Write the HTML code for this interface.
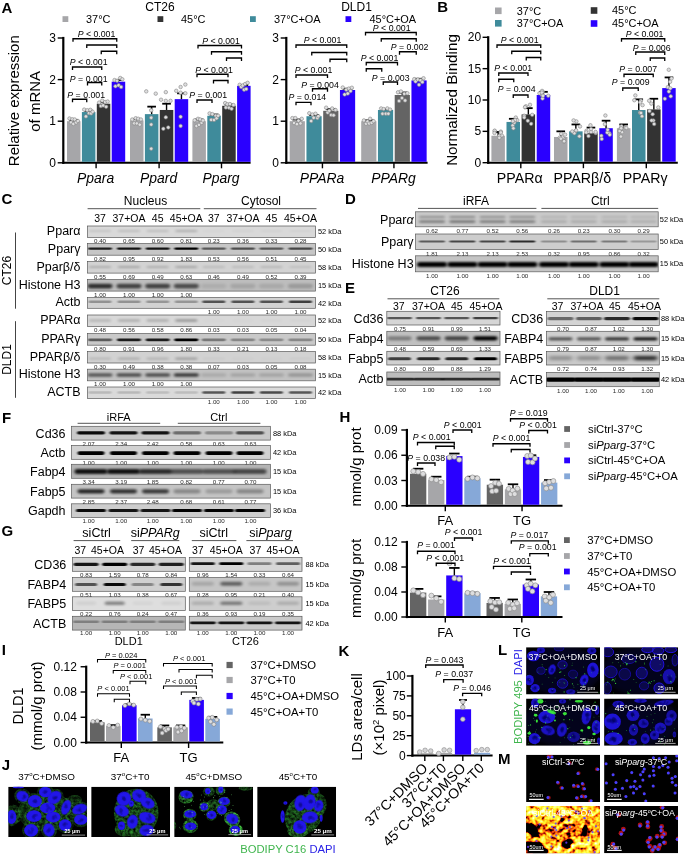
<!DOCTYPE html>
<html lang="en"><head><meta charset="utf-8"><title>Figure</title>
<style>
html,body{margin:0;padding:0;background:#fff}
body{width:685px;height:854px;overflow:hidden}
svg{display:block;font-family:"Liberation Sans",Arial,sans-serif;fill:#000}
</style></head><body>
<svg width="685" height="854" viewBox="0 0 685 854">
<defs>
<filter id="bl1" x="-20%" y="-100%" width="140%" height="300%"><feGaussianBlur stdDeviation="0.9 0.55"/></filter>
<filter id="bl2" x="-20%" y="-100%" width="140%" height="300%"><feGaussianBlur stdDeviation="1.6 1.0"/></filter>
<filter id="bl3" x="-20%" y="-100%" width="140%" height="300%"><feGaussianBlur stdDeviation="2.2 1.5"/></filter>
<filter id="g1" x="-30%" y="-30%" width="160%" height="160%"><feGaussianBlur stdDeviation="0.45"/></filter>
<filter id="g2" x="-30%" y="-30%" width="160%" height="160%"><feGaussianBlur stdDeviation="1.3"/></filter>
<filter id="g3" x="-40%" y="-40%" width="180%" height="180%"><feGaussianBlur stdDeviation="2.6"/></filter>
<filter id="gm" x="-30%" y="-30%" width="160%" height="160%"><feGaussianBlur stdDeviation="0.85"/></filter>
<filter id="gc" x="-50%" y="-50%" width="200%" height="200%"><feGaussianBlur stdDeviation="0.6"/></filter>
<filter id="gn" x="-10%" y="-10%" width="120%" height="120%"><feGaussianBlur stdDeviation="0.75" result="b"/><feTurbulence type="fractalNoise" baseFrequency="0.38" numOctaves="2" seed="3"/><feColorMatrix type="matrix" values="0 0 0 0 1  0 0 0 0 1  0 0 0 0 1  1.5 0 0 0 -0.2" result="n"/><feComposite in="b" in2="n" operator="in"/></filter>
<filter id="g0" x="-30%" y="-30%" width="160%" height="160%"><feGaussianBlur stdDeviation="0.25"/></filter>
<filter id="fire" x="0" y="0" width="100%" height="100%" color-interpolation-filters="sRGB"><feGaussianBlur in="SourceGraphic" stdDeviation="0.9" result="m"/><feTurbulence type="fractalNoise" baseFrequency="0.2 0.22" numOctaves="2" seed="11"/><feColorMatrix type="matrix" values="1 0 0 0 0  1 0 0 0 0  1 0 0 0 0  0 0 0 0 1" result="a"/><feTurbulence type="fractalNoise" baseFrequency="0.05 0.06" numOctaves="1" seed="5"/><feColorMatrix type="matrix" values="1 0 0 0 0  1 0 0 0 0  1 0 0 0 0  0 0 0 0 1" result="b"/><feComposite in="a" in2="b" operator="arithmetic" k1="0" k2="1" k3="0.4" k4="-0.13" result="c"/><feComposite in="c" in2="m" operator="arithmetic" k1="1" k2="0" k3="0" k4="0"/><feComponentTransfer><feFuncR type="table" tableValues="0 0 0 0 0.1 0.65 1 1 1 1 1 1 1 1"/><feFuncG type="table" tableValues="0 0 0 0 0 0.08 0.35 0.7 0.9 1 1 1 1 1"/><feFuncB type="table" tableValues="0 0 0 0 0 0.02 0.04 0.06 0.12 0.25 0.45 0.7 1 1"/><feFuncA type="linear" slope="0" intercept="1"/></feComponentTransfer></filter>
</defs>
<rect x="0" y="0" width="685" height="854" fill="#fff"/>
<text x="1.4" y="12.6" font-size="15" font-weight="bold">A</text>
<text x="160" y="10.5" font-size="12" text-anchor="middle">CT26</text>
<text x="356.5" y="10.5" font-size="12" text-anchor="middle">DLD1</text>
<rect x="62.5" y="16.2" width="5.8" height="5.8" fill="#a6a6a9"/>
<text x="86" y="23" font-size="10.95">37°C</text>
<rect x="157.5" y="16.2" width="5.8" height="5.8" fill="#333333"/>
<text x="181" y="23" font-size="10.95">45°C</text>
<rect x="250" y="16.2" width="5.8" height="5.8" fill="#3f8b9b"/>
<text x="274" y="23" font-size="10.95">37°C+OA</text>
<rect x="345.5" y="16.2" width="5.8" height="5.8" fill="#2a00ff"/>
<text x="369.5" y="23" font-size="10.95">45°C+OA</text>
<text x="19.1" y="100.7" font-size="15" text-anchor="middle" transform="rotate(-90 19.1 100.7)">Relative expression</text>
<text x="40.2" y="101.3" font-size="15" text-anchor="middle" transform="rotate(-90 40.2 101.3)">of mRNA</text>
<line x1="62.3" y1="162.8" x2="250.6" y2="162.8" stroke="#000" stroke-width="2"/>
<line x1="96.1" y1="162.8" x2="96.1" y2="168.3" stroke="#000" stroke-width="1.4"/>
<line x1="159.1" y1="162.8" x2="159.1" y2="168.3" stroke="#000" stroke-width="1.4"/>
<line x1="221.5" y1="162.8" x2="221.5" y2="168.3" stroke="#000" stroke-width="1.4"/>
<rect x="67" y="121.2" width="13.5" height="40.6" fill="#a6a6a9"/>
<line x1="73.75" y1="121.2" x2="73.75" y2="119.95" stroke="#000" stroke-width="1.4"/>
<line x1="69.43" y1="119.95" x2="78.07" y2="119.95" stroke="#000" stroke-width="1.8"/>
<circle cx="69.46" cy="118.47" r="1.75" fill="#dededf" stroke="#858585" stroke-width="0.6"/>
<circle cx="71.07" cy="122.39" r="1.75" fill="#dededf" stroke="#858585" stroke-width="0.6"/>
<circle cx="72.39" cy="119.25" r="1.75" fill="#dededf" stroke="#858585" stroke-width="0.6"/>
<circle cx="73.36" cy="123.96" r="1.75" fill="#dededf" stroke="#858585" stroke-width="0.6"/>
<circle cx="74.76" cy="119.49" r="1.75" fill="#dededf" stroke="#858585" stroke-width="0.6"/>
<circle cx="76.14" cy="122.46" r="1.75" fill="#dededf" stroke="#858585" stroke-width="0.6"/>
<circle cx="77.84" cy="120.91" r="1.75" fill="#dededf" stroke="#858585" stroke-width="0.6"/>
<rect x="81.9" y="112.05" width="13.5" height="49.75" fill="#3f8b9b"/>
<line x1="88.65" y1="112.05" x2="88.65" y2="110.8" stroke="#000" stroke-width="1.4"/>
<line x1="84.33" y1="110.8" x2="92.97" y2="110.8" stroke="#000" stroke-width="1.8"/>
<circle cx="84.2" cy="109.58" r="1.75" fill="#dededf" stroke="#858585" stroke-width="0.6"/>
<circle cx="85.95" cy="116.39" r="1.75" fill="#dededf" stroke="#858585" stroke-width="0.6"/>
<circle cx="87.33" cy="110.21" r="1.75" fill="#dededf" stroke="#858585" stroke-width="0.6"/>
<circle cx="89" cy="113.15" r="1.75" fill="#dededf" stroke="#858585" stroke-width="0.6"/>
<circle cx="90.32" cy="109.82" r="1.75" fill="#dededf" stroke="#858585" stroke-width="0.6"/>
<circle cx="91.1" cy="113.4" r="1.75" fill="#dededf" stroke="#858585" stroke-width="0.6"/>
<circle cx="92.65" cy="111.72" r="1.75" fill="#dededf" stroke="#858585" stroke-width="0.6"/>
<rect x="96.8" y="103.73" width="13.5" height="58.07" fill="#333333"/>
<line x1="103.55" y1="103.73" x2="103.55" y2="102.06" stroke="#000" stroke-width="1.4"/>
<line x1="99.23" y1="102.06" x2="107.87" y2="102.06" stroke="#000" stroke-width="1.8"/>
<circle cx="99.14" cy="102.55" r="1.75" fill="#dededf" stroke="#858585" stroke-width="0.6"/>
<circle cx="100.86" cy="106" r="1.75" fill="#dededf" stroke="#858585" stroke-width="0.6"/>
<circle cx="102.2" cy="100.68" r="1.75" fill="#dededf" stroke="#858585" stroke-width="0.6"/>
<circle cx="103.16" cy="105.4" r="1.75" fill="#dededf" stroke="#858585" stroke-width="0.6"/>
<circle cx="105.08" cy="102" r="1.75" fill="#dededf" stroke="#858585" stroke-width="0.6"/>
<circle cx="106.14" cy="106.77" r="1.75" fill="#dededf" stroke="#858585" stroke-width="0.6"/>
<circle cx="107.66" cy="101.54" r="1.75" fill="#dededf" stroke="#858585" stroke-width="0.6"/>
<rect x="111.7" y="81.68" width="13.5" height="80.12" fill="#2a00ff"/>
<line x1="118.45" y1="81.68" x2="118.45" y2="80.02" stroke="#000" stroke-width="1.4"/>
<line x1="114.13" y1="80.02" x2="122.77" y2="80.02" stroke="#000" stroke-width="1.8"/>
<circle cx="114.53" cy="80.07" r="1.75" fill="#dededf" stroke="#858585" stroke-width="0.6"/>
<circle cx="115.44" cy="86.27" r="1.75" fill="#dededf" stroke="#858585" stroke-width="0.6"/>
<circle cx="117.09" cy="80.7" r="1.75" fill="#dededf" stroke="#858585" stroke-width="0.6"/>
<circle cx="118.6" cy="85.24" r="1.75" fill="#dededf" stroke="#858585" stroke-width="0.6"/>
<circle cx="120.22" cy="77.98" r="1.75" fill="#dededf" stroke="#858585" stroke-width="0.6"/>
<circle cx="121.12" cy="86.93" r="1.75" fill="#dededf" stroke="#858585" stroke-width="0.6"/>
<circle cx="122.32" cy="79.31" r="1.75" fill="#dededf" stroke="#858585" stroke-width="0.6"/>
<text x="95.6" y="182.5" font-size="13.9" text-anchor="middle" font-style="italic">Ppara</text>
<rect x="130" y="120.37" width="13.5" height="41.43" fill="#a6a6a9"/>
<line x1="136.75" y1="120.37" x2="136.75" y2="119.12" stroke="#000" stroke-width="1.4"/>
<line x1="132.43" y1="119.12" x2="141.07" y2="119.12" stroke="#000" stroke-width="1.8"/>
<circle cx="132.23" cy="119.5" r="1.75" fill="#dededf" stroke="#858585" stroke-width="0.6"/>
<circle cx="134.16" cy="123.36" r="1.75" fill="#dededf" stroke="#858585" stroke-width="0.6"/>
<circle cx="135.67" cy="118.23" r="1.75" fill="#dededf" stroke="#858585" stroke-width="0.6"/>
<circle cx="136.87" cy="123.44" r="1.75" fill="#dededf" stroke="#858585" stroke-width="0.6"/>
<circle cx="138.2" cy="118.74" r="1.75" fill="#dededf" stroke="#858585" stroke-width="0.6"/>
<circle cx="139.76" cy="124.7" r="1.75" fill="#dededf" stroke="#858585" stroke-width="0.6"/>
<circle cx="140.88" cy="119.49" r="1.75" fill="#dededf" stroke="#858585" stroke-width="0.6"/>
<rect x="144.9" y="114.13" width="13.5" height="47.67" fill="#3f8b9b"/>
<line x1="151.65" y1="114.13" x2="151.65" y2="106.64" stroke="#000" stroke-width="1.4"/>
<line x1="147.33" y1="106.64" x2="155.97" y2="106.64" stroke="#000" stroke-width="1.8"/>
<circle cx="146.25" cy="91.37" r="1.75" fill="#dededf" stroke="#858585" stroke-width="0.6"/>
<circle cx="155.74" cy="93.64" r="1.75" fill="#dededf" stroke="#858585" stroke-width="0.6"/>
<circle cx="151.19" cy="110.34" r="1.75" fill="#dededf" stroke="#858585" stroke-width="0.6"/>
<circle cx="151.19" cy="117.74" r="1.75" fill="#dededf" stroke="#858585" stroke-width="0.6"/>
<circle cx="151.19" cy="124.57" r="1.75" fill="#dededf" stroke="#858585" stroke-width="0.6"/>
<circle cx="151.19" cy="148.67" r="1.75" fill="#dededf" stroke="#858585" stroke-width="0.6"/>
<rect x="159.8" y="109.97" width="13.5" height="51.83" fill="#333333"/>
<line x1="166.55" y1="109.97" x2="166.55" y2="103.73" stroke="#000" stroke-width="1.4"/>
<line x1="162.23" y1="103.73" x2="170.87" y2="103.73" stroke="#000" stroke-width="1.8"/>
<circle cx="165.8" cy="92.13" r="1.75" fill="#dededf" stroke="#858585" stroke-width="0.6"/>
<circle cx="161.05" cy="99.72" r="1.75" fill="#dededf" stroke="#858585" stroke-width="0.6"/>
<circle cx="165.8" cy="100.85" r="1.75" fill="#dededf" stroke="#858585" stroke-width="0.6"/>
<circle cx="170.54" cy="100.85" r="1.75" fill="#dededf" stroke="#858585" stroke-width="0.6"/>
<circle cx="165.8" cy="117.36" r="1.75" fill="#dededf" stroke="#858585" stroke-width="0.6"/>
<circle cx="163.33" cy="128.75" r="1.75" fill="#dededf" stroke="#858585" stroke-width="0.6"/>
<circle cx="168.26" cy="127.42" r="1.75" fill="#dededf" stroke="#858585" stroke-width="0.6"/>
<rect x="174.7" y="99.15" width="13.5" height="62.65" fill="#2a00ff"/>
<line x1="181.45" y1="99.15" x2="181.45" y2="93.33" stroke="#000" stroke-width="1.4"/>
<line x1="177.13" y1="93.33" x2="185.77" y2="93.33" stroke="#000" stroke-width="1.8"/>
<circle cx="176.23" cy="90.8" r="1.75" fill="#dededf" stroke="#858585" stroke-width="0.6"/>
<circle cx="180.6" cy="87" r="1.75" fill="#dededf" stroke="#858585" stroke-width="0.6"/>
<circle cx="185.34" cy="84.54" r="1.75" fill="#dededf" stroke="#858585" stroke-width="0.6"/>
<circle cx="180.6" cy="92.69" r="1.75" fill="#dededf" stroke="#858585" stroke-width="0.6"/>
<circle cx="185.34" cy="93.26" r="1.75" fill="#dededf" stroke="#858585" stroke-width="0.6"/>
<circle cx="180.6" cy="116.79" r="1.75" fill="#dededf" stroke="#858585" stroke-width="0.6"/>
<circle cx="180.6" cy="125.9" r="1.75" fill="#dededf" stroke="#858585" stroke-width="0.6"/>
<text x="158.6" y="182.5" font-size="13.9" text-anchor="middle" font-style="italic">Ppard</text>
<rect x="192.4" y="121.2" width="13.5" height="40.6" fill="#a6a6a9"/>
<line x1="199.15" y1="121.2" x2="199.15" y2="119.54" stroke="#000" stroke-width="1.4"/>
<line x1="194.83" y1="119.54" x2="203.47" y2="119.54" stroke="#000" stroke-width="1.8"/>
<circle cx="194.65" cy="120.29" r="1.75" fill="#dededf" stroke="#858585" stroke-width="0.6"/>
<circle cx="196.47" cy="126" r="1.75" fill="#dededf" stroke="#858585" stroke-width="0.6"/>
<circle cx="198.02" cy="118.79" r="1.75" fill="#dededf" stroke="#858585" stroke-width="0.6"/>
<circle cx="199.02" cy="124.84" r="1.75" fill="#dededf" stroke="#858585" stroke-width="0.6"/>
<circle cx="200.15" cy="119.43" r="1.75" fill="#dededf" stroke="#858585" stroke-width="0.6"/>
<circle cx="201.62" cy="122.85" r="1.75" fill="#dededf" stroke="#858585" stroke-width="0.6"/>
<circle cx="202.95" cy="120.53" r="1.75" fill="#dededf" stroke="#858585" stroke-width="0.6"/>
<rect x="207.3" y="115.79" width="13.5" height="46.01" fill="#3f8b9b"/>
<line x1="214.05" y1="115.79" x2="214.05" y2="114.54" stroke="#000" stroke-width="1.4"/>
<line x1="209.73" y1="114.54" x2="218.37" y2="114.54" stroke="#000" stroke-width="1.8"/>
<circle cx="209.6" cy="113.41" r="1.75" fill="#dededf" stroke="#858585" stroke-width="0.6"/>
<circle cx="211.16" cy="119.86" r="1.75" fill="#dededf" stroke="#858585" stroke-width="0.6"/>
<circle cx="212.33" cy="114.14" r="1.75" fill="#dededf" stroke="#858585" stroke-width="0.6"/>
<circle cx="214.06" cy="119.9" r="1.75" fill="#dededf" stroke="#858585" stroke-width="0.6"/>
<circle cx="215.69" cy="115.63" r="1.75" fill="#dededf" stroke="#858585" stroke-width="0.6"/>
<circle cx="216.61" cy="118.22" r="1.75" fill="#dededf" stroke="#858585" stroke-width="0.6"/>
<circle cx="218.09" cy="115.71" r="1.75" fill="#dededf" stroke="#858585" stroke-width="0.6"/>
<rect x="222.2" y="105.81" width="13.5" height="55.99" fill="#333333"/>
<line x1="228.95" y1="105.81" x2="228.95" y2="104.56" stroke="#000" stroke-width="1.4"/>
<line x1="224.63" y1="104.56" x2="233.27" y2="104.56" stroke="#000" stroke-width="1.8"/>
<circle cx="225.16" cy="103.08" r="1.75" fill="#dededf" stroke="#858585" stroke-width="0.6"/>
<circle cx="225.89" cy="107.57" r="1.75" fill="#dededf" stroke="#858585" stroke-width="0.6"/>
<circle cx="227.35" cy="104.28" r="1.75" fill="#dededf" stroke="#858585" stroke-width="0.6"/>
<circle cx="228.99" cy="107.68" r="1.75" fill="#dededf" stroke="#858585" stroke-width="0.6"/>
<circle cx="229.94" cy="104.05" r="1.75" fill="#dededf" stroke="#858585" stroke-width="0.6"/>
<circle cx="231.58" cy="108.78" r="1.75" fill="#dededf" stroke="#858585" stroke-width="0.6"/>
<circle cx="233.46" cy="105.02" r="1.75" fill="#dededf" stroke="#858585" stroke-width="0.6"/>
<rect x="237.1" y="85.84" width="13.5" height="75.96" fill="#2a00ff"/>
<line x1="243.85" y1="85.84" x2="243.85" y2="85.01" stroke="#000" stroke-width="1.4"/>
<line x1="239.53" y1="85.01" x2="248.17" y2="85.01" stroke="#000" stroke-width="1.8"/>
<circle cx="239.71" cy="84.79" r="1.75" fill="#dededf" stroke="#858585" stroke-width="0.6"/>
<circle cx="241.19" cy="86.96" r="1.75" fill="#dededf" stroke="#858585" stroke-width="0.6"/>
<circle cx="242.79" cy="85.38" r="1.75" fill="#dededf" stroke="#858585" stroke-width="0.6"/>
<circle cx="244.12" cy="89.64" r="1.75" fill="#dededf" stroke="#858585" stroke-width="0.6"/>
<circle cx="245.15" cy="84.01" r="1.75" fill="#dededf" stroke="#858585" stroke-width="0.6"/>
<circle cx="246.27" cy="89.05" r="1.75" fill="#dededf" stroke="#858585" stroke-width="0.6"/>
<circle cx="247.65" cy="82.81" r="1.75" fill="#dededf" stroke="#858585" stroke-width="0.6"/>
<text x="221" y="182.5" font-size="13.9" text-anchor="middle" font-style="italic">Pparg</text>
<line x1="63.3" y1="36.9" x2="63.3" y2="163.9" stroke="#000" stroke-width="2.2"/>
<line x1="57.7" y1="38" x2="63.3" y2="38" stroke="#000" stroke-width="1.4"/>
<text x="56" y="42.02" font-size="12" text-anchor="end">3</text>
<line x1="57.7" y1="79.6" x2="63.3" y2="79.6" stroke="#000" stroke-width="1.4"/>
<text x="56" y="83.62" font-size="12" text-anchor="end">2</text>
<line x1="57.7" y1="121.2" x2="63.3" y2="121.2" stroke="#000" stroke-width="1.4"/>
<text x="56" y="125.22" font-size="12" text-anchor="end">1</text>
<line x1="57.7" y1="162.8" x2="63.3" y2="162.8" stroke="#000" stroke-width="1.4"/>
<text x="56" y="166.82" font-size="12" text-anchor="end">0</text>
<line x1="285.3" y1="162.8" x2="427.6" y2="162.8" stroke="#000" stroke-width="2"/>
<line x1="322.43" y1="162.8" x2="322.43" y2="168.3" stroke="#000" stroke-width="1.4"/>
<line x1="393.93" y1="162.8" x2="393.93" y2="168.3" stroke="#000" stroke-width="1.4"/>
<rect x="289.7" y="121.2" width="15.2" height="40.6" fill="#a6a6a9"/>
<line x1="297.3" y1="121.2" x2="297.3" y2="119.54" stroke="#000" stroke-width="1.4"/>
<line x1="292.44" y1="119.54" x2="302.16" y2="119.54" stroke="#000" stroke-width="1.8"/>
<circle cx="292.39" cy="118.12" r="1.75" fill="#dededf" stroke="#858585" stroke-width="0.6"/>
<circle cx="294.02" cy="123.05" r="1.75" fill="#dededf" stroke="#858585" stroke-width="0.6"/>
<circle cx="295.34" cy="118.08" r="1.75" fill="#dededf" stroke="#858585" stroke-width="0.6"/>
<circle cx="296.94" cy="124.17" r="1.75" fill="#dededf" stroke="#858585" stroke-width="0.6"/>
<circle cx="298.48" cy="120.68" r="1.75" fill="#dededf" stroke="#858585" stroke-width="0.6"/>
<circle cx="300.47" cy="123.4" r="1.75" fill="#dededf" stroke="#858585" stroke-width="0.6"/>
<circle cx="301.78" cy="118.79" r="1.75" fill="#dededf" stroke="#858585" stroke-width="0.6"/>
<rect x="306.45" y="116.21" width="15.2" height="45.59" fill="#3f8b9b"/>
<line x1="314.05" y1="116.21" x2="314.05" y2="114.96" stroke="#000" stroke-width="1.4"/>
<line x1="309.19" y1="114.96" x2="318.91" y2="114.96" stroke="#000" stroke-width="1.8"/>
<circle cx="309.27" cy="113.22" r="1.75" fill="#dededf" stroke="#858585" stroke-width="0.6"/>
<circle cx="311.18" cy="121.01" r="1.75" fill="#dededf" stroke="#858585" stroke-width="0.6"/>
<circle cx="312.46" cy="114.52" r="1.75" fill="#dededf" stroke="#858585" stroke-width="0.6"/>
<circle cx="313.68" cy="117.8" r="1.75" fill="#dededf" stroke="#858585" stroke-width="0.6"/>
<circle cx="315.48" cy="113.73" r="1.75" fill="#dededf" stroke="#858585" stroke-width="0.6"/>
<circle cx="317.39" cy="118.02" r="1.75" fill="#dededf" stroke="#858585" stroke-width="0.6"/>
<circle cx="318.34" cy="116.2" r="1.75" fill="#dededf" stroke="#858585" stroke-width="0.6"/>
<rect x="323.2" y="110.8" width="15.2" height="51" fill="#646464"/>
<line x1="330.8" y1="110.8" x2="330.8" y2="109.14" stroke="#000" stroke-width="1.4"/>
<line x1="325.94" y1="109.14" x2="335.66" y2="109.14" stroke="#000" stroke-width="1.8"/>
<circle cx="326.15" cy="107.66" r="1.75" fill="#dededf" stroke="#858585" stroke-width="0.6"/>
<circle cx="327.68" cy="112.56" r="1.75" fill="#dededf" stroke="#858585" stroke-width="0.6"/>
<circle cx="329.26" cy="110.66" r="1.75" fill="#dededf" stroke="#858585" stroke-width="0.6"/>
<circle cx="331.05" cy="114.97" r="1.75" fill="#dededf" stroke="#858585" stroke-width="0.6"/>
<circle cx="332.17" cy="108.46" r="1.75" fill="#dededf" stroke="#858585" stroke-width="0.6"/>
<circle cx="333.61" cy="115.24" r="1.75" fill="#dededf" stroke="#858585" stroke-width="0.6"/>
<circle cx="335.5" cy="109.94" r="1.75" fill="#dededf" stroke="#858585" stroke-width="0.6"/>
<rect x="339.95" y="90" width="15.2" height="71.8" fill="#2a00ff"/>
<line x1="347.55" y1="90" x2="347.55" y2="88.75" stroke="#000" stroke-width="1.4"/>
<line x1="342.69" y1="88.75" x2="352.41" y2="88.75" stroke="#000" stroke-width="1.8"/>
<circle cx="342.74" cy="87.53" r="1.75" fill="#dededf" stroke="#858585" stroke-width="0.6"/>
<circle cx="344.65" cy="94.48" r="1.75" fill="#dededf" stroke="#858585" stroke-width="0.6"/>
<circle cx="346.27" cy="89.63" r="1.75" fill="#dededf" stroke="#858585" stroke-width="0.6"/>
<circle cx="347.77" cy="93.59" r="1.75" fill="#dededf" stroke="#858585" stroke-width="0.6"/>
<circle cx="348.89" cy="88.59" r="1.75" fill="#dededf" stroke="#858585" stroke-width="0.6"/>
<circle cx="350.51" cy="91.03" r="1.75" fill="#dededf" stroke="#858585" stroke-width="0.6"/>
<circle cx="351.85" cy="87.74" r="1.75" fill="#dededf" stroke="#858585" stroke-width="0.6"/>
<text x="321.93" y="182.5" font-size="13.9" text-anchor="middle" font-style="italic">PPARa</text>
<rect x="361.2" y="121.2" width="15.2" height="40.6" fill="#a6a6a9"/>
<line x1="368.8" y1="121.2" x2="368.8" y2="120.37" stroke="#000" stroke-width="1.4"/>
<line x1="363.94" y1="120.37" x2="373.66" y2="120.37" stroke="#000" stroke-width="1.8"/>
<circle cx="363.93" cy="120.42" r="1.75" fill="#dededf" stroke="#858585" stroke-width="0.6"/>
<circle cx="366.01" cy="123.74" r="1.75" fill="#dededf" stroke="#858585" stroke-width="0.6"/>
<circle cx="367.59" cy="121.49" r="1.75" fill="#dededf" stroke="#858585" stroke-width="0.6"/>
<circle cx="369.13" cy="123.44" r="1.75" fill="#dededf" stroke="#858585" stroke-width="0.6"/>
<circle cx="370.13" cy="118.75" r="1.75" fill="#dededf" stroke="#858585" stroke-width="0.6"/>
<circle cx="371.64" cy="122.87" r="1.75" fill="#dededf" stroke="#858585" stroke-width="0.6"/>
<circle cx="373.57" cy="121.17" r="1.75" fill="#dededf" stroke="#858585" stroke-width="0.6"/>
<rect x="377.95" y="109.97" width="15.2" height="51.83" fill="#3f8b9b"/>
<line x1="385.55" y1="109.97" x2="385.55" y2="109.14" stroke="#000" stroke-width="1.4"/>
<line x1="380.69" y1="109.14" x2="390.41" y2="109.14" stroke="#000" stroke-width="1.8"/>
<circle cx="381.15" cy="108.42" r="1.75" fill="#dededf" stroke="#858585" stroke-width="0.6"/>
<circle cx="382.52" cy="113.78" r="1.75" fill="#dededf" stroke="#858585" stroke-width="0.6"/>
<circle cx="383.66" cy="109.08" r="1.75" fill="#dededf" stroke="#858585" stroke-width="0.6"/>
<circle cx="385.84" cy="113.71" r="1.75" fill="#dededf" stroke="#858585" stroke-width="0.6"/>
<circle cx="387.31" cy="108.42" r="1.75" fill="#dededf" stroke="#858585" stroke-width="0.6"/>
<circle cx="388.37" cy="113.74" r="1.75" fill="#dededf" stroke="#858585" stroke-width="0.6"/>
<circle cx="390.09" cy="109.58" r="1.75" fill="#dededf" stroke="#858585" stroke-width="0.6"/>
<rect x="394.7" y="94.99" width="15.2" height="66.81" fill="#646464"/>
<line x1="402.3" y1="94.99" x2="402.3" y2="92.5" stroke="#000" stroke-width="1.4"/>
<line x1="397.44" y1="92.5" x2="407.16" y2="92.5" stroke="#000" stroke-width="1.8"/>
<circle cx="398" cy="92.29" r="1.75" fill="#dededf" stroke="#858585" stroke-width="0.6"/>
<circle cx="399.07" cy="100.93" r="1.75" fill="#dededf" stroke="#858585" stroke-width="0.6"/>
<circle cx="400.92" cy="91.47" r="1.75" fill="#dededf" stroke="#858585" stroke-width="0.6"/>
<circle cx="401.96" cy="98.06" r="1.75" fill="#dededf" stroke="#858585" stroke-width="0.6"/>
<circle cx="404.18" cy="93.77" r="1.75" fill="#dededf" stroke="#858585" stroke-width="0.6"/>
<circle cx="405.09" cy="100.49" r="1.75" fill="#dededf" stroke="#858585" stroke-width="0.6"/>
<circle cx="407.36" cy="93.23" r="1.75" fill="#dededf" stroke="#858585" stroke-width="0.6"/>
<rect x="411.45" y="80.43" width="15.2" height="81.37" fill="#2a00ff"/>
<line x1="419.05" y1="80.43" x2="419.05" y2="78.77" stroke="#000" stroke-width="1.4"/>
<line x1="414.19" y1="78.77" x2="423.91" y2="78.77" stroke="#000" stroke-width="1.8"/>
<circle cx="414.26" cy="79.14" r="1.75" fill="#dededf" stroke="#858585" stroke-width="0.6"/>
<circle cx="415.6" cy="81.41" r="1.75" fill="#dededf" stroke="#858585" stroke-width="0.6"/>
<circle cx="417.87" cy="79.5" r="1.75" fill="#dededf" stroke="#858585" stroke-width="0.6"/>
<circle cx="419.03" cy="84.72" r="1.75" fill="#dededf" stroke="#858585" stroke-width="0.6"/>
<circle cx="420.56" cy="80.3" r="1.75" fill="#dededf" stroke="#858585" stroke-width="0.6"/>
<circle cx="422.39" cy="82.12" r="1.75" fill="#dededf" stroke="#858585" stroke-width="0.6"/>
<circle cx="423.53" cy="78.22" r="1.75" fill="#dededf" stroke="#858585" stroke-width="0.6"/>
<text x="393.43" y="182.5" font-size="13.9" text-anchor="middle" font-style="italic">PPARg</text>
<line x1="286.3" y1="36.9" x2="286.3" y2="163.9" stroke="#000" stroke-width="2.2"/>
<line x1="280.7" y1="38" x2="286.3" y2="38" stroke="#000" stroke-width="1.4"/>
<text x="279" y="42.02" font-size="12" text-anchor="end">3</text>
<line x1="280.7" y1="79.6" x2="286.3" y2="79.6" stroke="#000" stroke-width="1.4"/>
<text x="279" y="83.62" font-size="12" text-anchor="end">2</text>
<line x1="280.7" y1="121.2" x2="286.3" y2="121.2" stroke="#000" stroke-width="1.4"/>
<text x="279" y="125.22" font-size="12" text-anchor="end">1</text>
<line x1="280.7" y1="162.8" x2="286.3" y2="162.8" stroke="#000" stroke-width="1.4"/>
<text x="279" y="166.82" font-size="12" text-anchor="end">0</text>
<path d="M73 41.75V38.75H116.75V41.75" stroke="#000" stroke-width="1.3" fill="none"/>
<text x="96.5" y="37.15" font-size="8.75" text-anchor="middle"><tspan font-style="italic">P</tspan> &lt; 0.001</text>
<path d="M86.75 48V45H116.75V48" stroke="#000" stroke-width="1.3" fill="none"/>
<path d="M101.25 54.25V51.25H116.75V54.25" stroke="#000" stroke-width="1.3" fill="none"/>
<path d="M72.5 70V67H101.75V70" stroke="#000" stroke-width="1.3" fill="none"/>
<text x="88.7" y="65.4" font-size="8.75" text-anchor="middle"><tspan font-style="italic">P</tspan> &lt; 0.001</text>
<path d="M87.5 85.5V82.5H101.75V85.5" stroke="#000" stroke-width="1.3" fill="none"/>
<text x="88.7" y="81.5" font-size="8.75" text-anchor="middle"><tspan font-style="italic">P</tspan> = 0.001</text>
<path d="M72.5 102.25V99.25H86.75V102.25" stroke="#000" stroke-width="1.3" fill="none"/>
<text x="86.2" y="97.8" font-size="8.75" text-anchor="middle"><tspan font-style="italic">P</tspan> = 0.001</text>
<path d="M198 48.5V45.5H241.5V48.5" stroke="#000" stroke-width="1.3" fill="none"/>
<text x="221" y="43.9" font-size="8.75" text-anchor="middle"><tspan font-style="italic">P</tspan> &lt; 0.001</text>
<path d="M211.5 54.75V51.75H241.5V54.75" stroke="#000" stroke-width="1.3" fill="none"/>
<path d="M226.5 61V58H241.5V61" stroke="#000" stroke-width="1.3" fill="none"/>
<path d="M197 77.25V74.25H228V77.25" stroke="#000" stroke-width="1.3" fill="none"/>
<text x="214" y="72.65" font-size="8.75" text-anchor="middle"><tspan font-style="italic">P</tspan> &lt; 0.001</text>
<path d="M213.5 83.5V80.5H228V83.5" stroke="#000" stroke-width="1.3" fill="none"/>
<path d="M197 103V100H212V103" stroke="#000" stroke-width="1.3" fill="none"/>
<text x="208.2" y="98.4" font-size="8.75" text-anchor="middle"><tspan font-style="italic">P</tspan> = 0.001</text>
<path d="M296 48V45H346.75V48" stroke="#000" stroke-width="1.3" fill="none"/>
<text x="322.5" y="43.4" font-size="8.75" text-anchor="middle"><tspan font-style="italic">P</tspan> &lt; 0.001</text>
<path d="M311.75 55.5V52.5H346.75V55.5" stroke="#000" stroke-width="1.3" fill="none"/>
<path d="M330 62.25V59.25H346.75V62.25" stroke="#000" stroke-width="1.3" fill="none"/>
<path d="M296 78V75H327.5V78" stroke="#000" stroke-width="1.3" fill="none"/>
<text x="313.5" y="73.4" font-size="8.75" text-anchor="middle"><tspan font-style="italic">P</tspan> &lt; 0.001</text>
<path d="M312.5 91.75V88.75H327.5V91.75" stroke="#000" stroke-width="1.3" fill="none"/>
<text x="320" y="87.5" font-size="8.75" text-anchor="middle"><tspan font-style="italic">P</tspan> = 0.004</text>
<path d="M296 105.3V102.3H311V105.3" stroke="#000" stroke-width="1.3" fill="none"/>
<text x="307.3" y="100.3" font-size="8.75" text-anchor="middle"><tspan font-style="italic">P</tspan> = 0.014</text>
<path d="M365.5 35.5V32.5H416.25V35.5" stroke="#000" stroke-width="1.3" fill="none"/>
<text x="391.7" y="30.9" font-size="8.75" text-anchor="middle"><tspan font-style="italic">P</tspan> &lt; 0.001</text>
<path d="M381.25 41.75V38.75H416.25V41.75" stroke="#000" stroke-width="1.3" fill="none"/>
<path d="M399.5 54.75V51.75H416.25V54.75" stroke="#000" stroke-width="1.3" fill="none"/>
<text x="409.6" y="50.2" font-size="8.75" text-anchor="middle"><tspan font-style="italic">P</tspan> = 0.002</text>
<path d="M366.25 65.5V62.5H397.5V65.5" stroke="#000" stroke-width="1.3" fill="none"/>
<text x="379.5" y="60.9" font-size="8.75" text-anchor="middle"><tspan font-style="italic">P</tspan> &lt; 0.001</text>
<path d="M366.25 71.75V68.75H381.75V71.75" stroke="#000" stroke-width="1.3" fill="none"/>
<path d="M383.25 85V82H397.5V85" stroke="#000" stroke-width="1.3" fill="none"/>
<text x="390.7" y="81" font-size="8.75" text-anchor="middle"><tspan font-style="italic">P</tspan> = 0.003</text>
<text x="437.3" y="12.4" font-size="15" font-weight="bold">B</text>
<rect x="495" y="7.5" width="6.6" height="6.6" fill="#a6a6a9"/>
<text x="516.75" y="14.7" font-size="10.95">37°C</text>
<rect x="495" y="20" width="6.6" height="6.6" fill="#3f8b9b"/>
<text x="516.75" y="27.2" font-size="10.95">37°C+OA</text>
<rect x="590.75" y="7.2" width="6.6" height="6.6" fill="#333333"/>
<text x="612" y="14.4" font-size="10.95">45°C</text>
<rect x="590.75" y="20.2" width="6.6" height="6.6" fill="#2a00ff"/>
<text x="612" y="27.4" font-size="10.95">45°C+OA</text>
<text x="457" y="100" font-size="15.2" text-anchor="middle" transform="rotate(-90 457 100)">Normalized Binding</text>
<line x1="487.2" y1="162.7" x2="677.8" y2="162.7" stroke="#000" stroke-width="2"/>
<line x1="520.8" y1="162.7" x2="520.8" y2="168.2" stroke="#000" stroke-width="1.4"/>
<line x1="583.4" y1="162.7" x2="583.4" y2="168.2" stroke="#000" stroke-width="1.4"/>
<line x1="646.3" y1="162.7" x2="646.3" y2="168.2" stroke="#000" stroke-width="1.4"/>
<rect x="491.4" y="135.74" width="13.5" height="25.96" fill="#a6a6a9"/>
<line x1="498.15" y1="135.74" x2="498.15" y2="131.98" stroke="#000" stroke-width="1.4"/>
<line x1="493.83" y1="131.98" x2="502.47" y2="131.98" stroke="#000" stroke-width="1.8"/>
<circle cx="501.77" cy="135.49" r="1.75" fill="#dededf" stroke="#858585" stroke-width="0.6"/>
<circle cx="500.84" cy="131.58" r="1.75" fill="#dededf" stroke="#858585" stroke-width="0.6"/>
<circle cx="499.21" cy="135.93" r="1.75" fill="#dededf" stroke="#858585" stroke-width="0.6"/>
<circle cx="500.83" cy="132.48" r="1.75" fill="#dededf" stroke="#858585" stroke-width="0.6"/>
<circle cx="494.75" cy="131.06" r="1.75" fill="#dededf" stroke="#858585" stroke-width="0.6"/>
<circle cx="494.67" cy="130.69" r="1.75" fill="#dededf" stroke="#858585" stroke-width="0.6"/>
<circle cx="499.31" cy="137.85" r="1.75" fill="#dededf" stroke="#858585" stroke-width="0.6"/>
<circle cx="494.46" cy="132.98" r="1.75" fill="#dededf" stroke="#858585" stroke-width="0.6"/>
<rect x="506.5" y="121.94" width="13.5" height="39.75" fill="#3f8b9b"/>
<line x1="513.25" y1="121.94" x2="513.25" y2="118.81" stroke="#000" stroke-width="1.4"/>
<line x1="508.93" y1="118.81" x2="517.57" y2="118.81" stroke="#000" stroke-width="1.8"/>
<circle cx="515.78" cy="117.55" r="1.75" fill="#dededf" stroke="#858585" stroke-width="0.6"/>
<circle cx="517.26" cy="120.15" r="1.75" fill="#dededf" stroke="#858585" stroke-width="0.6"/>
<circle cx="512.7" cy="125.48" r="1.75" fill="#dededf" stroke="#858585" stroke-width="0.6"/>
<circle cx="514.34" cy="122.64" r="1.75" fill="#dededf" stroke="#858585" stroke-width="0.6"/>
<circle cx="513.3" cy="120.87" r="1.75" fill="#dededf" stroke="#858585" stroke-width="0.6"/>
<circle cx="513.37" cy="128.35" r="1.75" fill="#dededf" stroke="#858585" stroke-width="0.6"/>
<circle cx="515.12" cy="120.03" r="1.75" fill="#dededf" stroke="#858585" stroke-width="0.6"/>
<circle cx="512.79" cy="121.23" r="1.75" fill="#dededf" stroke="#858585" stroke-width="0.6"/>
<rect x="521.6" y="114.42" width="13.5" height="47.28" fill="#333333"/>
<line x1="528.35" y1="114.42" x2="528.35" y2="108.15" stroke="#000" stroke-width="1.4"/>
<line x1="524.03" y1="108.15" x2="532.67" y2="108.15" stroke="#000" stroke-width="1.8"/>
<circle cx="527.79" cy="120.72" r="1.75" fill="#dededf" stroke="#858585" stroke-width="0.6"/>
<circle cx="524.2" cy="115.76" r="1.75" fill="#dededf" stroke="#858585" stroke-width="0.6"/>
<circle cx="525.83" cy="106.26" r="1.75" fill="#dededf" stroke="#858585" stroke-width="0.6"/>
<circle cx="524.2" cy="117.56" r="1.75" fill="#dededf" stroke="#858585" stroke-width="0.6"/>
<circle cx="530" cy="104.8" r="1.75" fill="#dededf" stroke="#858585" stroke-width="0.6"/>
<circle cx="531.11" cy="123.86" r="1.75" fill="#dededf" stroke="#858585" stroke-width="0.6"/>
<circle cx="532.21" cy="114.86" r="1.75" fill="#dededf" stroke="#858585" stroke-width="0.6"/>
<circle cx="524.99" cy="107.21" r="1.75" fill="#dededf" stroke="#858585" stroke-width="0.6"/>
<rect x="536.7" y="94.98" width="13.5" height="66.72" fill="#2a00ff"/>
<line x1="543.45" y1="94.98" x2="543.45" y2="91.85" stroke="#000" stroke-width="1.4"/>
<line x1="539.13" y1="91.85" x2="547.77" y2="91.85" stroke="#000" stroke-width="1.8"/>
<circle cx="548.25" cy="95.76" r="1.75" fill="#dededf" stroke="#858585" stroke-width="0.6"/>
<circle cx="542.52" cy="98.59" r="1.75" fill="#dededf" stroke="#858585" stroke-width="0.6"/>
<circle cx="542.68" cy="91.75" r="1.75" fill="#dededf" stroke="#858585" stroke-width="0.6"/>
<circle cx="542.06" cy="90.92" r="1.75" fill="#dededf" stroke="#858585" stroke-width="0.6"/>
<circle cx="539.49" cy="93.25" r="1.75" fill="#dededf" stroke="#858585" stroke-width="0.6"/>
<circle cx="542.15" cy="95.34" r="1.75" fill="#dededf" stroke="#858585" stroke-width="0.6"/>
<circle cx="541.88" cy="92.57" r="1.75" fill="#dededf" stroke="#858585" stroke-width="0.6"/>
<circle cx="543.05" cy="95.73" r="1.75" fill="#dededf" stroke="#858585" stroke-width="0.6"/>
<text x="519.7" y="182.6" font-size="14.2" text-anchor="middle">PPARα</text>
<rect x="554" y="136.99" width="13.5" height="24.71" fill="#a6a6a9"/>
<line x1="560.75" y1="136.99" x2="560.75" y2="131.35" stroke="#000" stroke-width="1.4"/>
<line x1="556.43" y1="131.35" x2="565.07" y2="131.35" stroke="#000" stroke-width="1.8"/>
<circle cx="563.24" cy="138.43" r="1.75" fill="#dededf" stroke="#858585" stroke-width="0.6"/>
<circle cx="563.86" cy="141.72" r="1.75" fill="#dededf" stroke="#858585" stroke-width="0.6"/>
<circle cx="564.15" cy="141.17" r="1.75" fill="#dededf" stroke="#858585" stroke-width="0.6"/>
<circle cx="562.46" cy="137.45" r="1.75" fill="#dededf" stroke="#858585" stroke-width="0.6"/>
<circle cx="565.09" cy="134.61" r="1.75" fill="#dededf" stroke="#858585" stroke-width="0.6"/>
<circle cx="559.84" cy="137.59" r="1.75" fill="#dededf" stroke="#858585" stroke-width="0.6"/>
<circle cx="561.11" cy="133.84" r="1.75" fill="#dededf" stroke="#858585" stroke-width="0.6"/>
<circle cx="560.89" cy="138.76" r="1.75" fill="#dededf" stroke="#858585" stroke-width="0.6"/>
<rect x="569.1" y="131.35" width="13.5" height="30.35" fill="#3f8b9b"/>
<line x1="575.85" y1="131.35" x2="575.85" y2="124.45" stroke="#000" stroke-width="1.4"/>
<line x1="571.53" y1="124.45" x2="580.17" y2="124.45" stroke="#000" stroke-width="1.8"/>
<circle cx="579.38" cy="136.37" r="1.75" fill="#dededf" stroke="#858585" stroke-width="0.6"/>
<circle cx="575.4" cy="131.18" r="1.75" fill="#dededf" stroke="#858585" stroke-width="0.6"/>
<circle cx="574.29" cy="133.19" r="1.75" fill="#dededf" stroke="#858585" stroke-width="0.6"/>
<circle cx="576.37" cy="121.4" r="1.75" fill="#dededf" stroke="#858585" stroke-width="0.6"/>
<circle cx="580" cy="126.47" r="1.75" fill="#dededf" stroke="#858585" stroke-width="0.6"/>
<circle cx="573.59" cy="120.4" r="1.75" fill="#dededf" stroke="#858585" stroke-width="0.6"/>
<circle cx="572.25" cy="131.47" r="1.75" fill="#dededf" stroke="#858585" stroke-width="0.6"/>
<circle cx="576.11" cy="130.32" r="1.75" fill="#dededf" stroke="#858585" stroke-width="0.6"/>
<rect x="584.2" y="133.23" width="13.5" height="28.47" fill="#333333"/>
<line x1="590.95" y1="133.23" x2="590.95" y2="127.59" stroke="#000" stroke-width="1.4"/>
<line x1="586.63" y1="127.59" x2="595.27" y2="127.59" stroke="#000" stroke-width="1.8"/>
<circle cx="595.76" cy="133.06" r="1.75" fill="#dededf" stroke="#858585" stroke-width="0.6"/>
<circle cx="586.45" cy="130.82" r="1.75" fill="#dededf" stroke="#858585" stroke-width="0.6"/>
<circle cx="586.27" cy="132.38" r="1.75" fill="#dededf" stroke="#858585" stroke-width="0.6"/>
<circle cx="591" cy="131.86" r="1.75" fill="#dededf" stroke="#858585" stroke-width="0.6"/>
<circle cx="595.6" cy="131.94" r="1.75" fill="#dededf" stroke="#858585" stroke-width="0.6"/>
<circle cx="591.09" cy="129.09" r="1.75" fill="#dededf" stroke="#858585" stroke-width="0.6"/>
<circle cx="588.48" cy="136.1" r="1.75" fill="#dededf" stroke="#858585" stroke-width="0.6"/>
<circle cx="590.44" cy="125.26" r="1.75" fill="#dededf" stroke="#858585" stroke-width="0.6"/>
<rect x="599.3" y="128.21" width="13.5" height="33.49" fill="#2a00ff"/>
<line x1="606.05" y1="128.21" x2="606.05" y2="120.69" stroke="#000" stroke-width="1.4"/>
<line x1="601.73" y1="120.69" x2="610.37" y2="120.69" stroke="#000" stroke-width="1.8"/>
<circle cx="609.33" cy="133.16" r="1.75" fill="#dededf" stroke="#858585" stroke-width="0.6"/>
<circle cx="601.33" cy="135.84" r="1.75" fill="#dededf" stroke="#858585" stroke-width="0.6"/>
<circle cx="607.27" cy="132.58" r="1.75" fill="#dededf" stroke="#858585" stroke-width="0.6"/>
<circle cx="609.74" cy="134.77" r="1.75" fill="#dededf" stroke="#858585" stroke-width="0.6"/>
<circle cx="605.38" cy="115.49" r="1.75" fill="#dededf" stroke="#858585" stroke-width="0.6"/>
<circle cx="601.73" cy="138.92" r="1.75" fill="#dededf" stroke="#858585" stroke-width="0.6"/>
<circle cx="607.66" cy="129.77" r="1.75" fill="#dededf" stroke="#858585" stroke-width="0.6"/>
<circle cx="604.89" cy="124.13" r="1.75" fill="#dededf" stroke="#858585" stroke-width="0.6"/>
<text x="582.3" y="182.6" font-size="14.2" text-anchor="middle">PPARβ/δ</text>
<rect x="616.9" y="128.21" width="13.5" height="33.49" fill="#a6a6a9"/>
<line x1="623.65" y1="128.21" x2="623.65" y2="124.45" stroke="#000" stroke-width="1.4"/>
<line x1="619.33" y1="124.45" x2="627.97" y2="124.45" stroke="#000" stroke-width="1.8"/>
<circle cx="620.91" cy="136.55" r="1.75" fill="#dededf" stroke="#858585" stroke-width="0.6"/>
<circle cx="620.57" cy="128.53" r="1.75" fill="#dededf" stroke="#858585" stroke-width="0.6"/>
<circle cx="622.05" cy="132.13" r="1.75" fill="#dededf" stroke="#858585" stroke-width="0.6"/>
<circle cx="619.61" cy="131.02" r="1.75" fill="#dededf" stroke="#858585" stroke-width="0.6"/>
<circle cx="621.5" cy="126.29" r="1.75" fill="#dededf" stroke="#858585" stroke-width="0.6"/>
<circle cx="625.17" cy="127.65" r="1.75" fill="#dededf" stroke="#858585" stroke-width="0.6"/>
<circle cx="621.2" cy="128.25" r="1.75" fill="#dededf" stroke="#858585" stroke-width="0.6"/>
<circle cx="626.34" cy="127.95" r="1.75" fill="#dededf" stroke="#858585" stroke-width="0.6"/>
<rect x="632" y="110.03" width="13.5" height="51.67" fill="#3f8b9b"/>
<line x1="638.75" y1="110.03" x2="638.75" y2="99.37" stroke="#000" stroke-width="1.4"/>
<line x1="634.43" y1="99.37" x2="643.07" y2="99.37" stroke="#000" stroke-width="1.8"/>
<circle cx="635.34" cy="95.45" r="1.75" fill="#dededf" stroke="#858585" stroke-width="0.6"/>
<circle cx="640.93" cy="100.67" r="1.75" fill="#dededf" stroke="#858585" stroke-width="0.6"/>
<circle cx="640.14" cy="102.3" r="1.75" fill="#dededf" stroke="#858585" stroke-width="0.6"/>
<circle cx="634.32" cy="100.21" r="1.75" fill="#dededf" stroke="#858585" stroke-width="0.6"/>
<circle cx="642.01" cy="116.27" r="1.75" fill="#dededf" stroke="#858585" stroke-width="0.6"/>
<circle cx="642.56" cy="105.13" r="1.75" fill="#dededf" stroke="#858585" stroke-width="0.6"/>
<circle cx="639.99" cy="112.74" r="1.75" fill="#dededf" stroke="#858585" stroke-width="0.6"/>
<circle cx="641.02" cy="112.91" r="1.75" fill="#dededf" stroke="#858585" stroke-width="0.6"/>
<rect x="647.1" y="109.41" width="13.5" height="52.29" fill="#333333"/>
<line x1="653.85" y1="109.41" x2="653.85" y2="98.75" stroke="#000" stroke-width="1.4"/>
<line x1="649.53" y1="98.75" x2="658.17" y2="98.75" stroke="#000" stroke-width="1.8"/>
<circle cx="658.32" cy="107.44" r="1.75" fill="#dededf" stroke="#858585" stroke-width="0.6"/>
<circle cx="652.65" cy="114.17" r="1.75" fill="#dededf" stroke="#858585" stroke-width="0.6"/>
<circle cx="653.38" cy="120.42" r="1.75" fill="#dededf" stroke="#858585" stroke-width="0.6"/>
<circle cx="649.48" cy="111.06" r="1.75" fill="#dededf" stroke="#858585" stroke-width="0.6"/>
<circle cx="649.17" cy="100.76" r="1.75" fill="#dededf" stroke="#858585" stroke-width="0.6"/>
<circle cx="654.16" cy="124.04" r="1.75" fill="#dededf" stroke="#858585" stroke-width="0.6"/>
<circle cx="651.37" cy="103.65" r="1.75" fill="#dededf" stroke="#858585" stroke-width="0.6"/>
<circle cx="651.55" cy="120.45" r="1.75" fill="#dededf" stroke="#858585" stroke-width="0.6"/>
<rect x="662.2" y="88.09" width="13.5" height="73.61" fill="#2a00ff"/>
<line x1="668.95" y1="88.09" x2="668.95" y2="77.43" stroke="#000" stroke-width="1.4"/>
<line x1="664.63" y1="77.43" x2="673.27" y2="77.43" stroke="#000" stroke-width="1.8"/>
<circle cx="668.89" cy="91.54" r="1.75" fill="#dededf" stroke="#858585" stroke-width="0.6"/>
<circle cx="667.81" cy="87.13" r="1.75" fill="#dededf" stroke="#858585" stroke-width="0.6"/>
<circle cx="668.75" cy="69.78" r="1.75" fill="#dededf" stroke="#858585" stroke-width="0.6"/>
<circle cx="670.74" cy="96.35" r="1.75" fill="#dededf" stroke="#858585" stroke-width="0.6"/>
<circle cx="671.54" cy="78.46" r="1.75" fill="#dededf" stroke="#858585" stroke-width="0.6"/>
<circle cx="670.09" cy="81.81" r="1.75" fill="#dededf" stroke="#858585" stroke-width="0.6"/>
<circle cx="670.34" cy="88.37" r="1.75" fill="#dededf" stroke="#858585" stroke-width="0.6"/>
<circle cx="664.84" cy="98.74" r="1.75" fill="#dededf" stroke="#858585" stroke-width="0.6"/>
<text x="645.2" y="182.6" font-size="14.2" text-anchor="middle">PPARγ</text>
<line x1="488.2" y1="36.2" x2="488.2" y2="163.8" stroke="#000" stroke-width="2.2"/>
<line x1="482.6" y1="37.3" x2="488.2" y2="37.3" stroke="#000" stroke-width="1.4"/>
<text x="481.1" y="41.32" font-size="12" text-anchor="end">20</text>
<line x1="482.6" y1="68.65" x2="488.2" y2="68.65" stroke="#000" stroke-width="1.4"/>
<text x="481.1" y="72.67" font-size="12" text-anchor="end">15</text>
<line x1="482.6" y1="100" x2="488.2" y2="100" stroke="#000" stroke-width="1.4"/>
<text x="481.1" y="104.02" font-size="12" text-anchor="end">10</text>
<line x1="482.6" y1="131.35" x2="488.2" y2="131.35" stroke="#000" stroke-width="1.4"/>
<text x="481.1" y="135.37" font-size="12" text-anchor="end">5</text>
<line x1="482.6" y1="162.7" x2="488.2" y2="162.7" stroke="#000" stroke-width="1.4"/>
<text x="481.1" y="166.72" font-size="12" text-anchor="end">0</text>
<path d="M497 48V45H540.75V48" stroke="#000" stroke-width="1.3" fill="none"/>
<text x="519.7" y="43.4" font-size="8.75" text-anchor="middle"><tspan font-style="italic">P</tspan> &lt; 0.001</text>
<path d="M511.75 54.25V51.25H540.75V54.25" stroke="#000" stroke-width="1.3" fill="none"/>
<path d="M526.25 60.5V57.5H540.75V60.5" stroke="#000" stroke-width="1.3" fill="none"/>
<path d="M498.75 76V73H528V76" stroke="#000" stroke-width="1.3" fill="none"/>
<text x="513.2" y="70.6" font-size="8.75" text-anchor="middle"><tspan font-style="italic">P</tspan> &lt; 0.001</text>
<path d="M498.75 82.25V79.25H513.75V82.25" stroke="#000" stroke-width="1.3" fill="none"/>
<path d="M513.25 98V95H528V98" stroke="#000" stroke-width="1.3" fill="none"/>
<text x="516.7" y="92.3" font-size="8.75" text-anchor="middle"><tspan font-style="italic">P</tspan> = 0.004</text>
<path d="M621.5 41.75V38.75H664.75V41.75" stroke="#000" stroke-width="1.3" fill="none"/>
<text x="644.6" y="37.15" font-size="8.75" text-anchor="middle"><tspan font-style="italic">P</tspan> &lt; 0.001</text>
<path d="M635.75 55V52H664.75V55" stroke="#000" stroke-width="1.3" fill="none"/>
<text x="651.7" y="50.8" font-size="8.75" text-anchor="middle"><tspan font-style="italic">P</tspan> = 0.006</text>
<path d="M650.25 61V58H664.75V61" stroke="#000" stroke-width="1.3" fill="none"/>
<path d="M624 77.25V74.25H653.25V77.25" stroke="#000" stroke-width="1.3" fill="none"/>
<text x="638.2" y="71.6" font-size="8.75" text-anchor="middle"><tspan font-style="italic">P</tspan> = 0.007</text>
<path d="M622.75 91V88H638.25V91" stroke="#000" stroke-width="1.3" fill="none"/>
<text x="630.7" y="85.3" font-size="8.75" text-anchor="middle"><tspan font-style="italic">P</tspan> = 0.009</text>
<text x="1.6" y="204.2" font-size="15" font-weight="bold">C</text>
<text x="145.5" y="204.6" font-size="12" text-anchor="middle">Nucleus</text>
<text x="261" y="204.6" font-size="12" text-anchor="middle">Cytosol</text>
<line x1="87.6" y1="208.7" x2="200.3" y2="208.7" stroke="#555" stroke-width="1"/>
<line x1="203.8" y1="208.7" x2="316.5" y2="208.7" stroke="#555" stroke-width="1"/>
<text x="100" y="221.8" font-size="10.5" text-anchor="middle">37</text>
<text x="129" y="221.8" font-size="10.5" text-anchor="middle">37+OA</text>
<text x="157.7" y="221.8" font-size="10.5" text-anchor="middle">45</text>
<text x="186.3" y="221.8" font-size="10.5" text-anchor="middle">45+OA</text>
<text x="213.8" y="221.8" font-size="10.5" text-anchor="middle">37</text>
<text x="242.9" y="221.8" font-size="10.5" text-anchor="middle">37+OA</text>
<text x="271.4" y="221.8" font-size="10.5" text-anchor="middle">45</text>
<text x="300.5" y="221.8" font-size="10.5" text-anchor="middle">45+OA</text>
<svg x="87.6" y="226" width="228" height="11.6">
<rect x="0" y="0" width="228" height="11.6" fill="#d9d9d9"/>
<rect x="1.4" y="3.9" width="22" height="2.2" fill="#000" rx="1.1" opacity="0.1" filter="url(#bl2)"/>
<rect x="30.4" y="3.9" width="22" height="2.2" fill="#000" rx="1.1" opacity="0.13" filter="url(#bl2)"/>
<rect x="59.1" y="3.9" width="22" height="2.2" fill="#000" rx="1.1" opacity="0.13" filter="url(#bl2)"/>
<rect x="87.7" y="3.9" width="22" height="2.2" fill="#000" rx="1.1" opacity="0.2" filter="url(#bl2)"/>
<rect x="115.2" y="3.9" width="22" height="2.2" fill="#000" rx="1.1" opacity="0.02" filter="url(#bl2)"/>
<rect x="144.3" y="3.9" width="22" height="2.2" fill="#000" rx="1.1" opacity="0.03" filter="url(#bl2)"/>
<rect x="172.8" y="3.9" width="22" height="2.2" fill="#000" rx="1.1" opacity="0.03" filter="url(#bl2)"/>
<rect x="201.9" y="3.9" width="22" height="2.2" fill="#000" rx="1.1" opacity="0.03" filter="url(#bl2)"/>
</svg>
<rect x="87.6" y="226" width="228" height="11.6" fill="none" stroke="#555" stroke-width="0.7"/>
<text x="80.5" y="235.2" font-size="12.5" text-anchor="end">Pparα</text>
<text x="318" y="234.4" font-size="7.4">52 kDa</text>
<text x="100" y="243.2" font-size="6.2" text-anchor="middle" fill="#2a2a2a">0.40</text>
<text x="129" y="243.2" font-size="6.2" text-anchor="middle" fill="#2a2a2a">0.65</text>
<text x="157.7" y="243.2" font-size="6.2" text-anchor="middle" fill="#2a2a2a">0.60</text>
<text x="186.3" y="243.2" font-size="6.2" text-anchor="middle" fill="#2a2a2a">0.81</text>
<text x="213.8" y="243.2" font-size="6.2" text-anchor="middle" fill="#2a2a2a">0.23</text>
<text x="242.9" y="243.2" font-size="6.2" text-anchor="middle" fill="#2a2a2a">0.36</text>
<text x="271.4" y="243.2" font-size="6.2" text-anchor="middle" fill="#2a2a2a">0.33</text>
<text x="300.5" y="243.2" font-size="6.2" text-anchor="middle" fill="#2a2a2a">0.28</text>
<svg x="87.6" y="243.6" width="228" height="11.6">
<rect x="0" y="0" width="228" height="11.6" fill="#c6c6c6"/>
<rect x="0.4" y="3.95" width="24" height="2.1" fill="#000" rx="1.05" opacity="0.85" filter="url(#bl1)"/>
<rect x="29.4" y="3.95" width="24" height="2.1" fill="#000" rx="1.05" opacity="0.9" filter="url(#bl1)"/>
<rect x="58.1" y="3.95" width="24" height="2.1" fill="#000" rx="1.05" opacity="0.9" filter="url(#bl1)"/>
<rect x="86.7" y="3.95" width="24" height="2.1" fill="#000" rx="1.05" opacity="1" filter="url(#bl1)"/>
<rect x="114.2" y="3.95" width="24" height="2.1" fill="#000" rx="1.05" opacity="0.55" filter="url(#bl1)"/>
<rect x="143.3" y="3.95" width="24" height="2.1" fill="#000" rx="1.05" opacity="0.6" filter="url(#bl1)"/>
<rect x="171.8" y="3.95" width="24" height="2.1" fill="#000" rx="1.05" opacity="0.55" filter="url(#bl1)"/>
<rect x="200.9" y="3.95" width="24" height="2.1" fill="#000" rx="1.05" opacity="0.65" filter="url(#bl1)"/>
</svg>
<rect x="87.6" y="243.6" width="228" height="11.6" fill="none" stroke="#555" stroke-width="0.7"/>
<text x="80.5" y="252.8" font-size="12.5" text-anchor="end">Pparγ</text>
<text x="318" y="252" font-size="7.4">50 kDa</text>
<text x="100" y="260.8" font-size="6.2" text-anchor="middle" fill="#2a2a2a">0.82</text>
<text x="129" y="260.8" font-size="6.2" text-anchor="middle" fill="#2a2a2a">0.95</text>
<text x="157.7" y="260.8" font-size="6.2" text-anchor="middle" fill="#2a2a2a">0.92</text>
<text x="186.3" y="260.8" font-size="6.2" text-anchor="middle" fill="#2a2a2a">1.83</text>
<text x="213.8" y="260.8" font-size="6.2" text-anchor="middle" fill="#2a2a2a">0.53</text>
<text x="242.9" y="260.8" font-size="6.2" text-anchor="middle" fill="#2a2a2a">0.56</text>
<text x="271.4" y="260.8" font-size="6.2" text-anchor="middle" fill="#2a2a2a">0.51</text>
<text x="300.5" y="260.8" font-size="6.2" text-anchor="middle" fill="#2a2a2a">0.45</text>
<svg x="87.6" y="261.5" width="228" height="11.6">
<rect x="0" y="0" width="228" height="11.6" fill="#d3d3d3"/>
<rect x="1.4" y="4.4" width="22" height="2.2" fill="#000" rx="1.1" opacity="0.18" filter="url(#bl2)"/>
<rect x="30.4" y="4.4" width="22" height="2.2" fill="#000" rx="1.1" opacity="0.22" filter="url(#bl2)"/>
<rect x="59.1" y="4.4" width="22" height="2.2" fill="#000" rx="1.1" opacity="0.18" filter="url(#bl2)"/>
<rect x="87.7" y="4.4" width="22" height="2.2" fill="#000" rx="1.1" opacity="0.22" filter="url(#bl2)"/>
<rect x="115.2" y="4.4" width="22" height="2.2" fill="#000" rx="1.1" opacity="0.12" filter="url(#bl2)"/>
<rect x="144.3" y="4.4" width="22" height="2.2" fill="#000" rx="1.1" opacity="0.12" filter="url(#bl2)"/>
<rect x="172.8" y="4.4" width="22" height="2.2" fill="#000" rx="1.1" opacity="0.14" filter="url(#bl2)"/>
<rect x="201.9" y="4.4" width="22" height="2.2" fill="#000" rx="1.1" opacity="0.1" filter="url(#bl2)"/>
</svg>
<rect x="87.6" y="261.5" width="228" height="11.6" fill="none" stroke="#555" stroke-width="0.7"/>
<text x="80.5" y="270.7" font-size="12.5" text-anchor="end">Pparβ/δ</text>
<text x="318" y="269.9" font-size="7.4">58 kDa</text>
<text x="100" y="278.7" font-size="6.2" text-anchor="middle" fill="#2a2a2a">0.55</text>
<text x="129" y="278.7" font-size="6.2" text-anchor="middle" fill="#2a2a2a">0.69</text>
<text x="157.7" y="278.7" font-size="6.2" text-anchor="middle" fill="#2a2a2a">0.49</text>
<text x="186.3" y="278.7" font-size="6.2" text-anchor="middle" fill="#2a2a2a">0.63</text>
<text x="213.8" y="278.7" font-size="6.2" text-anchor="middle" fill="#2a2a2a">0.46</text>
<text x="242.9" y="278.7" font-size="6.2" text-anchor="middle" fill="#2a2a2a">0.49</text>
<text x="271.4" y="278.7" font-size="6.2" text-anchor="middle" fill="#2a2a2a">0.52</text>
<text x="300.5" y="278.7" font-size="6.2" text-anchor="middle" fill="#2a2a2a">0.39</text>
<svg x="87.6" y="279.5" width="228" height="11.6">
<rect x="0" y="0" width="228" height="11.6" fill="#bdbdbd"/>
<rect x="-0.1" y="4.3" width="25" height="4.6" fill="#000" rx="2.3" opacity="0.75" filter="url(#bl2)"/>
<rect x="28.9" y="4.3" width="25" height="4.6" fill="#000" rx="2.3" opacity="0.65" filter="url(#bl2)"/>
<rect x="57.6" y="4.3" width="25" height="4.6" fill="#000" rx="2.3" opacity="0.65" filter="url(#bl2)"/>
<rect x="86.2" y="4.3" width="25" height="4.6" fill="#000" rx="2.3" opacity="0.6" filter="url(#bl2)"/>
<rect x="113.7" y="4.3" width="25" height="4.6" fill="#000" rx="2.3" opacity="0.08" filter="url(#bl2)"/>
<rect x="142.8" y="4.3" width="25" height="4.6" fill="#000" rx="2.3" opacity="0.12" filter="url(#bl2)"/>
<rect x="171.3" y="4.3" width="25" height="4.6" fill="#000" rx="2.3" opacity="0.1" filter="url(#bl2)"/>
<rect x="200.4" y="4.3" width="25" height="4.6" fill="#000" rx="2.3" opacity="0.18" filter="url(#bl2)"/>
</svg>
<rect x="87.6" y="279.5" width="228" height="11.6" fill="none" stroke="#555" stroke-width="0.7"/>
<text x="80.5" y="288.7" font-size="12.5" text-anchor="end">Histone H3</text>
<text x="318" y="287.9" font-size="7.4">15 kDa</text>
<text x="100" y="296.7" font-size="6.2" text-anchor="middle" fill="#2a2a2a">1.00</text>
<text x="129" y="296.7" font-size="6.2" text-anchor="middle" fill="#2a2a2a">1.00</text>
<text x="157.7" y="296.7" font-size="6.2" text-anchor="middle" fill="#2a2a2a">1.00</text>
<text x="186.3" y="296.7" font-size="6.2" text-anchor="middle" fill="#2a2a2a">1.00</text>
<svg x="87.6" y="297.5" width="228" height="10.8">
<rect x="0" y="0" width="228" height="10.8" fill="#d2d2d2"/>
<rect x="0.9" y="3" width="23" height="2.4" fill="#000" rx="1.2" opacity="0.3" filter="url(#bl1)"/>
<rect x="29.9" y="3" width="23" height="2.4" fill="#000" rx="1.2" opacity="0.3" filter="url(#bl1)"/>
<rect x="58.6" y="3" width="23" height="2.4" fill="#000" rx="1.2" opacity="0.28" filter="url(#bl1)"/>
<rect x="87.2" y="3" width="23" height="2.4" fill="#000" rx="1.2" opacity="0.28" filter="url(#bl1)"/>
<rect x="114.7" y="3" width="23" height="2.4" fill="#000" rx="1.2" opacity="0.6" filter="url(#bl1)"/>
<rect x="143.8" y="3" width="23" height="2.4" fill="#000" rx="1.2" opacity="0.6" filter="url(#bl1)"/>
<rect x="172.3" y="3" width="23" height="2.4" fill="#000" rx="1.2" opacity="0.6" filter="url(#bl1)"/>
<rect x="201.4" y="3" width="23" height="2.4" fill="#000" rx="1.2" opacity="0.7" filter="url(#bl1)"/>
</svg>
<rect x="87.6" y="297.5" width="228" height="10.8" fill="none" stroke="#555" stroke-width="0.7"/>
<text x="80.5" y="306.3" font-size="12.5" text-anchor="end">Actb</text>
<text x="318" y="305.5" font-size="7.4">42 kDa</text>
<text x="213.8" y="313.9" font-size="6.2" text-anchor="middle" fill="#2a2a2a">1.00</text>
<text x="242.9" y="313.9" font-size="6.2" text-anchor="middle" fill="#2a2a2a">1.00</text>
<text x="271.4" y="313.9" font-size="6.2" text-anchor="middle" fill="#2a2a2a">1.00</text>
<text x="300.5" y="313.9" font-size="6.2" text-anchor="middle" fill="#2a2a2a">1.00</text>
<svg x="87.6" y="315" width="228" height="11.6">
<rect x="0" y="0" width="228" height="11.6" fill="#d8d8d8"/>
<rect x="1.4" y="4.3" width="22" height="2.4" fill="#000" rx="1.2" opacity="0.16" filter="url(#bl2)"/>
<rect x="30.4" y="4.3" width="22" height="2.4" fill="#000" rx="1.2" opacity="0.2" filter="url(#bl2)"/>
<rect x="59.1" y="4.3" width="22" height="2.4" fill="#000" rx="1.2" opacity="0.2" filter="url(#bl2)"/>
<rect x="87.7" y="4.3" width="22" height="2.4" fill="#000" rx="1.2" opacity="0.3" filter="url(#bl2)"/>
<rect x="115.2" y="4.3" width="22" height="2.4" fill="#000" rx="1.2" opacity="0.01" filter="url(#bl2)"/>
<rect x="144.3" y="4.3" width="22" height="2.4" fill="#000" rx="1.2" opacity="0.01" filter="url(#bl2)"/>
<rect x="172.8" y="4.3" width="22" height="2.4" fill="#000" rx="1.2" opacity="0.02" filter="url(#bl2)"/>
<rect x="201.9" y="4.3" width="22" height="2.4" fill="#000" rx="1.2" opacity="0.02" filter="url(#bl2)"/>
</svg>
<rect x="87.6" y="315" width="228" height="11.6" fill="none" stroke="#555" stroke-width="0.7"/>
<text x="80.5" y="324.2" font-size="12.5" text-anchor="end">PPARα</text>
<text x="318" y="323.4" font-size="7.4">52 kDa</text>
<text x="100" y="332.2" font-size="6.2" text-anchor="middle" fill="#2a2a2a">0.48</text>
<text x="129" y="332.2" font-size="6.2" text-anchor="middle" fill="#2a2a2a">0.56</text>
<text x="157.7" y="332.2" font-size="6.2" text-anchor="middle" fill="#2a2a2a">0.58</text>
<text x="186.3" y="332.2" font-size="6.2" text-anchor="middle" fill="#2a2a2a">0.86</text>
<text x="213.8" y="332.2" font-size="6.2" text-anchor="middle" fill="#2a2a2a">0.03</text>
<text x="242.9" y="332.2" font-size="6.2" text-anchor="middle" fill="#2a2a2a">0.03</text>
<text x="271.4" y="332.2" font-size="6.2" text-anchor="middle" fill="#2a2a2a">0.05</text>
<text x="300.5" y="332.2" font-size="6.2" text-anchor="middle" fill="#2a2a2a">0.04</text>
<svg x="87.6" y="333.6" width="228" height="11.6">
<rect x="0" y="0" width="228" height="11.6" fill="#c9c9c9"/>
<rect x="0.4" y="4.85" width="24" height="2.7" fill="#000" rx="1.35" opacity="0.55" filter="url(#bl1)"/>
<rect x="29.4" y="4.85" width="24" height="2.7" fill="#000" rx="1.35" opacity="0.85" filter="url(#bl1)"/>
<rect x="58.1" y="4.85" width="24" height="2.7" fill="#000" rx="1.35" opacity="0.85" filter="url(#bl1)"/>
<rect x="86.7" y="4.85" width="24" height="2.7" fill="#000" rx="1.35" opacity="1" filter="url(#bl1)"/>
<rect x="114.2" y="4.85" width="24" height="2.7" fill="#000" rx="1.35" opacity="0.4" filter="url(#bl1)"/>
<rect x="143.3" y="4.85" width="24" height="2.7" fill="#000" rx="1.35" opacity="0.32" filter="url(#bl1)"/>
<rect x="171.8" y="4.85" width="24" height="2.7" fill="#000" rx="1.35" opacity="0.3" filter="url(#bl1)"/>
<rect x="200.9" y="4.85" width="24" height="2.7" fill="#000" rx="1.35" opacity="0.32" filter="url(#bl1)"/>
</svg>
<rect x="87.6" y="333.6" width="228" height="11.6" fill="none" stroke="#555" stroke-width="0.7"/>
<text x="80.5" y="342.8" font-size="12.5" text-anchor="end">PPARγ</text>
<text x="318" y="342" font-size="7.4">50 kDa</text>
<text x="100" y="350.8" font-size="6.2" text-anchor="middle" fill="#2a2a2a">0.80</text>
<text x="129" y="350.8" font-size="6.2" text-anchor="middle" fill="#2a2a2a">0.91</text>
<text x="157.7" y="350.8" font-size="6.2" text-anchor="middle" fill="#2a2a2a">0.96</text>
<text x="186.3" y="350.8" font-size="6.2" text-anchor="middle" fill="#2a2a2a">1.80</text>
<text x="213.8" y="350.8" font-size="6.2" text-anchor="middle" fill="#2a2a2a">0.33</text>
<text x="242.9" y="350.8" font-size="6.2" text-anchor="middle" fill="#2a2a2a">0.21</text>
<text x="271.4" y="350.8" font-size="6.2" text-anchor="middle" fill="#2a2a2a">0.13</text>
<text x="300.5" y="350.8" font-size="6.2" text-anchor="middle" fill="#2a2a2a">0.18</text>
<svg x="87.6" y="351.6" width="228" height="11.4">
<rect x="0" y="0" width="228" height="11.4" fill="#d2d2d2"/>
<rect x="1.4" y="5.8" width="22" height="2.4" fill="#000" rx="1.2" opacity="0.12" filter="url(#bl2)"/>
<rect x="30.4" y="5.8" width="22" height="2.4" fill="#000" rx="1.2" opacity="0.18" filter="url(#bl2)"/>
<rect x="59.1" y="5.8" width="22" height="2.4" fill="#000" rx="1.2" opacity="0.15" filter="url(#bl2)"/>
<rect x="87.7" y="5.8" width="22" height="2.4" fill="#000" rx="1.2" opacity="0.25" filter="url(#bl2)"/>
<rect x="115.2" y="5.8" width="22" height="2.4" fill="#000" rx="1.2" opacity="0.03" filter="url(#bl2)"/>
<rect x="144.3" y="5.8" width="22" height="2.4" fill="#000" rx="1.2" opacity="0.02" filter="url(#bl2)"/>
<rect x="172.8" y="5.8" width="22" height="2.4" fill="#000" rx="1.2" opacity="0.02" filter="url(#bl2)"/>
<rect x="201.9" y="5.8" width="22" height="2.4" fill="#000" rx="1.2" opacity="0.03" filter="url(#bl2)"/>
</svg>
<rect x="87.6" y="351.6" width="228" height="11.4" fill="none" stroke="#555" stroke-width="0.7"/>
<text x="80.5" y="360.7" font-size="12.5" text-anchor="end">PPARβ/δ</text>
<text x="318" y="359.9" font-size="7.4">58 kDa</text>
<text x="100" y="368.6" font-size="6.2" text-anchor="middle" fill="#2a2a2a">0.30</text>
<text x="129" y="368.6" font-size="6.2" text-anchor="middle" fill="#2a2a2a">0.49</text>
<text x="157.7" y="368.6" font-size="6.2" text-anchor="middle" fill="#2a2a2a">0.38</text>
<text x="186.3" y="368.6" font-size="6.2" text-anchor="middle" fill="#2a2a2a">0.38</text>
<text x="213.8" y="368.6" font-size="6.2" text-anchor="middle" fill="#2a2a2a">0.07</text>
<text x="242.9" y="368.6" font-size="6.2" text-anchor="middle" fill="#2a2a2a">0.03</text>
<text x="271.4" y="368.6" font-size="6.2" text-anchor="middle" fill="#2a2a2a">0.05</text>
<text x="300.5" y="368.6" font-size="6.2" text-anchor="middle" fill="#2a2a2a">0.08</text>
<svg x="87.6" y="369.2" width="228" height="11.6">
<rect x="0" y="0" width="228" height="11.6" fill="#c2c2c2"/>
<rect x="-0.1" y="4" width="25" height="3.6" fill="#000" rx="1.8" opacity="0.55" filter="url(#bl2)"/>
<rect x="28.9" y="4" width="25" height="3.6" fill="#000" rx="1.8" opacity="0.6" filter="url(#bl2)"/>
<rect x="57.6" y="4" width="25" height="3.6" fill="#000" rx="1.8" opacity="0.6" filter="url(#bl2)"/>
<rect x="86.2" y="4" width="25" height="3.6" fill="#000" rx="1.8" opacity="0.7" filter="url(#bl2)"/>
<rect x="113.7" y="4" width="25" height="3.6" fill="#000" rx="1.8" opacity="0.12" filter="url(#bl2)"/>
<rect x="142.8" y="4" width="25" height="3.6" fill="#000" rx="1.8" opacity="0.15" filter="url(#bl2)"/>
<rect x="171.3" y="4" width="25" height="3.6" fill="#000" rx="1.8" opacity="0.15" filter="url(#bl2)"/>
<rect x="200.4" y="4" width="25" height="3.6" fill="#000" rx="1.8" opacity="0.22" filter="url(#bl2)"/>
</svg>
<rect x="87.6" y="369.2" width="228" height="11.6" fill="none" stroke="#555" stroke-width="0.7"/>
<text x="80.5" y="378.4" font-size="12.5" text-anchor="end">Histone H3</text>
<text x="318" y="377.6" font-size="7.4">15 kDa</text>
<text x="100" y="386.4" font-size="6.2" text-anchor="middle" fill="#2a2a2a">1.00</text>
<text x="129" y="386.4" font-size="6.2" text-anchor="middle" fill="#2a2a2a">1.00</text>
<text x="157.7" y="386.4" font-size="6.2" text-anchor="middle" fill="#2a2a2a">1.00</text>
<text x="186.3" y="386.4" font-size="6.2" text-anchor="middle" fill="#2a2a2a">1.00</text>
<svg x="87.6" y="387" width="228" height="11.6">
<rect x="0" y="0" width="228" height="11.6" fill="#dadada"/>
<rect x="0.9" y="4.3" width="23" height="2.4" fill="#000" rx="1.2" opacity="0.15" filter="url(#bl1)"/>
<rect x="29.9" y="4.3" width="23" height="2.4" fill="#000" rx="1.2" opacity="0.15" filter="url(#bl1)"/>
<rect x="58.6" y="4.3" width="23" height="2.4" fill="#000" rx="1.2" opacity="0.13" filter="url(#bl1)"/>
<rect x="87.2" y="4.3" width="23" height="2.4" fill="#000" rx="1.2" opacity="0.13" filter="url(#bl1)"/>
<rect x="114.7" y="4.3" width="23" height="2.4" fill="#000" rx="1.2" opacity="0.6" filter="url(#bl1)"/>
<rect x="143.8" y="4.3" width="23" height="2.4" fill="#000" rx="1.2" opacity="0.7" filter="url(#bl1)"/>
<rect x="172.3" y="4.3" width="23" height="2.4" fill="#000" rx="1.2" opacity="0.65" filter="url(#bl1)"/>
<rect x="201.4" y="4.3" width="23" height="2.4" fill="#000" rx="1.2" opacity="0.6" filter="url(#bl1)"/>
</svg>
<rect x="87.6" y="387" width="228" height="11.6" fill="none" stroke="#555" stroke-width="0.7"/>
<text x="80.5" y="396.2" font-size="12.5" text-anchor="end">ACTB</text>
<text x="318" y="395.4" font-size="7.4">42 kDa</text>
<text x="213.8" y="404.2" font-size="6.2" text-anchor="middle" fill="#2a2a2a">1.00</text>
<text x="242.9" y="404.2" font-size="6.2" text-anchor="middle" fill="#2a2a2a">1.00</text>
<text x="271.4" y="404.2" font-size="6.2" text-anchor="middle" fill="#2a2a2a">1.00</text>
<text x="300.5" y="404.2" font-size="6.2" text-anchor="middle" fill="#2a2a2a">1.00</text>
<line x1="15.5" y1="232.5" x2="15.5" y2="308.7" stroke="#444" stroke-width="1"/>
<line x1="15.5" y1="321.2" x2="15.5" y2="397.8" stroke="#444" stroke-width="1"/>
<text x="10.6" y="270.5" font-size="12" text-anchor="middle" transform="rotate(-90 10.6 270.5)">CT26</text>
<text x="10.6" y="359.5" font-size="12" text-anchor="middle" transform="rotate(-90 10.6 359.5)">DLD1</text>
<text x="345" y="204.2" font-size="15" font-weight="bold">D</text>
<text x="476" y="205.2" font-size="12" text-anchor="middle">iRFA</text>
<text x="600.3" y="205.2" font-size="12" text-anchor="middle">Ctrl</text>
<line x1="418" y1="208.4" x2="536.4" y2="208.4" stroke="#555" stroke-width="1"/>
<line x1="541.4" y1="208.4" x2="658.2" y2="208.4" stroke="#555" stroke-width="1"/>
<svg x="415.6" y="211.8" width="242.6" height="15">
<rect x="0" y="0" width="242.6" height="15" fill="#c9c9c9"/>
<rect x="3.4" y="8.5" width="26" height="2.6" fill="#000" rx="1.3" opacity="0.36" filter="url(#bl2)"/>
<rect x="33.8" y="8.5" width="26" height="2.6" fill="#000" rx="1.3" opacity="0.4" filter="url(#bl2)"/>
<rect x="64" y="8.5" width="26" height="2.6" fill="#000" rx="1.3" opacity="0.36" filter="url(#bl2)"/>
<rect x="93.7" y="8.5" width="26" height="2.6" fill="#000" rx="1.3" opacity="0.36" filter="url(#bl2)"/>
<rect x="125.4" y="8.5" width="26" height="2.6" fill="#000" rx="1.3" opacity="0.14" filter="url(#bl2)"/>
<rect x="155.1" y="8.5" width="26" height="2.6" fill="#000" rx="1.3" opacity="0.14" filter="url(#bl2)"/>
<rect x="185.8" y="8.5" width="26" height="2.6" fill="#000" rx="1.3" opacity="0.14" filter="url(#bl2)"/>
<rect x="215" y="8.5" width="26" height="2.6" fill="#000" rx="1.3" opacity="0.12" filter="url(#bl2)"/>
<rect x="3.4" y="4.1" width="26" height="2.2" fill="#000" rx="1.1" opacity="0.29" filter="url(#bl2)"/>
<rect x="33.8" y="4.1" width="26" height="2.2" fill="#000" rx="1.1" opacity="0.32" filter="url(#bl2)"/>
<rect x="64" y="4.1" width="26" height="2.2" fill="#000" rx="1.1" opacity="0.29" filter="url(#bl2)"/>
<rect x="93.7" y="4.1" width="26" height="2.2" fill="#000" rx="1.1" opacity="0.29" filter="url(#bl2)"/>
<rect x="125.4" y="4.1" width="26" height="2.2" fill="#000" rx="1.1" opacity="0.11" filter="url(#bl2)"/>
<rect x="155.1" y="4.1" width="26" height="2.2" fill="#000" rx="1.1" opacity="0.11" filter="url(#bl2)"/>
<rect x="185.8" y="4.1" width="26" height="2.2" fill="#000" rx="1.1" opacity="0.11" filter="url(#bl2)"/>
<rect x="215" y="4.1" width="26" height="2.2" fill="#000" rx="1.1" opacity="0.1" filter="url(#bl2)"/>
</svg>
<rect x="415.6" y="211.8" width="242.6" height="15" fill="none" stroke="#555" stroke-width="0.7"/>
<text x="413.6" y="223.6" font-size="12.5" text-anchor="end">Ppar<tspan font-style="italic">α</tspan></text>
<text x="659.8" y="221.9" font-size="7.4">52 kDa</text>
<text x="432" y="233" font-size="6.2" text-anchor="middle" fill="#2a2a2a">0.62</text>
<text x="462.4" y="233" font-size="6.2" text-anchor="middle" fill="#2a2a2a">0.77</text>
<text x="492.6" y="233" font-size="6.2" text-anchor="middle" fill="#2a2a2a">0.52</text>
<text x="522.3" y="233" font-size="6.2" text-anchor="middle" fill="#2a2a2a">0.56</text>
<text x="554" y="233" font-size="6.2" text-anchor="middle" fill="#2a2a2a">0.26</text>
<text x="583.7" y="233" font-size="6.2" text-anchor="middle" fill="#2a2a2a">0.23</text>
<text x="614.4" y="233" font-size="6.2" text-anchor="middle" fill="#2a2a2a">0.30</text>
<text x="643.6" y="233" font-size="6.2" text-anchor="middle" fill="#2a2a2a">0.29</text>
<svg x="415.6" y="234" width="242.6" height="15.4">
<rect x="0" y="0" width="242.6" height="15.4" fill="#cdcdcd"/>
<rect x="3.4" y="6.4" width="26" height="2.2" fill="#000" rx="1.1" opacity="0.55" filter="url(#bl1)"/>
<rect x="33.8" y="6.4" width="26" height="2.2" fill="#000" rx="1.1" opacity="0.65" filter="url(#bl1)"/>
<rect x="64" y="6.4" width="26" height="2.2" fill="#000" rx="1.1" opacity="0.65" filter="url(#bl1)"/>
<rect x="93.7" y="6.4" width="26" height="2.2" fill="#000" rx="1.1" opacity="0.78" filter="url(#bl1)"/>
<rect x="125.4" y="6.4" width="26" height="2.2" fill="#000" rx="1.1" opacity="0.3" filter="url(#bl1)"/>
<rect x="155.1" y="6.4" width="26" height="2.2" fill="#000" rx="1.1" opacity="0.45" filter="url(#bl1)"/>
<rect x="185.8" y="6.4" width="26" height="2.2" fill="#000" rx="1.1" opacity="0.4" filter="url(#bl1)"/>
<rect x="215" y="6.4" width="26" height="2.2" fill="#000" rx="1.1" opacity="0.25" filter="url(#bl1)"/>
</svg>
<rect x="415.6" y="234" width="242.6" height="15.4" fill="none" stroke="#555" stroke-width="0.7"/>
<text x="413.6" y="246" font-size="12.5" text-anchor="end">Pparγ</text>
<text x="659.8" y="244.3" font-size="7.4">50 kDa</text>
<text x="432" y="255.6" font-size="6.2" text-anchor="middle" fill="#2a2a2a">1.81</text>
<text x="462.4" y="255.6" font-size="6.2" text-anchor="middle" fill="#2a2a2a">2.13</text>
<text x="492.6" y="255.6" font-size="6.2" text-anchor="middle" fill="#2a2a2a">2.13</text>
<text x="522.3" y="255.6" font-size="6.2" text-anchor="middle" fill="#2a2a2a">2.53</text>
<text x="554" y="255.6" font-size="6.2" text-anchor="middle" fill="#2a2a2a">0.32</text>
<text x="583.7" y="255.6" font-size="6.2" text-anchor="middle" fill="#2a2a2a">0.95</text>
<text x="614.4" y="255.6" font-size="6.2" text-anchor="middle" fill="#2a2a2a">0.86</text>
<text x="643.6" y="255.6" font-size="6.2" text-anchor="middle" fill="#2a2a2a">0.32</text>
<svg x="415.6" y="255.8" width="242.6" height="16">
<rect x="0" y="0" width="242.6" height="16" fill="#c4c4c4"/>
<rect x="1.4" y="6.2" width="30" height="5" fill="#000" rx="2.5" opacity="1" filter="url(#bl2)"/>
<rect x="31.8" y="6.2" width="30" height="5" fill="#000" rx="2.5" opacity="1" filter="url(#bl2)"/>
<rect x="62" y="6.2" width="30" height="5" fill="#000" rx="2.5" opacity="1" filter="url(#bl2)"/>
<rect x="91.7" y="6.2" width="30" height="5" fill="#000" rx="2.5" opacity="1" filter="url(#bl2)"/>
<rect x="123.4" y="6.2" width="30" height="5" fill="#000" rx="2.5" opacity="1" filter="url(#bl2)"/>
<rect x="153.1" y="6.2" width="30" height="5" fill="#000" rx="2.5" opacity="1" filter="url(#bl2)"/>
<rect x="183.8" y="6.2" width="30" height="5" fill="#000" rx="2.5" opacity="1" filter="url(#bl2)"/>
<rect x="213" y="6.2" width="30" height="5" fill="#000" rx="2.5" opacity="1" filter="url(#bl2)"/>
</svg>
<rect x="415.6" y="255.8" width="242.6" height="16" fill="none" stroke="#555" stroke-width="0.7"/>
<text x="413.6" y="268.1" font-size="12.5" text-anchor="end">Histone H3</text>
<text x="659.8" y="266.4" font-size="7.4">15 kDa</text>
<text x="432" y="278" font-size="6.2" text-anchor="middle" fill="#2a2a2a">1.00</text>
<text x="462.4" y="278" font-size="6.2" text-anchor="middle" fill="#2a2a2a">1.00</text>
<text x="492.6" y="278" font-size="6.2" text-anchor="middle" fill="#2a2a2a">1.00</text>
<text x="522.3" y="278" font-size="6.2" text-anchor="middle" fill="#2a2a2a">1.00</text>
<text x="554" y="278" font-size="6.2" text-anchor="middle" fill="#2a2a2a">1.00</text>
<text x="583.7" y="278" font-size="6.2" text-anchor="middle" fill="#2a2a2a">1.00</text>
<text x="614.4" y="278" font-size="6.2" text-anchor="middle" fill="#2a2a2a">1.00</text>
<text x="643.6" y="278" font-size="6.2" text-anchor="middle" fill="#2a2a2a">1.00</text>
<text x="345" y="293.4" font-size="15" font-weight="bold">E</text>
<text x="445" y="295" font-size="12" text-anchor="middle">CT26</text>
<text x="604.6" y="295" font-size="12" text-anchor="middle">DLD1</text>
<line x1="387.5" y1="298.8" x2="499.3" y2="298.8" stroke="#555" stroke-width="1"/>
<line x1="547.3" y1="298.8" x2="659.3" y2="298.8" stroke="#555" stroke-width="1"/>
<text x="398.75" y="310" font-size="10.5" text-anchor="middle">37</text>
<text x="428.5" y="310" font-size="10.5" text-anchor="middle">37+OA</text>
<text x="456.75" y="310" font-size="10.5" text-anchor="middle">45</text>
<text x="486" y="310" font-size="10.5" text-anchor="middle">45+OA</text>
<text x="557.5" y="310" font-size="10.5" text-anchor="middle">37</text>
<text x="587" y="310" font-size="10.5" text-anchor="middle">37+OA</text>
<text x="614.8" y="310" font-size="10.5" text-anchor="middle">45</text>
<text x="644.5" y="310" font-size="10.5" text-anchor="middle">45+OA</text>
<svg x="386.8" y="311.3" width="113.2" height="13.7">
<rect x="0" y="0" width="113.2" height="13.7" fill="#d6d6d6"/>
<rect x="0.2" y="5.7" width="25" height="2.2" fill="#000" rx="1.1" opacity="0.6" filter="url(#bl1)"/>
<rect x="29.2" y="5.7" width="25" height="2.2" fill="#000" rx="1.1" opacity="0.6" filter="url(#bl1)"/>
<rect x="57.45" y="5.7" width="25" height="2.2" fill="#000" rx="1.1" opacity="0.6" filter="url(#bl1)"/>
<rect x="86.2" y="5.7" width="25" height="2.2" fill="#000" rx="1.1" opacity="0.7" filter="url(#bl1)"/>
</svg>
<rect x="386.8" y="311.3" width="113.2" height="13.7" fill="none" stroke="#555" stroke-width="0.7"/>
<text x="383.5" y="322.55" font-size="12.5" text-anchor="end">Cd36</text>
<text x="400" y="330.8" font-size="6.2" text-anchor="middle" fill="#2a2a2a">0.75</text>
<text x="428.5" y="330.8" font-size="6.2" text-anchor="middle" fill="#2a2a2a">0.91</text>
<text x="456.75" y="330.8" font-size="6.2" text-anchor="middle" fill="#2a2a2a">0.99</text>
<text x="485" y="330.8" font-size="6.2" text-anchor="middle" fill="#2a2a2a">1.51</text>
<svg x="386.8" y="331.3" width="113.2" height="14.2">
<rect x="0" y="0" width="113.2" height="14.2" fill="#c0c0c0"/>
<rect x="0.7" y="4.9" width="24" height="4.2" fill="#000" rx="2.1" opacity="0.35" filter="url(#bl2)"/>
<rect x="29.7" y="4.9" width="24" height="4.2" fill="#000" rx="2.1" opacity="0.6" filter="url(#bl2)"/>
<rect x="57.95" y="4.9" width="24" height="4.2" fill="#000" rx="2.1" opacity="0.65" filter="url(#bl2)"/>
<rect x="86.7" y="4.9" width="24" height="4.2" fill="#000" rx="2.1" opacity="1" filter="url(#bl2)"/>
</svg>
<rect x="386.8" y="331.3" width="113.2" height="14.2" fill="none" stroke="#555" stroke-width="0.7"/>
<text x="383.5" y="342.8" font-size="12.5" text-anchor="end">Fabp4</text>
<text x="400" y="351.3" font-size="6.2" text-anchor="middle" fill="#2a2a2a">0.48</text>
<text x="428.5" y="351.3" font-size="6.2" text-anchor="middle" fill="#2a2a2a">0.59</text>
<text x="456.75" y="351.3" font-size="6.2" text-anchor="middle" fill="#2a2a2a">0.69</text>
<text x="485" y="351.3" font-size="6.2" text-anchor="middle" fill="#2a2a2a">1.33</text>
<svg x="386.8" y="351.3" width="113.2" height="13.7">
<rect x="0" y="0" width="113.2" height="13.7" fill="#d0d0d0"/>
<rect x="1.2" y="6" width="23" height="3" fill="#000" rx="1.5" opacity="0.7" filter="url(#bl1)"/>
<rect x="30.2" y="6" width="23" height="3" fill="#000" rx="1.5" opacity="0.8" filter="url(#bl1)"/>
<rect x="58.45" y="6" width="23" height="3" fill="#000" rx="1.5" opacity="0.8" filter="url(#bl1)"/>
<rect x="87.2" y="6" width="23" height="3" fill="#000" rx="1.5" opacity="1" filter="url(#bl1)"/>
</svg>
<rect x="386.8" y="351.3" width="113.2" height="13.7" fill="none" stroke="#555" stroke-width="0.7"/>
<text x="383.5" y="362.55" font-size="12.5" text-anchor="end">Fabp5</text>
<text x="400" y="370.8" font-size="6.2" text-anchor="middle" fill="#2a2a2a">0.80</text>
<text x="428.5" y="370.8" font-size="6.2" text-anchor="middle" fill="#2a2a2a">0.80</text>
<text x="456.75" y="370.8" font-size="6.2" text-anchor="middle" fill="#2a2a2a">0.88</text>
<text x="485" y="370.8" font-size="6.2" text-anchor="middle" fill="#2a2a2a">1.29</text>
<svg x="386.8" y="372" width="113.2" height="13.5">
<rect x="0" y="0" width="113.2" height="13.5" fill="#bcbcbc"/>
<rect x="-2.3" y="5.8" width="30" height="2.8" fill="#000" rx="1.4" opacity="0.75" filter="url(#bl1)"/>
<rect x="26.7" y="5.8" width="30" height="2.8" fill="#000" rx="1.4" opacity="0.75" filter="url(#bl1)"/>
<rect x="54.95" y="5.8" width="30" height="2.8" fill="#000" rx="1.4" opacity="0.75" filter="url(#bl1)"/>
<rect x="83.7" y="5.8" width="30" height="2.8" fill="#000" rx="1.4" opacity="0.75" filter="url(#bl1)"/>
</svg>
<rect x="386.8" y="372" width="113.2" height="13.5" fill="none" stroke="#555" stroke-width="0.7"/>
<text x="383.5" y="383.15" font-size="12.5" text-anchor="end">Actb</text>
<text x="400" y="392.3" font-size="6.2" text-anchor="middle" fill="#2a2a2a">1.00</text>
<text x="428.5" y="392.3" font-size="6.2" text-anchor="middle" fill="#2a2a2a">1.00</text>
<text x="456.75" y="392.3" font-size="6.2" text-anchor="middle" fill="#2a2a2a">1.00</text>
<text x="485" y="392.3" font-size="6.2" text-anchor="middle" fill="#2a2a2a">1.00</text>
<svg x="546.4" y="311.6" width="112.9" height="13.8">
<rect x="0" y="0" width="112.9" height="13.8" fill="#d4d4d4"/>
<rect x="1.1" y="5.4" width="26" height="3.2" fill="#000" rx="1.6" opacity="0.5" filter="url(#bl1)"/>
<rect x="29.6" y="5.4" width="26" height="3.2" fill="#000" rx="1.6" opacity="0.55" filter="url(#bl1)"/>
<rect x="57.6" y="5.4" width="26" height="3.2" fill="#000" rx="1.6" opacity="0.8" filter="url(#bl1)"/>
<rect x="86.1" y="5.4" width="26" height="3.2" fill="#000" rx="1.6" opacity="0.95" filter="url(#bl1)"/>
</svg>
<rect x="546.4" y="311.6" width="112.9" height="13.8" fill="none" stroke="#555" stroke-width="0.7"/>
<text x="543.2" y="322.9" font-size="12.5" text-anchor="end">CD36</text>
<text x="661" y="321.1" font-size="7.4">88 kDa</text>
<text x="563" y="331" font-size="6.2" text-anchor="middle" fill="#2a2a2a">0.70</text>
<text x="591" y="331" font-size="6.2" text-anchor="middle" fill="#2a2a2a">0.87</text>
<text x="618.8" y="331" font-size="6.2" text-anchor="middle" fill="#2a2a2a">1.02</text>
<text x="647.2" y="331" font-size="6.2" text-anchor="middle" fill="#2a2a2a">1.30</text>
<svg x="546.4" y="331.3" width="112.9" height="14.1">
<rect x="0" y="0" width="112.9" height="14.1" fill="#cfcfcf"/>
<rect x="2.1" y="5.9" width="24" height="3.2" fill="#000" rx="1.6" opacity="0.6" filter="url(#bl2)"/>
<rect x="30.6" y="5.9" width="24" height="3.2" fill="#000" rx="1.6" opacity="0.6" filter="url(#bl2)"/>
<rect x="58.6" y="5.9" width="24" height="3.2" fill="#000" rx="1.6" opacity="0.75" filter="url(#bl2)"/>
<rect x="87.1" y="5.9" width="24" height="3.2" fill="#000" rx="1.6" opacity="0.9" filter="url(#bl2)"/>
</svg>
<rect x="546.4" y="331.3" width="112.9" height="14.1" fill="none" stroke="#555" stroke-width="0.7"/>
<text x="543.2" y="342.75" font-size="12.5" text-anchor="end">FABP4</text>
<text x="661" y="340.95" font-size="7.4">15 kDa</text>
<text x="563" y="351" font-size="6.2" text-anchor="middle" fill="#2a2a2a">0.79</text>
<text x="591" y="351" font-size="6.2" text-anchor="middle" fill="#2a2a2a">0.87</text>
<text x="618.8" y="351" font-size="6.2" text-anchor="middle" fill="#2a2a2a">1.02</text>
<text x="647.2" y="351" font-size="6.2" text-anchor="middle" fill="#2a2a2a">1.30</text>
<svg x="546.4" y="351.6" width="112.9" height="13.4">
<rect x="0" y="0" width="112.9" height="13.4" fill="#c9c9c9"/>
<rect x="2.1" y="4.4" width="24" height="4.2" fill="#000" rx="2.1" opacity="0.28" filter="url(#bl3)"/>
<rect x="30.6" y="4.4" width="24" height="4.2" fill="#000" rx="2.1" opacity="0.3" filter="url(#bl3)"/>
<rect x="58.6" y="4.4" width="24" height="4.2" fill="#000" rx="2.1" opacity="0.45" filter="url(#bl3)"/>
<rect x="87.1" y="4.4" width="24" height="4.2" fill="#000" rx="2.1" opacity="0.8" filter="url(#bl3)"/>
</svg>
<rect x="546.4" y="351.6" width="112.9" height="13.4" fill="none" stroke="#555" stroke-width="0.7"/>
<text x="543.2" y="362.7" font-size="12.5" text-anchor="end">FABP5</text>
<text x="661" y="360.9" font-size="7.4">15 kDa</text>
<text x="563" y="370.6" font-size="6.2" text-anchor="middle" fill="#2a2a2a">0.72</text>
<text x="591" y="370.6" font-size="6.2" text-anchor="middle" fill="#2a2a2a">0.74</text>
<text x="618.8" y="370.6" font-size="6.2" text-anchor="middle" fill="#2a2a2a">0.93</text>
<text x="647.2" y="370.6" font-size="6.2" text-anchor="middle" fill="#2a2a2a">1.32</text>
<svg x="546.4" y="372.4" width="112.9" height="14.3">
<rect x="0" y="0" width="112.9" height="14.3" fill="#c6c6c6"/>
<rect x="-1.4" y="5.1" width="31" height="4.2" fill="#000" rx="2.1" opacity="1" filter="url(#bl1)"/>
<rect x="27.1" y="5.1" width="31" height="4.2" fill="#000" rx="2.1" opacity="1" filter="url(#bl1)"/>
<rect x="55.1" y="5.1" width="31" height="4.2" fill="#000" rx="2.1" opacity="1" filter="url(#bl1)"/>
<rect x="83.6" y="5.1" width="31" height="4.2" fill="#000" rx="2.1" opacity="1" filter="url(#bl1)"/>
</svg>
<rect x="546.4" y="372.4" width="112.9" height="14.3" fill="none" stroke="#555" stroke-width="0.7"/>
<text x="543.2" y="383.95" font-size="12.5" text-anchor="end">ACTB</text>
<text x="661" y="382.15" font-size="7.4">42 kDa</text>
<text x="563" y="393.3" font-size="6.2" text-anchor="middle" fill="#2a2a2a">1.00</text>
<text x="591" y="393.3" font-size="6.2" text-anchor="middle" fill="#2a2a2a">1.00</text>
<text x="618.8" y="393.3" font-size="6.2" text-anchor="middle" fill="#2a2a2a">1.00</text>
<text x="647.2" y="393.3" font-size="6.2" text-anchor="middle" fill="#2a2a2a">1.00</text>
<text x="2" y="423.4" font-size="15" font-weight="bold">F</text>
<text x="118.7" y="420.6" font-size="11" text-anchor="middle">iRFA</text>
<text x="218.8" y="420.6" font-size="11" text-anchor="middle">Ctrl</text>
<line x1="77.6" y1="423.3" x2="160.2" y2="423.3" stroke="#555" stroke-width="1"/>
<line x1="177.8" y1="423.3" x2="260.4" y2="423.3" stroke="#555" stroke-width="1"/>
<svg x="71.5" y="426.3" width="199" height="13.8">
<rect x="0" y="0" width="199" height="13.8" fill="#c9c9c9"/>
<rect x="5.5" y="4.9" width="28" height="3.2" fill="#000" rx="1.6" opacity="0.95" filter="url(#bl1)"/>
<rect x="38" y="4.9" width="28" height="3.2" fill="#000" rx="1.6" opacity="0.9" filter="url(#bl1)"/>
<rect x="70" y="4.9" width="28" height="3.2" fill="#000" rx="1.6" opacity="0.9" filter="url(#bl1)"/>
<rect x="101.5" y="4.9" width="28" height="3.2" fill="#000" rx="1.6" opacity="0.45" filter="url(#bl1)"/>
<rect x="133.5" y="4.9" width="28" height="3.2" fill="#000" rx="1.6" opacity="0.3" filter="url(#bl1)"/>
<rect x="164.5" y="4.9" width="28" height="3.2" fill="#000" rx="1.6" opacity="0.6" filter="url(#bl1)"/>
</svg>
<rect x="71.5" y="426.3" width="199" height="13.8" fill="none" stroke="#555" stroke-width="0.7"/>
<text x="65.5" y="437.6" font-size="12.5" text-anchor="end">Cd36</text>
<text x="273" y="435.8" font-size="7.4">88 kDa</text>
<text x="88.6" y="445.5" font-size="6.2" text-anchor="middle" fill="#2a2a2a">2.07</text>
<text x="121.2" y="445.5" font-size="6.2" text-anchor="middle" fill="#2a2a2a">2.34</text>
<text x="152.7" y="445.5" font-size="6.2" text-anchor="middle" fill="#2a2a2a">2.42</text>
<text x="186.3" y="445.5" font-size="6.2" text-anchor="middle" fill="#2a2a2a">0.58</text>
<text x="218.8" y="445.5" font-size="6.2" text-anchor="middle" fill="#2a2a2a">0.63</text>
<text x="250.4" y="445.5" font-size="6.2" text-anchor="middle" fill="#2a2a2a">0.63</text>
<svg x="71.5" y="445.6" width="199" height="13.7">
<rect x="0" y="0" width="199" height="13.7" fill="#d2d2d2"/>
<rect x="6" y="5.6" width="27" height="3.8" fill="#000" rx="1.9" opacity="1" filter="url(#bl1)"/>
<rect x="38.5" y="5.6" width="27" height="3.8" fill="#000" rx="1.9" opacity="1" filter="url(#bl1)"/>
<rect x="70.5" y="5.6" width="27" height="3.8" fill="#000" rx="1.9" opacity="1" filter="url(#bl1)"/>
<rect x="102" y="5.6" width="27" height="3.8" fill="#000" rx="1.9" opacity="1" filter="url(#bl1)"/>
<rect x="134" y="5.6" width="27" height="3.8" fill="#000" rx="1.9" opacity="1" filter="url(#bl1)"/>
<rect x="165" y="5.6" width="27" height="3.8" fill="#000" rx="1.9" opacity="1" filter="url(#bl1)"/>
</svg>
<rect x="71.5" y="445.6" width="199" height="13.7" fill="none" stroke="#555" stroke-width="0.7"/>
<text x="65.5" y="456.85" font-size="12.5" text-anchor="end">Actb</text>
<text x="273" y="455.05" font-size="7.4">42 kDa</text>
<text x="88.6" y="464.7" font-size="6.2" text-anchor="middle" fill="#2a2a2a">1.00</text>
<text x="121.2" y="464.7" font-size="6.2" text-anchor="middle" fill="#2a2a2a">1.00</text>
<text x="152.7" y="464.7" font-size="6.2" text-anchor="middle" fill="#2a2a2a">1.00</text>
<text x="186.3" y="464.7" font-size="6.2" text-anchor="middle" fill="#2a2a2a">1.00</text>
<text x="218.8" y="464.7" font-size="6.2" text-anchor="middle" fill="#2a2a2a">1.00</text>
<text x="250.4" y="464.7" font-size="6.2" text-anchor="middle" fill="#2a2a2a">1.00</text>
<svg x="71.5" y="464.3" width="199" height="14">
<rect x="0" y="0" width="199" height="14" fill="#b4b4b4"/>
<rect x="3" y="4.7" width="33" height="5" fill="#000" rx="2.5" opacity="0.9" filter="url(#bl2)"/>
<rect x="35.5" y="4.7" width="33" height="5" fill="#000" rx="2.5" opacity="0.9" filter="url(#bl2)"/>
<rect x="67.5" y="4.7" width="33" height="5" fill="#000" rx="2.5" opacity="0.75" filter="url(#bl2)"/>
<rect x="99" y="4.7" width="33" height="5" fill="#000" rx="2.5" opacity="0.55" filter="url(#bl2)"/>
<rect x="131" y="4.7" width="33" height="5" fill="#000" rx="2.5" opacity="0.55" filter="url(#bl2)"/>
<rect x="162" y="4.7" width="33" height="5" fill="#000" rx="2.5" opacity="0.6" filter="url(#bl2)"/>
</svg>
<rect x="71.5" y="464.3" width="199" height="14" fill="none" stroke="#555" stroke-width="0.7"/>
<text x="65.5" y="475.7" font-size="12.5" text-anchor="end">Fabp4</text>
<text x="273" y="473.9" font-size="7.4">15 kDa</text>
<text x="88.6" y="483.7" font-size="6.2" text-anchor="middle" fill="#2a2a2a">3.34</text>
<text x="121.2" y="483.7" font-size="6.2" text-anchor="middle" fill="#2a2a2a">3.19</text>
<text x="152.7" y="483.7" font-size="6.2" text-anchor="middle" fill="#2a2a2a">1.85</text>
<text x="186.3" y="483.7" font-size="6.2" text-anchor="middle" fill="#2a2a2a">0.82</text>
<text x="218.8" y="483.7" font-size="6.2" text-anchor="middle" fill="#2a2a2a">0.77</text>
<text x="250.4" y="483.7" font-size="6.2" text-anchor="middle" fill="#2a2a2a">0.70</text>
<svg x="71.5" y="484.3" width="199" height="13.8">
<rect x="0" y="0" width="199" height="13.8" fill="#c4c4c4"/>
<rect x="6" y="4.9" width="27" height="4.2" fill="#000" rx="2.1" opacity="0.8" filter="url(#bl2)"/>
<rect x="38.5" y="4.9" width="27" height="4.2" fill="#000" rx="2.1" opacity="0.75" filter="url(#bl2)"/>
<rect x="70.5" y="4.9" width="27" height="4.2" fill="#000" rx="2.1" opacity="0.7" filter="url(#bl2)"/>
<rect x="102" y="4.9" width="27" height="4.2" fill="#000" rx="2.1" opacity="0.3" filter="url(#bl2)"/>
<rect x="134" y="4.9" width="27" height="4.2" fill="#000" rx="2.1" opacity="0.2" filter="url(#bl2)"/>
<rect x="165" y="4.9" width="27" height="4.2" fill="#000" rx="2.1" opacity="0.3" filter="url(#bl2)"/>
</svg>
<rect x="71.5" y="484.3" width="199" height="13.8" fill="none" stroke="#555" stroke-width="0.7"/>
<text x="65.5" y="495.6" font-size="12.5" text-anchor="end">Fabp5</text>
<text x="273" y="493.8" font-size="7.4">15 kDa</text>
<text x="88.6" y="503.5" font-size="6.2" text-anchor="middle" fill="#2a2a2a">2.85</text>
<text x="121.2" y="503.5" font-size="6.2" text-anchor="middle" fill="#2a2a2a">2.37</text>
<text x="152.7" y="503.5" font-size="6.2" text-anchor="middle" fill="#2a2a2a">2.48</text>
<text x="186.3" y="503.5" font-size="6.2" text-anchor="middle" fill="#2a2a2a">0.68</text>
<text x="218.8" y="503.5" font-size="6.2" text-anchor="middle" fill="#2a2a2a">0.61</text>
<text x="250.4" y="503.5" font-size="6.2" text-anchor="middle" fill="#2a2a2a">0.77</text>
<svg x="71.5" y="503.8" width="199" height="13.8">
<rect x="0" y="0" width="199" height="13.8" fill="#cdcdcd"/>
<rect x="4.5" y="5.1" width="30" height="3" fill="#000" rx="1.5" opacity="0.95" filter="url(#bl1)"/>
<rect x="37" y="5.1" width="30" height="3" fill="#000" rx="1.5" opacity="0.9" filter="url(#bl1)"/>
<rect x="69" y="5.1" width="30" height="3" fill="#000" rx="1.5" opacity="0.9" filter="url(#bl1)"/>
<rect x="100.5" y="5.1" width="30" height="3" fill="#000" rx="1.5" opacity="1" filter="url(#bl1)"/>
<rect x="132.5" y="5.1" width="30" height="3" fill="#000" rx="1.5" opacity="1" filter="url(#bl1)"/>
<rect x="163.5" y="5.1" width="30" height="3" fill="#000" rx="1.5" opacity="1" filter="url(#bl1)"/>
</svg>
<rect x="71.5" y="503.8" width="199" height="13.8" fill="none" stroke="#555" stroke-width="0.7"/>
<text x="65.5" y="515.1" font-size="12.5" text-anchor="end">Gapdh</text>
<text x="273" y="513.3" font-size="7.4">36 kDa</text>
<text x="88.6" y="523" font-size="6.2" text-anchor="middle" fill="#2a2a2a">1.00</text>
<text x="121.2" y="523" font-size="6.2" text-anchor="middle" fill="#2a2a2a">1.00</text>
<text x="152.7" y="523" font-size="6.2" text-anchor="middle" fill="#2a2a2a">1.00</text>
<text x="186.3" y="523" font-size="6.2" text-anchor="middle" fill="#2a2a2a">1.00</text>
<text x="218.8" y="523" font-size="6.2" text-anchor="middle" fill="#2a2a2a">1.00</text>
<text x="250.4" y="523" font-size="6.2" text-anchor="middle" fill="#2a2a2a">1.00</text>
<text x="1.6" y="536" font-size="15" font-weight="bold">G</text>
<text x="96.6" y="537" font-size="12.5" text-anchor="middle">siCtrl</text>
<text x="213.8" y="537" font-size="12.5" text-anchor="middle">siCtrl</text>
<text x="155.2" y="537" font-size="12.5" text-anchor="middle">si<tspan font-style="italic">PPARg</tspan></text>
<text x="270.4" y="537" font-size="12.5" text-anchor="middle">si<tspan font-style="italic">Pparg</tspan></text>
<line x1="73.6" y1="540.6" x2="120.2" y2="540.6" stroke="#555" stroke-width="1"/>
<line x1="131.2" y1="540.6" x2="179.3" y2="540.6" stroke="#555" stroke-width="1"/>
<line x1="191.8" y1="540.6" x2="236.4" y2="540.6" stroke="#555" stroke-width="1"/>
<line x1="246.4" y1="540.6" x2="293" y2="540.6" stroke="#555" stroke-width="1"/>
<text x="80.3" y="554.3" font-size="10.5" text-anchor="middle">37</text>
<text x="107.5" y="554.3" font-size="10.5" text-anchor="middle">45+OA</text>
<text x="138.5" y="554.3" font-size="10.5" text-anchor="middle">37</text>
<text x="165.5" y="554.3" font-size="10.5" text-anchor="middle">45+OA</text>
<text x="197.8" y="554.3" font-size="10.5" text-anchor="middle">37</text>
<text x="226.3" y="554.3" font-size="10.5" text-anchor="middle">45+OA</text>
<text x="255.4" y="554.3" font-size="10.5" text-anchor="middle">37</text>
<text x="283" y="554.3" font-size="10.5" text-anchor="middle">45+OA</text>
<svg x="72.6" y="557.5" width="112.7" height="13.8">
<rect x="0" y="0" width="112.7" height="13.8" fill="#d2d2d2"/>
<rect x="1" y="5.2" width="25" height="3.2" fill="#000" rx="1.6" opacity="0.9" filter="url(#bl1)"/>
<rect x="29.6" y="5.2" width="25" height="3.2" fill="#000" rx="1.6" opacity="1" filter="url(#bl1)"/>
<rect x="57.6" y="5.2" width="25" height="3.2" fill="#000" rx="1.6" opacity="0.8" filter="url(#bl1)"/>
<rect x="86.2" y="5.2" width="25" height="3.2" fill="#000" rx="1.6" opacity="0.85" filter="url(#bl1)"/>
</svg>
<rect x="72.6" y="557.5" width="112.7" height="13.8" fill="none" stroke="#555" stroke-width="0.7"/>
<svg x="189.3" y="557.5" width="112.7" height="13.8">
<rect x="0" y="0" width="112.7" height="13.8" fill="#d6d6d6"/>
<rect x="1.5" y="4.8" width="24" height="2.8" fill="#000" rx="1.4" opacity="0.9" filter="url(#bl1)"/>
<rect x="30" y="4.8" width="24" height="2.8" fill="#000" rx="1.4" opacity="1" filter="url(#bl1)"/>
<rect x="58.1" y="4.8" width="24" height="2.8" fill="#000" rx="1.4" opacity="0.4" filter="url(#bl1)"/>
<rect x="86.7" y="4.8" width="24" height="2.8" fill="#000" rx="1.4" opacity="0.55" filter="url(#bl1)"/>
</svg>
<rect x="189.3" y="557.5" width="112.7" height="13.8" fill="none" stroke="#555" stroke-width="0.7"/>
<text x="66.3" y="568.8" font-size="12.5" text-anchor="end">CD36</text>
<text x="305.5" y="567" font-size="7.4">88 kDa</text>
<text x="86.1" y="576.6" font-size="6.2" text-anchor="middle" fill="#2a2a2a">0.83</text>
<text x="114.7" y="576.6" font-size="6.2" text-anchor="middle" fill="#2a2a2a">1.59</text>
<text x="142.7" y="576.6" font-size="6.2" text-anchor="middle" fill="#2a2a2a">0.78</text>
<text x="171.3" y="576.6" font-size="6.2" text-anchor="middle" fill="#2a2a2a">0.84</text>
<text x="202.8" y="576.6" font-size="6.2" text-anchor="middle" fill="#2a2a2a">0.96</text>
<text x="231.3" y="576.6" font-size="6.2" text-anchor="middle" fill="#2a2a2a">1.54</text>
<text x="259.4" y="576.6" font-size="6.2" text-anchor="middle" fill="#2a2a2a">0.33</text>
<text x="288" y="576.6" font-size="6.2" text-anchor="middle" fill="#2a2a2a">0.64</text>
<svg x="72.6" y="577.5" width="112.7" height="13.8">
<rect x="0" y="0" width="112.7" height="13.8" fill="#d0d0d0"/>
<rect x="2.5" y="5.4" width="22" height="3.2" fill="#000" rx="1.6" opacity="0.6" filter="url(#bl1)"/>
<rect x="31.1" y="5.4" width="22" height="3.2" fill="#000" rx="1.6" opacity="0.95" filter="url(#bl1)"/>
<rect x="59.1" y="5.4" width="22" height="3.2" fill="#000" rx="1.6" opacity="0.35" filter="url(#bl1)"/>
<rect x="87.7" y="5.4" width="22" height="3.2" fill="#000" rx="1.6" opacity="0.75" filter="url(#bl1)"/>
</svg>
<rect x="72.6" y="577.5" width="112.7" height="13.8" fill="none" stroke="#555" stroke-width="0.7"/>
<svg x="189.3" y="577.5" width="112.7" height="13.8">
<rect x="0" y="0" width="112.7" height="13.8" fill="#c6c6c6"/>
<rect x="2.5" y="4.2" width="22" height="4" fill="#000" rx="2" opacity="0.15" filter="url(#bl2)"/>
<rect x="31" y="4.2" width="22" height="4" fill="#000" rx="2" opacity="0.5" filter="url(#bl2)"/>
<rect x="59.1" y="4.2" width="22" height="4" fill="#000" rx="2" opacity="0.12" filter="url(#bl2)"/>
<rect x="87.7" y="4.2" width="22" height="4" fill="#000" rx="2" opacity="0.25" filter="url(#bl2)"/>
</svg>
<rect x="189.3" y="577.5" width="112.7" height="13.8" fill="none" stroke="#555" stroke-width="0.7"/>
<text x="66.3" y="588.8" font-size="12.5" text-anchor="end">FABP4</text>
<text x="305.5" y="587" font-size="7.4">15 kDa</text>
<text x="86.1" y="596.6" font-size="6.2" text-anchor="middle" fill="#2a2a2a">0.51</text>
<text x="114.7" y="596.6" font-size="6.2" text-anchor="middle" fill="#2a2a2a">1.03</text>
<text x="142.7" y="596.6" font-size="6.2" text-anchor="middle" fill="#2a2a2a">0.38</text>
<text x="171.3" y="596.6" font-size="6.2" text-anchor="middle" fill="#2a2a2a">0.67</text>
<text x="202.8" y="596.6" font-size="6.2" text-anchor="middle" fill="#2a2a2a">0.28</text>
<text x="231.3" y="596.6" font-size="6.2" text-anchor="middle" fill="#2a2a2a">0.95</text>
<text x="259.4" y="596.6" font-size="6.2" text-anchor="middle" fill="#2a2a2a">0.21</text>
<text x="288" y="596.6" font-size="6.2" text-anchor="middle" fill="#2a2a2a">0.40</text>
<svg x="72.6" y="596.8" width="112.7" height="13.7">
<rect x="0" y="0" width="112.7" height="13.7" fill="#dedede"/>
<rect x="3.5" y="4.7" width="20" height="3.6" fill="#000" rx="1.8" opacity="0.06" filter="url(#bl2)"/>
<rect x="32.1" y="4.7" width="20" height="3.6" fill="#000" rx="1.8" opacity="0.4" filter="url(#bl2)"/>
<rect x="60.1" y="4.7" width="20" height="3.6" fill="#000" rx="1.8" opacity="0.04" filter="url(#bl2)"/>
<rect x="88.7" y="4.7" width="20" height="3.6" fill="#000" rx="1.8" opacity="0.06" filter="url(#bl2)"/>
</svg>
<rect x="72.6" y="596.8" width="112.7" height="13.7" fill="none" stroke="#555" stroke-width="0.7"/>
<svg x="189.3" y="596.8" width="112.7" height="13.7">
<rect x="0" y="0" width="112.7" height="13.7" fill="#cecece"/>
<rect x="2.5" y="4.8" width="22" height="3.4" fill="#000" rx="1.7" opacity="0.15" filter="url(#bl2)"/>
<rect x="31" y="4.8" width="22" height="3.4" fill="#000" rx="1.7" opacity="0.4" filter="url(#bl2)"/>
<rect x="59.1" y="4.8" width="22" height="3.4" fill="#000" rx="1.7" opacity="0.08" filter="url(#bl2)"/>
<rect x="87.7" y="4.8" width="22" height="3.4" fill="#000" rx="1.7" opacity="0.15" filter="url(#bl2)"/>
</svg>
<rect x="189.3" y="596.8" width="112.7" height="13.7" fill="none" stroke="#555" stroke-width="0.7"/>
<text x="66.3" y="608.05" font-size="12.5" text-anchor="end">FABP5</text>
<text x="305.5" y="606.25" font-size="7.4">15 kDa</text>
<text x="86.1" y="615.8" font-size="6.2" text-anchor="middle" fill="#2a2a2a">0.22</text>
<text x="114.7" y="615.8" font-size="6.2" text-anchor="middle" fill="#2a2a2a">0.76</text>
<text x="142.7" y="615.8" font-size="6.2" text-anchor="middle" fill="#2a2a2a">0.24</text>
<text x="171.3" y="615.8" font-size="6.2" text-anchor="middle" fill="#2a2a2a">0.47</text>
<text x="202.8" y="615.8" font-size="6.2" text-anchor="middle" fill="#2a2a2a">0.36</text>
<text x="231.3" y="615.8" font-size="6.2" text-anchor="middle" fill="#2a2a2a">0.93</text>
<text x="259.4" y="615.8" font-size="6.2" text-anchor="middle" fill="#2a2a2a">0.19</text>
<text x="288" y="615.8" font-size="6.2" text-anchor="middle" fill="#2a2a2a">0.35</text>
<svg x="72.6" y="616.3" width="112.7" height="13.8">
<rect x="0" y="0" width="112.7" height="13.8" fill="#b6b6b6"/>
<rect x="0.5" y="4.3" width="26" height="2.4" fill="#000" rx="1.2" opacity="0.3" filter="url(#bl1)"/>
<rect x="29.1" y="4.3" width="26" height="2.4" fill="#000" rx="1.2" opacity="0.3" filter="url(#bl1)"/>
<rect x="57.1" y="4.3" width="26" height="2.4" fill="#000" rx="1.2" opacity="0.3" filter="url(#bl1)"/>
<rect x="85.7" y="4.3" width="26" height="2.4" fill="#000" rx="1.2" opacity="0.3" filter="url(#bl1)"/>
</svg>
<rect x="72.6" y="616.3" width="112.7" height="13.8" fill="none" stroke="#555" stroke-width="0.7"/>
<svg x="189.3" y="616.3" width="112.7" height="13.8">
<rect x="0" y="0" width="112.7" height="13.8" fill="#cacaca"/>
<rect x="0.5" y="5.1" width="26" height="2.8" fill="#000" rx="1.4" opacity="0.9" filter="url(#bl1)"/>
<rect x="29" y="5.1" width="26" height="2.8" fill="#000" rx="1.4" opacity="0.9" filter="url(#bl1)"/>
<rect x="57.1" y="5.1" width="26" height="2.8" fill="#000" rx="1.4" opacity="0.9" filter="url(#bl1)"/>
<rect x="85.7" y="5.1" width="26" height="2.8" fill="#000" rx="1.4" opacity="0.9" filter="url(#bl1)"/>
</svg>
<rect x="189.3" y="616.3" width="112.7" height="13.8" fill="none" stroke="#555" stroke-width="0.7"/>
<text x="66.3" y="627.6" font-size="12.5" text-anchor="end">ACTB</text>
<text x="305.5" y="625.8" font-size="7.4">42 kDa</text>
<text x="86.1" y="635.4" font-size="6.2" text-anchor="middle" fill="#2a2a2a">1.00</text>
<text x="114.7" y="635.4" font-size="6.2" text-anchor="middle" fill="#2a2a2a">1.00</text>
<text x="142.7" y="635.4" font-size="6.2" text-anchor="middle" fill="#2a2a2a">1.00</text>
<text x="171.3" y="635.4" font-size="6.2" text-anchor="middle" fill="#2a2a2a">1.00</text>
<text x="202.8" y="635.4" font-size="6.2" text-anchor="middle" fill="#2a2a2a">1.00</text>
<text x="231.3" y="635.4" font-size="6.2" text-anchor="middle" fill="#2a2a2a">1.00</text>
<text x="259.4" y="635.4" font-size="6.2" text-anchor="middle" fill="#2a2a2a">1.00</text>
<text x="288" y="635.4" font-size="6.2" text-anchor="middle" fill="#2a2a2a">1.00</text>
<text x="128.7" y="645.4" font-size="11" text-anchor="middle">DLD1</text>
<text x="245.4" y="645.4" font-size="11" text-anchor="middle">CT26</text>
<text x="339.6" y="421.6" font-size="15" font-weight="bold">H</text>
<text x="361.3" y="467" font-size="15" text-anchor="middle" transform="rotate(-90 361.3 467)">mmol/g prot</text>
<line x1="405.9" y1="505.75" x2="562.5" y2="505.75" stroke="#000" stroke-width="2"/>
<line x1="445.3" y1="505.75" x2="445.3" y2="511.25" stroke="#000" stroke-width="1.4"/>
<line x1="522.05" y1="505.75" x2="522.05" y2="511.25" stroke="#000" stroke-width="1.4"/>
<rect x="410" y="473.77" width="16.3" height="30.98" fill="#646464"/>
<line x1="418.15" y1="473.77" x2="418.15" y2="468.72" stroke="#000" stroke-width="1.4"/>
<line x1="412.93" y1="468.72" x2="423.37" y2="468.72" stroke="#000" stroke-width="1.8"/>
<circle cx="418.15" cy="471.83" r="2.5" fill="#dededf" stroke="#858585" stroke-width="0.6"/>
<circle cx="413.26" cy="471.19" r="2.5" fill="#dededf" stroke="#858585" stroke-width="0.6"/>
<circle cx="423.04" cy="473.92" r="2.5" fill="#dededf" stroke="#858585" stroke-width="0.6"/>
<rect x="428.1" y="480.08" width="16.3" height="24.67" fill="#a6a6a9"/>
<line x1="436.25" y1="480.08" x2="436.25" y2="476.71" stroke="#000" stroke-width="1.4"/>
<line x1="431.03" y1="476.71" x2="441.47" y2="476.71" stroke="#000" stroke-width="1.8"/>
<circle cx="441.14" cy="482.23" r="2.5" fill="#dededf" stroke="#858585" stroke-width="0.6"/>
<circle cx="431.36" cy="479.19" r="2.5" fill="#dededf" stroke="#858585" stroke-width="0.6"/>
<circle cx="436.25" cy="480.01" r="2.5" fill="#dededf" stroke="#858585" stroke-width="0.6"/>
<rect x="446.2" y="456.09" width="16.3" height="48.66" fill="#2a00ff"/>
<line x1="454.35" y1="456.09" x2="454.35" y2="453.57" stroke="#000" stroke-width="1.4"/>
<line x1="449.13" y1="453.57" x2="459.57" y2="453.57" stroke="#000" stroke-width="1.8"/>
<circle cx="449.46" cy="457.44" r="2.5" fill="#dededf" stroke="#858585" stroke-width="0.6"/>
<circle cx="459.24" cy="459.63" r="2.5" fill="#dededf" stroke="#858585" stroke-width="0.6"/>
<circle cx="454.35" cy="456.86" r="2.5" fill="#dededf" stroke="#858585" stroke-width="0.6"/>
<rect x="464.3" y="478.4" width="16.3" height="26.35" fill="#86a8d8"/>
<line x1="472.45" y1="478.4" x2="472.45" y2="476.71" stroke="#000" stroke-width="1.4"/>
<line x1="467.23" y1="476.71" x2="477.67" y2="476.71" stroke="#000" stroke-width="1.8"/>
<circle cx="472.45" cy="477.41" r="2.5" fill="#dededf" stroke="#858585" stroke-width="0.6"/>
<circle cx="467.56" cy="478.81" r="2.5" fill="#dededf" stroke="#858585" stroke-width="0.6"/>
<circle cx="477.34" cy="478.31" r="2.5" fill="#dededf" stroke="#858585" stroke-width="0.6"/>
<text x="445.3" y="525.4" font-size="13" text-anchor="middle">FA</text>
<rect x="486.75" y="484.71" width="16.3" height="20.04" fill="#646464"/>
<line x1="494.9" y1="484.71" x2="494.9" y2="479.66" stroke="#000" stroke-width="1.4"/>
<line x1="489.68" y1="479.66" x2="500.12" y2="479.66" stroke="#000" stroke-width="1.8"/>
<circle cx="491.06" cy="486.07" r="2.5" fill="#dededf" stroke="#858585" stroke-width="0.6"/>
<circle cx="492.13" cy="491.26" r="2.5" fill="#dededf" stroke="#858585" stroke-width="0.6"/>
<circle cx="495.24" cy="482.76" r="2.5" fill="#dededf" stroke="#858585" stroke-width="0.6"/>
<circle cx="496.12" cy="490.66" r="2.5" fill="#dededf" stroke="#858585" stroke-width="0.6"/>
<circle cx="498.94" cy="483.79" r="2.5" fill="#dededf" stroke="#858585" stroke-width="0.6"/>
<rect x="504.85" y="489.34" width="16.3" height="15.41" fill="#a6a6a9"/>
<line x1="513" y1="489.34" x2="513" y2="484.29" stroke="#000" stroke-width="1.4"/>
<line x1="507.78" y1="484.29" x2="518.22" y2="484.29" stroke="#000" stroke-width="1.8"/>
<circle cx="508.66" cy="488.92" r="2.5" fill="#dededf" stroke="#858585" stroke-width="0.6"/>
<circle cx="510.62" cy="494.01" r="2.5" fill="#dededf" stroke="#858585" stroke-width="0.6"/>
<circle cx="512.73" cy="490.54" r="2.5" fill="#dededf" stroke="#858585" stroke-width="0.6"/>
<circle cx="514.69" cy="494.05" r="2.5" fill="#dededf" stroke="#858585" stroke-width="0.6"/>
<circle cx="517.41" cy="488.62" r="2.5" fill="#dededf" stroke="#858585" stroke-width="0.6"/>
<rect x="522.95" y="456.93" width="16.3" height="47.82" fill="#2a00ff"/>
<line x1="531.1" y1="456.93" x2="531.1" y2="455.25" stroke="#000" stroke-width="1.4"/>
<line x1="525.88" y1="455.25" x2="536.32" y2="455.25" stroke="#000" stroke-width="1.8"/>
<circle cx="527.22" cy="455.94" r="2.5" fill="#dededf" stroke="#858585" stroke-width="0.6"/>
<circle cx="528.03" cy="461.9" r="2.5" fill="#dededf" stroke="#858585" stroke-width="0.6"/>
<circle cx="530.9" cy="455.47" r="2.5" fill="#dededf" stroke="#858585" stroke-width="0.6"/>
<circle cx="532.56" cy="462.37" r="2.5" fill="#dededf" stroke="#858585" stroke-width="0.6"/>
<circle cx="534.99" cy="458.56" r="2.5" fill="#dededf" stroke="#858585" stroke-width="0.6"/>
<rect x="541.05" y="482.6" width="16.3" height="22.15" fill="#86a8d8"/>
<line x1="549.2" y1="482.6" x2="549.2" y2="480.08" stroke="#000" stroke-width="1.4"/>
<line x1="543.98" y1="480.08" x2="554.42" y2="480.08" stroke="#000" stroke-width="1.8"/>
<circle cx="545.1" cy="483.19" r="2.5" fill="#dededf" stroke="#858585" stroke-width="0.6"/>
<circle cx="546.24" cy="488.4" r="2.5" fill="#dededf" stroke="#858585" stroke-width="0.6"/>
<circle cx="549.15" cy="482.04" r="2.5" fill="#dededf" stroke="#858585" stroke-width="0.6"/>
<circle cx="550.97" cy="487.73" r="2.5" fill="#dededf" stroke="#858585" stroke-width="0.6"/>
<circle cx="553.37" cy="481.01" r="2.5" fill="#dededf" stroke="#858585" stroke-width="0.6"/>
<text x="522.05" y="525.4" font-size="13" text-anchor="middle">TG</text>
<line x1="406.9" y1="428.9" x2="406.9" y2="506.85" stroke="#000" stroke-width="2.2"/>
<line x1="401.3" y1="430" x2="406.9" y2="430" stroke="#000" stroke-width="1.4"/>
<text x="397.6" y="434.02" font-size="12" text-anchor="end">0.09</text>
<line x1="401.3" y1="455.25" x2="406.9" y2="455.25" stroke="#000" stroke-width="1.4"/>
<text x="397.6" y="459.27" font-size="12" text-anchor="end">0.06</text>
<line x1="401.3" y1="480.5" x2="406.9" y2="480.5" stroke="#000" stroke-width="1.4"/>
<text x="397.6" y="484.52" font-size="12" text-anchor="end">0.03</text>
<line x1="401.3" y1="505.75" x2="406.9" y2="505.75" stroke="#000" stroke-width="1.4"/>
<text x="397.6" y="509.77" font-size="12" text-anchor="end">0.00</text>
<path d="M453 433V430H471.75V433" stroke="#000" stroke-width="1.3" fill="none"/>
<text x="462.7" y="427.7" font-size="8.75" text-anchor="middle"><tspan font-style="italic">P</tspan> &lt; 0.001</text>
<path d="M417.5 445.5V442.5H454.25V445.5" stroke="#000" stroke-width="1.3" fill="none"/>
<text x="431.7" y="440.2" font-size="8.75" text-anchor="middle"><tspan font-style="italic">P</tspan> &lt; 0.001</text>
<path d="M435.75 449.25V446.25H454.25V449.25" stroke="#000" stroke-width="1.3" fill="none"/>
<path d="M417.5 466V463H435V466" stroke="#000" stroke-width="1.3" fill="none"/>
<text x="426.2" y="460.7" font-size="8.75" text-anchor="middle"><tspan font-style="italic">P</tspan> = 0.038</text>
<path d="M510.5 421.75V418.75H547.5V421.75" stroke="#000" stroke-width="1.3" fill="none"/>
<text x="528.7" y="415.7" font-size="8.75" text-anchor="middle"><tspan font-style="italic">P</tspan> = 0.019</text>
<path d="M528.75 433.5V430.5H547.5V433.5" stroke="#000" stroke-width="1.3" fill="none"/>
<text x="538" y="428.2" font-size="8.75" text-anchor="middle"><tspan font-style="italic">P</tspan> &lt; 0.001</text>
<path d="M493 446.75V443.75H530V446.75" stroke="#000" stroke-width="1.3" fill="none"/>
<text x="511.5" y="441.4" font-size="8.75" text-anchor="middle"><tspan font-style="italic">P</tspan> &lt; 0.001</text>
<path d="M511.25 452.5V449.5H530V452.5" stroke="#000" stroke-width="1.3" fill="none"/>
<rect x="564.2" y="426.1" width="5.8" height="5.8" fill="#646464"/>
<text x="588" y="433" font-size="11.25">siCtrl-37°C</text>
<rect x="564.2" y="442.1" width="5.8" height="5.8" fill="#a6a6a9"/>
<text x="588" y="449" font-size="11.25">si<tspan font-style="italic">Pparg</tspan>-37°C</text>
<rect x="564.2" y="457.5" width="5.8" height="5.8" fill="#2a00ff"/>
<text x="588" y="464.4" font-size="11.25">siCtrl-45°C+OA</text>
<rect x="564.2" y="473.4" width="5.8" height="5.8" fill="#86a8d8"/>
<text x="588" y="480.3" font-size="11.25">si<tspan font-style="italic">Pparg</tspan>-45°C+OA</text>
<text x="361.3" y="578.5" font-size="15" text-anchor="middle" transform="rotate(-90 361.3 578.5)">mmol/g prot</text>
<line x1="405.9" y1="617" x2="562.5" y2="617" stroke="#000" stroke-width="2"/>
<line x1="445.3" y1="617" x2="445.3" y2="622.5" stroke="#000" stroke-width="1.4"/>
<line x1="521.8" y1="617" x2="521.8" y2="622.5" stroke="#000" stroke-width="1.4"/>
<rect x="410" y="592.62" width="16.3" height="23.38" fill="#646464"/>
<line x1="418.15" y1="592.62" x2="418.15" y2="588.88" stroke="#000" stroke-width="1.4"/>
<line x1="412.93" y1="588.88" x2="423.37" y2="588.88" stroke="#000" stroke-width="1.8"/>
<circle cx="418.15" cy="592.44" r="2.5" fill="#dededf" stroke="#858585" stroke-width="0.6"/>
<circle cx="423.04" cy="595.15" r="2.5" fill="#dededf" stroke="#858585" stroke-width="0.6"/>
<circle cx="413.26" cy="590.37" r="2.5" fill="#dededf" stroke="#858585" stroke-width="0.6"/>
<rect x="428.1" y="599.5" width="16.3" height="16.5" fill="#a6a6a9"/>
<line x1="436.25" y1="599.5" x2="436.25" y2="596.38" stroke="#000" stroke-width="1.4"/>
<line x1="431.03" y1="596.38" x2="441.47" y2="596.38" stroke="#000" stroke-width="1.8"/>
<circle cx="441.14" cy="601.74" r="2.5" fill="#dededf" stroke="#858585" stroke-width="0.6"/>
<circle cx="431.36" cy="595.64" r="2.5" fill="#dededf" stroke="#858585" stroke-width="0.6"/>
<circle cx="436.25" cy="598.26" r="2.5" fill="#dededf" stroke="#858585" stroke-width="0.6"/>
<rect x="446.2" y="575.44" width="16.3" height="40.56" fill="#2a00ff"/>
<line x1="454.35" y1="575.44" x2="454.35" y2="567.94" stroke="#000" stroke-width="1.4"/>
<line x1="449.13" y1="567.94" x2="459.57" y2="567.94" stroke="#000" stroke-width="1.8"/>
<circle cx="454.35" cy="578.28" r="2.5" fill="#dededf" stroke="#858585" stroke-width="0.6"/>
<circle cx="459.24" cy="579.08" r="2.5" fill="#dededf" stroke="#858585" stroke-width="0.6"/>
<circle cx="449.46" cy="563.18" r="2.5" fill="#dededf" stroke="#858585" stroke-width="0.6"/>
<rect x="464.3" y="593.25" width="16.3" height="22.75" fill="#86a8d8"/>
<line x1="472.45" y1="593.25" x2="472.45" y2="592.62" stroke="#000" stroke-width="1.4"/>
<line x1="467.23" y1="592.62" x2="477.67" y2="592.62" stroke="#000" stroke-width="1.8"/>
<circle cx="467.56" cy="592.82" r="2.5" fill="#dededf" stroke="#858585" stroke-width="0.6"/>
<circle cx="477.34" cy="593.81" r="2.5" fill="#dededf" stroke="#858585" stroke-width="0.6"/>
<circle cx="472.45" cy="593.15" r="2.5" fill="#dededf" stroke="#858585" stroke-width="0.6"/>
<text x="445.3" y="637" font-size="13" text-anchor="middle">FA</text>
<rect x="486.5" y="602.94" width="16.3" height="13.06" fill="#646464"/>
<line x1="494.65" y1="602.94" x2="494.65" y2="597.94" stroke="#000" stroke-width="1.4"/>
<line x1="489.43" y1="597.94" x2="499.87" y2="597.94" stroke="#000" stroke-width="1.8"/>
<circle cx="490.33" cy="601.25" r="2.5" fill="#dededf" stroke="#858585" stroke-width="0.6"/>
<circle cx="491.7" cy="607.08" r="2.5" fill="#dededf" stroke="#858585" stroke-width="0.6"/>
<circle cx="494.97" cy="602.44" r="2.5" fill="#dededf" stroke="#858585" stroke-width="0.6"/>
<circle cx="495.97" cy="609.6" r="2.5" fill="#dededf" stroke="#858585" stroke-width="0.6"/>
<circle cx="499.28" cy="602.27" r="2.5" fill="#dededf" stroke="#858585" stroke-width="0.6"/>
<rect x="504.6" y="603.88" width="16.3" height="12.12" fill="#a6a6a9"/>
<line x1="512.75" y1="603.88" x2="512.75" y2="599.5" stroke="#000" stroke-width="1.4"/>
<line x1="507.53" y1="599.5" x2="517.97" y2="599.5" stroke="#000" stroke-width="1.8"/>
<circle cx="508.19" cy="602.73" r="2.5" fill="#dededf" stroke="#858585" stroke-width="0.6"/>
<circle cx="509.87" cy="608.79" r="2.5" fill="#dededf" stroke="#858585" stroke-width="0.6"/>
<circle cx="513.06" cy="604.57" r="2.5" fill="#dededf" stroke="#858585" stroke-width="0.6"/>
<circle cx="514.23" cy="608.23" r="2.5" fill="#dededf" stroke="#858585" stroke-width="0.6"/>
<circle cx="517" cy="603.23" r="2.5" fill="#dededf" stroke="#858585" stroke-width="0.6"/>
<rect x="522.7" y="584.5" width="16.3" height="31.5" fill="#2a00ff"/>
<line x1="530.85" y1="584.5" x2="530.85" y2="579.5" stroke="#000" stroke-width="1.4"/>
<line x1="525.63" y1="579.5" x2="536.07" y2="579.5" stroke="#000" stroke-width="1.8"/>
<circle cx="526.72" cy="585.32" r="2.5" fill="#dededf" stroke="#858585" stroke-width="0.6"/>
<circle cx="527.94" cy="588.87" r="2.5" fill="#dededf" stroke="#858585" stroke-width="0.6"/>
<circle cx="530.65" cy="583.65" r="2.5" fill="#dededf" stroke="#858585" stroke-width="0.6"/>
<circle cx="532.36" cy="591.33" r="2.5" fill="#dededf" stroke="#858585" stroke-width="0.6"/>
<circle cx="535.36" cy="585.35" r="2.5" fill="#dededf" stroke="#858585" stroke-width="0.6"/>
<rect x="540.8" y="596.38" width="16.3" height="19.62" fill="#86a8d8"/>
<line x1="548.95" y1="596.38" x2="548.95" y2="592" stroke="#000" stroke-width="1.4"/>
<line x1="543.73" y1="592" x2="554.17" y2="592" stroke="#000" stroke-width="1.8"/>
<circle cx="544.7" cy="596.48" r="2.5" fill="#dededf" stroke="#858585" stroke-width="0.6"/>
<circle cx="545.87" cy="600.65" r="2.5" fill="#dededf" stroke="#858585" stroke-width="0.6"/>
<circle cx="549.29" cy="597.34" r="2.5" fill="#dededf" stroke="#858585" stroke-width="0.6"/>
<circle cx="550.78" cy="602.74" r="2.5" fill="#dededf" stroke="#858585" stroke-width="0.6"/>
<circle cx="552.98" cy="594.76" r="2.5" fill="#dededf" stroke="#858585" stroke-width="0.6"/>
<text x="521.8" y="637" font-size="13" text-anchor="middle">TG</text>
<line x1="406.9" y1="540.9" x2="406.9" y2="618.1" stroke="#000" stroke-width="2.2"/>
<line x1="401.3" y1="542" x2="406.9" y2="542" stroke="#000" stroke-width="1.4"/>
<text x="397.6" y="546.02" font-size="12" text-anchor="end">0.12</text>
<line x1="401.3" y1="567" x2="406.9" y2="567" stroke="#000" stroke-width="1.4"/>
<text x="397.6" y="571.02" font-size="12" text-anchor="end">0.08</text>
<line x1="401.3" y1="592" x2="406.9" y2="592" stroke="#000" stroke-width="1.4"/>
<text x="397.6" y="596.02" font-size="12" text-anchor="end">0.04</text>
<line x1="401.3" y1="617" x2="406.9" y2="617" stroke="#000" stroke-width="1.4"/>
<text x="397.6" y="621.02" font-size="12" text-anchor="end">0.00</text>
<path d="M454.5 541V538H472.5V541" stroke="#000" stroke-width="1.3" fill="none"/>
<text x="463.5" y="535.2" font-size="8.75" text-anchor="middle"><tspan font-style="italic">P</tspan> &lt; 0.001</text>
<path d="M417.5 554.25V551.25H455V554.25" stroke="#000" stroke-width="1.3" fill="none"/>
<text x="436" y="548.2" font-size="8.75" text-anchor="middle"><tspan font-style="italic">P</tspan> = 0.001</text>
<path d="M436.25 566.25V563.25H455V566.25" stroke="#000" stroke-width="1.3" fill="none"/>
<text x="445.2" y="560.9" font-size="8.75" text-anchor="middle"><tspan font-style="italic">P</tspan> &lt; 0.001</text>
<path d="M511.3 543.8V540.8H548.3V543.8" stroke="#000" stroke-width="1.3" fill="none"/>
<text x="529.3" y="537.7" font-size="8.75" text-anchor="middle"><tspan font-style="italic">P</tspan> = 0.017</text>
<path d="M529.8 556.6V553.6H548.3V556.6" stroke="#000" stroke-width="1.3" fill="none"/>
<text x="537.7" y="550.4" font-size="8.75" text-anchor="middle"><tspan font-style="italic">P</tspan> = 0.001</text>
<path d="M493.5 569.3V566.3H530.5V569.3" stroke="#000" stroke-width="1.3" fill="none"/>
<text x="512" y="563.9" font-size="8.75" text-anchor="middle"><tspan font-style="italic">P</tspan> &lt; 0.001</text>
<path d="M511.3 575V572H530.5V575" stroke="#000" stroke-width="1.3" fill="none"/>
<rect x="564" y="537.2" width="5.8" height="5.8" fill="#646464"/>
<text x="587.2" y="544.1" font-size="11.35">37°C+DMSO</text>
<rect x="564" y="553.1" width="5.8" height="5.8" fill="#a6a6a9"/>
<text x="587.2" y="560" font-size="11.35">37°C+T0</text>
<rect x="564" y="568.6" width="5.8" height="5.8" fill="#2a00ff"/>
<text x="587.2" y="575.5" font-size="11.35">45°C+OA+DMSO</text>
<rect x="564" y="584.4" width="5.8" height="5.8" fill="#86a8d8"/>
<text x="587.2" y="591.3" font-size="11.35">45°C+OA+T0</text>
<text x="1.8" y="654.8" font-size="15" font-weight="bold">I</text>
<text x="23" y="706" font-size="14.5" text-anchor="middle" transform="rotate(-90 23 706)">DLD1</text>
<text x="41.5" y="706" font-size="15" text-anchor="middle" transform="rotate(-90 41.5 706)">(mmol/g prot)</text>
<line x1="85.2" y1="742.5" x2="223.3" y2="742.5" stroke="#000" stroke-width="2"/>
<line x1="121.3" y1="742.5" x2="121.3" y2="748" stroke="#000" stroke-width="1.4"/>
<line x1="188.6" y1="742.5" x2="188.6" y2="748" stroke="#000" stroke-width="1.4"/>
<rect x="90" y="722.3" width="14.6" height="19.2" fill="#646464"/>
<line x1="97.3" y1="722.3" x2="97.3" y2="721.04" stroke="#000" stroke-width="1.4"/>
<line x1="92.63" y1="721.04" x2="101.97" y2="721.04" stroke="#000" stroke-width="1.8"/>
<circle cx="92.92" cy="721.43" r="2" fill="#dededf" stroke="#858585" stroke-width="0.6"/>
<circle cx="97.3" cy="721.03" r="2" fill="#dededf" stroke="#858585" stroke-width="0.6"/>
<circle cx="101.68" cy="723.55" r="2" fill="#dededf" stroke="#858585" stroke-width="0.6"/>
<rect x="106" y="726.09" width="14.6" height="15.41" fill="#a6a6a9"/>
<line x1="113.3" y1="726.09" x2="113.3" y2="725.14" stroke="#000" stroke-width="1.4"/>
<line x1="108.63" y1="725.14" x2="117.97" y2="725.14" stroke="#000" stroke-width="1.8"/>
<circle cx="113.3" cy="727.46" r="2" fill="#dededf" stroke="#858585" stroke-width="0.6"/>
<circle cx="117.68" cy="725.15" r="2" fill="#dededf" stroke="#858585" stroke-width="0.6"/>
<circle cx="108.92" cy="725.53" r="2" fill="#dededf" stroke="#858585" stroke-width="0.6"/>
<rect x="122" y="705.26" width="14.6" height="36.24" fill="#2a00ff"/>
<line x1="129.3" y1="705.26" x2="129.3" y2="704.31" stroke="#000" stroke-width="1.4"/>
<line x1="124.63" y1="704.31" x2="133.97" y2="704.31" stroke="#000" stroke-width="1.8"/>
<circle cx="133.68" cy="705.1" r="2" fill="#dededf" stroke="#858585" stroke-width="0.6"/>
<circle cx="129.3" cy="703.85" r="2" fill="#dededf" stroke="#858585" stroke-width="0.6"/>
<circle cx="124.92" cy="705.58" r="2" fill="#dededf" stroke="#858585" stroke-width="0.6"/>
<rect x="138" y="718.51" width="14.6" height="22.99" fill="#86a8d8"/>
<line x1="145.3" y1="718.51" x2="145.3" y2="714.73" stroke="#000" stroke-width="1.4"/>
<line x1="140.63" y1="714.73" x2="149.97" y2="714.73" stroke="#000" stroke-width="1.8"/>
<circle cx="145.3" cy="720.21" r="2" fill="#dededf" stroke="#858585" stroke-width="0.6"/>
<circle cx="149.68" cy="721.18" r="2" fill="#dededf" stroke="#858585" stroke-width="0.6"/>
<circle cx="140.92" cy="718.99" r="2" fill="#dededf" stroke="#858585" stroke-width="0.6"/>
<text x="121.3" y="762.4" font-size="13" text-anchor="middle">FA</text>
<rect x="157.3" y="727.35" width="14.6" height="14.15" fill="#646464"/>
<line x1="164.6" y1="727.35" x2="164.6" y2="725.46" stroke="#000" stroke-width="1.4"/>
<line x1="159.93" y1="725.46" x2="169.27" y2="725.46" stroke="#000" stroke-width="1.8"/>
<circle cx="160.42" cy="726.74" r="2" fill="#dededf" stroke="#858585" stroke-width="0.6"/>
<circle cx="162.16" cy="733.1" r="2" fill="#dededf" stroke="#858585" stroke-width="0.6"/>
<circle cx="164.72" cy="728.83" r="2" fill="#dededf" stroke="#858585" stroke-width="0.6"/>
<circle cx="165.97" cy="730.5" r="2" fill="#dededf" stroke="#858585" stroke-width="0.6"/>
<circle cx="168.19" cy="729.11" r="2" fill="#dededf" stroke="#858585" stroke-width="0.6"/>
<rect x="173.3" y="727.35" width="14.6" height="14.15" fill="#a6a6a9"/>
<line x1="180.6" y1="727.35" x2="180.6" y2="725.46" stroke="#000" stroke-width="1.4"/>
<line x1="175.93" y1="725.46" x2="185.27" y2="725.46" stroke="#000" stroke-width="1.8"/>
<circle cx="176.95" cy="727.16" r="2" fill="#dededf" stroke="#858585" stroke-width="0.6"/>
<circle cx="178" cy="732.05" r="2" fill="#dededf" stroke="#858585" stroke-width="0.6"/>
<circle cx="180.94" cy="726.47" r="2" fill="#dededf" stroke="#858585" stroke-width="0.6"/>
<circle cx="181.61" cy="730.87" r="2" fill="#dededf" stroke="#858585" stroke-width="0.6"/>
<circle cx="184.33" cy="728.11" r="2" fill="#dededf" stroke="#858585" stroke-width="0.6"/>
<rect x="189.3" y="699.89" width="14.6" height="41.61" fill="#2a00ff"/>
<line x1="196.6" y1="699.89" x2="196.6" y2="698" stroke="#000" stroke-width="1.4"/>
<line x1="191.93" y1="698" x2="201.27" y2="698" stroke="#000" stroke-width="1.8"/>
<circle cx="192.66" cy="701.14" r="2" fill="#dededf" stroke="#858585" stroke-width="0.6"/>
<circle cx="193.98" cy="702.99" r="2" fill="#dededf" stroke="#858585" stroke-width="0.6"/>
<circle cx="196.81" cy="699.25" r="2" fill="#dededf" stroke="#858585" stroke-width="0.6"/>
<circle cx="198.35" cy="703.98" r="2" fill="#dededf" stroke="#858585" stroke-width="0.6"/>
<circle cx="200.14" cy="698.99" r="2" fill="#dededf" stroke="#858585" stroke-width="0.6"/>
<rect x="205.3" y="718.83" width="14.6" height="22.67" fill="#86a8d8"/>
<line x1="212.6" y1="718.83" x2="212.6" y2="716.93" stroke="#000" stroke-width="1.4"/>
<line x1="207.93" y1="716.93" x2="217.27" y2="716.93" stroke="#000" stroke-width="1.8"/>
<circle cx="208.72" cy="717.89" r="2" fill="#dededf" stroke="#858585" stroke-width="0.6"/>
<circle cx="210.58" cy="721.64" r="2" fill="#dededf" stroke="#858585" stroke-width="0.6"/>
<circle cx="212.24" cy="717.34" r="2" fill="#dededf" stroke="#858585" stroke-width="0.6"/>
<circle cx="213.9" cy="724.36" r="2" fill="#dededf" stroke="#858585" stroke-width="0.6"/>
<circle cx="216.7" cy="719.77" r="2" fill="#dededf" stroke="#858585" stroke-width="0.6"/>
<text x="188.6" y="762.4" font-size="13" text-anchor="middle">TG</text>
<line x1="86.2" y1="665.65" x2="86.2" y2="743.6" stroke="#000" stroke-width="2.2"/>
<line x1="80.6" y1="666.75" x2="86.2" y2="666.75" stroke="#000" stroke-width="1.4"/>
<text x="76.9" y="670.77" font-size="12" text-anchor="end">0.12</text>
<line x1="80.6" y1="692" x2="86.2" y2="692" stroke="#000" stroke-width="1.4"/>
<text x="76.9" y="696.02" font-size="12" text-anchor="end">0.08</text>
<line x1="80.6" y1="717.25" x2="86.2" y2="717.25" stroke="#000" stroke-width="1.4"/>
<text x="76.9" y="721.27" font-size="12" text-anchor="end">0.04</text>
<line x1="80.6" y1="742.5" x2="86.2" y2="742.5" stroke="#000" stroke-width="1.4"/>
<text x="76.9" y="746.52" font-size="12" text-anchor="end">0.00</text>
<path d="M97.5 662.5V659.5H145.75V662.5" stroke="#000" stroke-width="1.05" fill="none"/>
<text x="121.2" y="657.6" font-size="7.5" text-anchor="middle"><tspan font-style="italic">P</tspan> = 0.024</text>
<path d="M113.25 673.5V670.5H145.75V673.5" stroke="#000" stroke-width="1.05" fill="none"/>
<text x="129.7" y="667.8" font-size="7.5" text-anchor="middle"><tspan font-style="italic">P</tspan> = 0.001</text>
<path d="M130 684.25V681.25H145.75V684.25" stroke="#000" stroke-width="1.05" fill="none"/>
<text x="136.2" y="679.3" font-size="7.5" text-anchor="middle"><tspan font-style="italic">P</tspan> &lt; 0.001</text>
<path d="M97.5 696.75V693.75H129.5V696.75" stroke="#000" stroke-width="1.05" fill="none"/>
<text x="113.5" y="691.3" font-size="7.5" text-anchor="middle"><tspan font-style="italic">P</tspan> &lt; 0.001</text>
<path d="M114.25 702.25V699.25H129.5V702.25" stroke="#000" stroke-width="1.05" fill="none"/>
<path d="M163.5 666.5V663.5H212.2V666.5" stroke="#000" stroke-width="1.05" fill="none"/>
<text x="189.2" y="661.3" font-size="7.5" text-anchor="middle"><tspan font-style="italic">P</tspan> &lt; 0.001</text>
<path d="M179 672.5V669.5H212.2V672.5" stroke="#000" stroke-width="1.05" fill="none"/>
<path d="M196.4 678.3V675.3H212.2V678.3" stroke="#000" stroke-width="1.05" fill="none"/>
<path d="M163.5 689V686H196.4V689" stroke="#000" stroke-width="1.05" fill="none"/>
<text x="181.2" y="683.8" font-size="7.5" text-anchor="middle"><tspan font-style="italic">P</tspan> &lt; 0.001</text>
<path d="M181.3 695V692H196.4V695" stroke="#000" stroke-width="1.05" fill="none"/>
<rect x="226.5" y="661.9" width="6.2" height="6.2" fill="#646464"/>
<text x="250.4" y="669" font-size="11.3">37°C+DMSO</text>
<rect x="226.5" y="676.9" width="6.2" height="6.2" fill="#a6a6a9"/>
<text x="250.4" y="684" font-size="11.3">37°C+T0</text>
<rect x="226.5" y="692.9" width="6.2" height="6.2" fill="#2a00ff"/>
<text x="250.4" y="700" font-size="11.3">45°C+OA+DMSO</text>
<rect x="226.5" y="708.5" width="6.2" height="6.2" fill="#86a8d8"/>
<text x="250.4" y="715.6" font-size="11.3">45°C+OA+T0</text>
<text x="338.4" y="655.6" font-size="15" font-weight="bold">K</text>
<text x="361.5" y="717" font-size="15" text-anchor="middle" transform="rotate(-90 361.5 717)">LDs area/cell</text>
<text x="383.5" y="717.5" font-size="15" text-anchor="middle" transform="rotate(-90 383.5 717.5)">(×10<tspan font-size="9.5" dy="-5">2</tspan><tspan dy="5"> pixel)</tspan></text>
<line x1="411.4" y1="755.6" x2="492.6" y2="755.6" stroke="#000" stroke-width="2"/>
<line x1="424.8" y1="755.6" x2="424.8" y2="761.1" stroke="#000" stroke-width="1.4"/>
<line x1="443.4" y1="755.6" x2="443.4" y2="761.1" stroke="#000" stroke-width="1.4"/>
<line x1="462.8" y1="755.6" x2="462.8" y2="761.1" stroke="#000" stroke-width="1.4"/>
<line x1="481.3" y1="755.6" x2="481.3" y2="761.1" stroke="#000" stroke-width="1.4"/>
<rect x="417.3" y="753.53" width="16.2" height="1.07" fill="#646464"/>
<circle cx="419.7" cy="752" r="2.3" fill="#d4d4d6" stroke="#8a8a8a" stroke-width="0.6"/>
<circle cx="425.1" cy="750.3" r="2.3" fill="#d4d4d6" stroke="#8a8a8a" stroke-width="0.6"/>
<circle cx="430.7" cy="751" r="2.3" fill="#d4d4d6" stroke="#8a8a8a" stroke-width="0.6"/>
<rect x="435.9" y="752.81" width="16.2" height="1.79" fill="#a6a6a9"/>
<circle cx="438.7" cy="753.5" r="2.3" fill="#d4d4d6" stroke="#8a8a8a" stroke-width="0.6"/>
<circle cx="444.1" cy="749.9" r="2.3" fill="#d4d4d6" stroke="#8a8a8a" stroke-width="0.6"/>
<circle cx="449.6" cy="750.3" r="2.3" fill="#d4d4d6" stroke="#8a8a8a" stroke-width="0.6"/>
<rect x="454.9" y="709.27" width="16.2" height="45.33" fill="#2a00ff"/>
<line x1="463" y1="709.27" x2="463" y2="699.97" stroke="#000" stroke-width="1.4"/>
<line x1="459" y1="699.97" x2="467" y2="699.97" stroke="#000" stroke-width="1.8"/>
<circle cx="462.8" cy="701.7" r="2.3" fill="#d4d4d6" stroke="#8a8a8a" stroke-width="0.6"/>
<circle cx="462.8" cy="707.2" r="2.3" fill="#d4d4d6" stroke="#8a8a8a" stroke-width="0.6"/>
<circle cx="462.8" cy="719.2" r="2.3" fill="#d4d4d6" stroke="#8a8a8a" stroke-width="0.6"/>
<rect x="474" y="752.81" width="16.2" height="1.79" fill="#86a8d8"/>
<circle cx="476.2" cy="750.6" r="2.3" fill="#d4d4d6" stroke="#8a8a8a" stroke-width="0.6"/>
<circle cx="481.8" cy="749.6" r="2.3" fill="#d4d4d6" stroke="#8a8a8a" stroke-width="0.6"/>
<circle cx="487.3" cy="749.6" r="2.3" fill="#d4d4d6" stroke="#8a8a8a" stroke-width="0.6"/>
<line x1="412.4" y1="674.9" x2="412.4" y2="756.7" stroke="#000" stroke-width="2.2"/>
<line x1="406.8" y1="676" x2="412.4" y2="676" stroke="#000" stroke-width="1.4"/>
<text x="405.8" y="680.02" font-size="12" text-anchor="end">100</text>
<line x1="406.8" y1="695.9" x2="412.4" y2="695.9" stroke="#000" stroke-width="1.4"/>
<text x="405.8" y="699.92" font-size="12" text-anchor="end">75</text>
<line x1="406.8" y1="715.8" x2="412.4" y2="715.8" stroke="#000" stroke-width="1.4"/>
<text x="405.8" y="719.82" font-size="12" text-anchor="end">50</text>
<line x1="406.8" y1="735.7" x2="412.4" y2="735.7" stroke="#000" stroke-width="1.4"/>
<text x="405.8" y="739.72" font-size="12" text-anchor="end">25</text>
<line x1="406.8" y1="755.6" x2="412.4" y2="755.6" stroke="#000" stroke-width="1.4"/>
<text x="405.8" y="759.62" font-size="12" text-anchor="end">0</text>
<path d="M425.7 668V665H463.1V668" stroke="#000" stroke-width="1.3" fill="none"/>
<text x="444.4" y="662.7" font-size="8.75" text-anchor="middle"><tspan font-style="italic">P</tspan> = 0.043</text>
<path d="M443.7 682.7V679.7H463.1V682.7" stroke="#000" stroke-width="1.3" fill="none"/>
<text x="454.2" y="676.9" font-size="8.75" text-anchor="middle"><tspan font-style="italic">P</tspan> = 0.037</text>
<path d="M462.6 696.3V693.3H481.7V696.3" stroke="#000" stroke-width="1.3" fill="none"/>
<text x="472.2" y="690.8" font-size="8.75" text-anchor="middle"><tspan font-style="italic">P</tspan> = 0.046</text>
<text x="428.6" y="769" font-size="14.1" text-anchor="end" transform="rotate(-45 428.6 769)">37°C+DMSO</text>
<text x="447.2" y="769" font-size="14.1" text-anchor="end" transform="rotate(-45 447.2 769)">37°C+T0</text>
<text x="466.6" y="769" font-size="14.1" text-anchor="end" transform="rotate(-45 466.6 769)">45°C+OA+DMSO</text>
<text x="485.1" y="769" font-size="14.1" text-anchor="end" transform="rotate(-45 485.1 769)">45°C+OA+T0</text>
<text x="1.8" y="770.2" font-size="15" font-weight="bold">J</text>
<text x="46.6" y="779.6" font-size="9.9" text-anchor="middle">37<tspan font-size="5.94" dy="-3.56">o</tspan><tspan dy="3.56">C+DMSO</tspan></text>
<text x="130.2" y="779.6" font-size="9.9" text-anchor="middle">37<tspan font-size="5.94" dy="-3.56">o</tspan><tspan dy="3.56">C+T0</tspan></text>
<text x="213.8" y="779.6" font-size="9.9" text-anchor="middle">45<tspan font-size="5.94" dy="-3.56">o</tspan><tspan dy="3.56">C+DMSO</tspan></text>
<text x="298" y="779.6" font-size="9.9" text-anchor="middle">45<tspan font-size="5.94" dy="-3.56">o</tspan><tspan dy="3.56">C+T0</tspan></text>
<svg x="8.2" y="786.7" width="78.9" height="50.3">
<rect x="0" y="0" width="78.9" height="50.3" fill="#000"/>
<g filter="url(#gn)">
<ellipse cx="38.27" cy="25.5" rx="28.82" ry="19.01" fill="#246e24" opacity="0.75"/>
<ellipse cx="14.35" cy="9.56" rx="8.46" ry="7.6" fill="#36a036" transform="rotate(20 14.35 9.56)" opacity="0.5"/>
<ellipse cx="26.62" cy="14.47" rx="9.07" ry="8.46" fill="#36a036" transform="rotate(0 26.62 14.47)" opacity="0.5"/>
<ellipse cx="37.04" cy="5.27" rx="8.46" ry="7.6" fill="#36a036" transform="rotate(0 37.04 5.27)" opacity="0.5"/>
<ellipse cx="46.24" cy="10.79" rx="9.69" ry="8.09" fill="#36a036" transform="rotate(-40 46.24 10.79)" opacity="0.5"/>
<ellipse cx="39.49" cy="21.21" rx="9.69" ry="7.6" fill="#36a036" transform="rotate(0 39.49 21.21)" opacity="0.5"/>
<ellipse cx="25.76" cy="29.43" rx="9.69" ry="8.09" fill="#36a036" transform="rotate(0 25.76 29.43)" opacity="0.5"/>
<ellipse cx="45.01" cy="30.41" rx="9.32" ry="7.6" fill="#36a036" transform="rotate(0 45.01 30.41)" opacity="0.5"/>
<ellipse cx="57.89" cy="20.6" rx="6.87" ry="9.69" fill="#36a036" transform="rotate(20 57.89 20.6)" opacity="0.5"/>
<ellipse cx="71.37" cy="22.44" rx="9.69" ry="7.23" fill="#36a036" transform="rotate(-20 71.37 22.44)" opacity="0.5"/>
<ellipse cx="72.6" cy="32.86" rx="8.83" ry="7.6" fill="#36a036" transform="rotate(0 72.6 32.86)" opacity="0.5"/>
<ellipse cx="56.9" cy="38.38" rx="8.46" ry="8.09" fill="#36a036" transform="rotate(0 56.9 38.38)" opacity="0.5"/>
<ellipse cx="40.72" cy="43.28" rx="7.85" ry="8.83" fill="#36a036" transform="rotate(-15 40.72 43.28)" opacity="0.5"/>
<ellipse cx="22.94" cy="43.65" rx="9.07" ry="8.46" fill="#36a036" transform="rotate(0 22.94 43.65)" opacity="0.5"/>
<ellipse cx="3.32" cy="30.41" rx="7.23" ry="9.07" fill="#36a036" transform="rotate(0 3.32 30.41)" opacity="0.5"/>
<ellipse cx="5.16" cy="27.96" rx="8.58" ry="9.81" fill="#36a036" opacity="0.5"/>
<ellipse cx="66.47" cy="13.24" rx="7.36" ry="4.9" fill="#36a036" opacity="0.5"/>
</g>
<ellipse cx="14.35" cy="9.56" rx="6.29" ry="5.31" fill="#2012e8" transform="rotate(20 14.35 9.56)" opacity="1" filter="url(#g1)"/>
<ellipse cx="16.7" cy="9.53" rx="1.89" ry="1.17" fill="#0a0878" transform="rotate(59.26 16.7 9.53)" opacity="0.42" filter="url(#g1)"/>
<ellipse cx="15.28" cy="11.39" rx="1.89" ry="1.17" fill="#0a0878" transform="rotate(134.34 15.28 11.39)" opacity="0.42" filter="url(#g1)"/>
<ellipse cx="15.99" cy="9.84" rx="1.89" ry="1.17" fill="#0a0878" transform="rotate(68.15 15.99 9.84)" opacity="0.42" filter="url(#g1)"/>
<ellipse cx="26.62" cy="14.47" rx="6.99" ry="6.29" fill="#2012e8" transform="rotate(0 26.62 14.47)" opacity="1" filter="url(#g1)"/>
<ellipse cx="25.97" cy="15.06" rx="2.1" ry="1.38" fill="#0a0878" transform="rotate(30.47 25.97 15.06)" opacity="0.42" filter="url(#g1)"/>
<ellipse cx="27.4" cy="14.48" rx="2.1" ry="1.38" fill="#0a0878" transform="rotate(63.26 27.4 14.48)" opacity="0.42" filter="url(#g1)"/>
<ellipse cx="26.95" cy="14.38" rx="2.1" ry="1.38" fill="#0a0878" transform="rotate(173.57 26.95 14.38)" opacity="0.42" filter="url(#g1)"/>
<ellipse cx="37.04" cy="5.27" rx="6.29" ry="5.31" fill="#2012e8" transform="rotate(0 37.04 5.27)" opacity="1" filter="url(#g1)"/>
<ellipse cx="37.28" cy="6" rx="1.89" ry="1.17" fill="#0a0878" transform="rotate(147.88 37.28 6)" opacity="0.42" filter="url(#g1)"/>
<ellipse cx="37.51" cy="4.44" rx="1.89" ry="1.17" fill="#0a0878" transform="rotate(8.87 37.51 4.44)" opacity="0.42" filter="url(#g1)"/>
<ellipse cx="36.12" cy="5.4" rx="1.89" ry="1.17" fill="#0a0878" transform="rotate(165.51 36.12 5.4)" opacity="0.42" filter="url(#g1)"/>
<ellipse cx="46.24" cy="10.79" rx="7.69" ry="5.87" fill="#2012e8" transform="rotate(-40 46.24 10.79)" opacity="1" filter="url(#g1)"/>
<ellipse cx="46.63" cy="11.59" rx="2.31" ry="1.29" fill="#0a0878" transform="rotate(161.46 46.63 11.59)" opacity="0.42" filter="url(#g1)"/>
<ellipse cx="47.48" cy="10.97" rx="2.31" ry="1.29" fill="#0a0878" transform="rotate(146.13 47.48 10.97)" opacity="0.42" filter="url(#g1)"/>
<ellipse cx="46.25" cy="10.69" rx="2.31" ry="1.29" fill="#0a0878" transform="rotate(6.27 46.25 10.69)" opacity="0.42" filter="url(#g1)"/>
<ellipse cx="39.49" cy="21.21" rx="7.69" ry="5.31" fill="#2012e8" transform="rotate(0 39.49 21.21)" opacity="1" filter="url(#g1)"/>
<ellipse cx="42.11" cy="21.96" rx="2.31" ry="1.17" fill="#0a0878" transform="rotate(46.26 42.11 21.96)" opacity="0.42" filter="url(#g1)"/>
<ellipse cx="39.44" cy="19.3" rx="2.31" ry="1.17" fill="#0a0878" transform="rotate(61.03 39.44 19.3)" opacity="0.42" filter="url(#g1)"/>
<ellipse cx="39.08" cy="23.23" rx="2.31" ry="1.17" fill="#0a0878" transform="rotate(111.06 39.08 23.23)" opacity="0.42" filter="url(#g1)"/>
<ellipse cx="25.76" cy="29.43" rx="7.69" ry="5.87" fill="#2012e8" transform="rotate(0 25.76 29.43)" opacity="1" filter="url(#g1)"/>
<ellipse cx="25.59" cy="31.11" rx="2.31" ry="1.29" fill="#0a0878" transform="rotate(56.97 25.59 31.11)" opacity="0.42" filter="url(#g1)"/>
<ellipse cx="25.76" cy="29.44" rx="2.31" ry="1.29" fill="#0a0878" transform="rotate(136.02 25.76 29.44)" opacity="0.42" filter="url(#g1)"/>
<ellipse cx="27.44" cy="28.68" rx="2.31" ry="1.29" fill="#0a0878" transform="rotate(169.79 27.44 28.68)" opacity="0.42" filter="url(#g1)"/>
<ellipse cx="45.01" cy="30.41" rx="7.27" ry="5.31" fill="#2012e8" transform="rotate(0 45.01 30.41)" opacity="1" filter="url(#g1)"/>
<ellipse cx="45.68" cy="30.48" rx="2.18" ry="1.17" fill="#0a0878" transform="rotate(85.53 45.68 30.48)" opacity="0.42" filter="url(#g1)"/>
<ellipse cx="47.68" cy="29.86" rx="2.18" ry="1.17" fill="#0a0878" transform="rotate(69.57 47.68 29.86)" opacity="0.42" filter="url(#g1)"/>
<ellipse cx="45" cy="31.32" rx="2.18" ry="1.17" fill="#0a0878" transform="rotate(88.83 45 31.32)" opacity="0.42" filter="url(#g1)"/>
<ellipse cx="57.89" cy="20.6" rx="4.47" ry="7.69" fill="#2012e8" transform="rotate(20 57.89 20.6)" opacity="1" filter="url(#g1)"/>
<ellipse cx="58.18" cy="20.35" rx="1.34" ry="1.69" fill="#0a0878" transform="rotate(144.46 58.18 20.35)" opacity="0.42" filter="url(#g1)"/>
<ellipse cx="57.78" cy="18.08" rx="1.34" ry="1.69" fill="#0a0878" transform="rotate(139.11 57.78 18.08)" opacity="0.42" filter="url(#g1)"/>
<ellipse cx="57.43" cy="19.97" rx="1.34" ry="1.69" fill="#0a0878" transform="rotate(57.52 57.43 19.97)" opacity="0.42" filter="url(#g1)"/>
<ellipse cx="71.37" cy="22.44" rx="7.69" ry="4.89" fill="#2012e8" transform="rotate(-20 71.37 22.44)" opacity="1" filter="url(#g1)"/>
<ellipse cx="69.82" cy="23.61" rx="2.31" ry="1.08" fill="#0a0878" transform="rotate(14.22 69.82 23.61)" opacity="0.42" filter="url(#g1)"/>
<ellipse cx="72.13" cy="23.83" rx="2.31" ry="1.08" fill="#0a0878" transform="rotate(44.52 72.13 23.83)" opacity="0.42" filter="url(#g1)"/>
<ellipse cx="71.47" cy="22.46" rx="2.31" ry="1.08" fill="#0a0878" transform="rotate(99.47 71.47 22.46)" opacity="0.42" filter="url(#g1)"/>
<ellipse cx="72.6" cy="32.86" rx="6.71" ry="5.31" fill="#2012e8" transform="rotate(0 72.6 32.86)" opacity="1" filter="url(#g1)"/>
<ellipse cx="71.4" cy="34.71" rx="2.01" ry="1.17" fill="#0a0878" transform="rotate(159.03 71.4 34.71)" opacity="0.42" filter="url(#g1)"/>
<ellipse cx="73.31" cy="32.82" rx="2.01" ry="1.17" fill="#0a0878" transform="rotate(15.13 73.31 32.82)" opacity="0.42" filter="url(#g1)"/>
<ellipse cx="73.7" cy="33.46" rx="2.01" ry="1.17" fill="#0a0878" transform="rotate(127.76 73.7 33.46)" opacity="0.42" filter="url(#g1)"/>
<ellipse cx="56.9" cy="38.38" rx="6.29" ry="5.87" fill="#2012e8" transform="rotate(0 56.9 38.38)" opacity="1" filter="url(#g1)"/>
<ellipse cx="56.35" cy="38.56" rx="1.89" ry="1.29" fill="#0a0878" transform="rotate(75.03 56.35 38.56)" opacity="0.42" filter="url(#g1)"/>
<ellipse cx="55.67" cy="37.3" rx="1.89" ry="1.29" fill="#0a0878" transform="rotate(134.64 55.67 37.3)" opacity="0.42" filter="url(#g1)"/>
<ellipse cx="57.86" cy="37.1" rx="1.89" ry="1.29" fill="#0a0878" transform="rotate(21.81 57.86 37.1)" opacity="0.42" filter="url(#g1)"/>
<ellipse cx="40.72" cy="43.28" rx="5.59" ry="6.71" fill="#2012e8" transform="rotate(-15 40.72 43.28)" opacity="1" filter="url(#g1)"/>
<ellipse cx="41.07" cy="42.62" rx="1.68" ry="1.48" fill="#0a0878" transform="rotate(102.04 41.07 42.62)" opacity="0.42" filter="url(#g1)"/>
<ellipse cx="39.57" cy="44.7" rx="1.68" ry="1.48" fill="#0a0878" transform="rotate(35.85 39.57 44.7)" opacity="0.42" filter="url(#g1)"/>
<ellipse cx="40.73" cy="43.94" rx="1.68" ry="1.48" fill="#0a0878" transform="rotate(27.6 40.73 43.94)" opacity="0.42" filter="url(#g1)"/>
<ellipse cx="22.94" cy="43.65" rx="6.99" ry="6.29" fill="#2012e8" transform="rotate(0 22.94 43.65)" opacity="1" filter="url(#g1)"/>
<ellipse cx="24.14" cy="42.68" rx="2.1" ry="1.38" fill="#0a0878" transform="rotate(58.74 24.14 42.68)" opacity="0.42" filter="url(#g1)"/>
<ellipse cx="20.74" cy="45.17" rx="2.1" ry="1.38" fill="#0a0878" transform="rotate(91.32 20.74 45.17)" opacity="0.42" filter="url(#g1)"/>
<ellipse cx="23.2" cy="45.67" rx="2.1" ry="1.38" fill="#0a0878" transform="rotate(117.6 23.2 45.67)" opacity="0.42" filter="url(#g1)"/>
<ellipse cx="3.32" cy="30.41" rx="4.89" ry="6.99" fill="#2012e8" transform="rotate(0 3.32 30.41)" opacity="1" filter="url(#g1)"/>
<ellipse cx="3.52" cy="30.39" rx="1.47" ry="1.54" fill="#0a0878" transform="rotate(85.46 3.52 30.39)" opacity="0.42" filter="url(#g1)"/>
<ellipse cx="4.01" cy="28.27" rx="1.47" ry="1.54" fill="#0a0878" transform="rotate(164.59 4.01 28.27)" opacity="0.42" filter="url(#g1)"/>
<ellipse cx="3.87" cy="30.61" rx="1.47" ry="1.54" fill="#0a0878" transform="rotate(21.46 3.87 30.61)" opacity="0.42" filter="url(#g1)"/>
<ellipse cx="10.06" cy="0.49" rx="5.59" ry="1.12" fill="#2012e8" transform="rotate(0 10.06 0.49)" opacity="1" filter="url(#g1)"/>
<ellipse cx="10.87" cy="0.89" rx="1.68" ry="0.25" fill="#0a0878" transform="rotate(104.97 10.87 0.89)" opacity="0.42" filter="url(#g1)"/>
<ellipse cx="10.82" cy="0.42" rx="1.68" ry="0.25" fill="#0a0878" transform="rotate(155.9 10.82 0.42)" opacity="0.42" filter="url(#g1)"/>
<ellipse cx="9.51" cy="0.52" rx="1.68" ry="0.25" fill="#0a0878" transform="rotate(140 9.51 0.52)" opacity="0.42" filter="url(#g1)"/>
<line x1="53.6" y1="48.4" x2="76.9" y2="48.4" stroke="#c8c8c8" stroke-width="0.7"/>
<text x="64" y="46.5" font-size="5.3" text-anchor="middle" font-weight="bold" fill="#fff">25 μm</text>
</svg>
<svg x="91.2" y="786.7" width="78.9" height="50.3">
<rect x="0" y="0" width="78.9" height="50.3" fill="#000"/>
<g filter="url(#gn)">
<ellipse cx="45.01" cy="26.12" rx="22.32" ry="24.16" fill="#2f962f" opacity="0.8"/>
<ellipse cx="33.36" cy="42.67" rx="9.81" ry="7.36" fill="#2f962f" opacity="0.7"/>
</g>
<ellipse cx="32.75" cy="12.01" rx="7.27" ry="6.99" fill="#2012e8" transform="rotate(-30 32.75 12.01)" opacity="1" filter="url(#g1)"/>
<ellipse cx="33.04" cy="11.92" rx="2.18" ry="1.54" fill="#0a0878" transform="rotate(107.31 33.04 11.92)" opacity="0.42" filter="url(#g1)"/>
<ellipse cx="32.29" cy="11.6" rx="2.18" ry="1.54" fill="#0a0878" transform="rotate(66.37 32.29 11.6)" opacity="0.42" filter="url(#g1)"/>
<ellipse cx="33.12" cy="12.46" rx="2.18" ry="1.54" fill="#0a0878" transform="rotate(45.88 33.12 12.46)" opacity="0.42" filter="url(#g1)"/>
<ellipse cx="47.83" cy="8.95" rx="6.99" ry="6.29" fill="#2012e8" transform="rotate(20 47.83 8.95)" opacity="1" filter="url(#g1)"/>
<ellipse cx="46.35" cy="7.99" rx="2.1" ry="1.38" fill="#0a0878" transform="rotate(36.62 46.35 7.99)" opacity="0.42" filter="url(#g1)"/>
<ellipse cx="48.74" cy="9.01" rx="2.1" ry="1.38" fill="#0a0878" transform="rotate(122.1 48.74 9.01)" opacity="0.42" filter="url(#g1)"/>
<ellipse cx="48.18" cy="9.67" rx="2.1" ry="1.38" fill="#0a0878" transform="rotate(36.61 48.18 9.67)" opacity="0.42" filter="url(#g1)"/>
<ellipse cx="56.41" cy="16.31" rx="7.27" ry="5.31" fill="#2012e8" transform="rotate(25 56.41 16.31)" opacity="1" filter="url(#g1)"/>
<ellipse cx="56.86" cy="15.19" rx="2.18" ry="1.17" fill="#0a0878" transform="rotate(11.39 56.86 15.19)" opacity="0.42" filter="url(#g1)"/>
<ellipse cx="57.34" cy="16.81" rx="2.18" ry="1.17" fill="#0a0878" transform="rotate(99.02 57.34 16.81)" opacity="0.42" filter="url(#g1)"/>
<ellipse cx="56.24" cy="16.16" rx="2.18" ry="1.17" fill="#0a0878" transform="rotate(29.46 56.24 16.16)" opacity="0.42" filter="url(#g1)"/>
<ellipse cx="30.66" cy="24.03" rx="7.27" ry="5.59" fill="#2012e8" transform="rotate(25 30.66 24.03)" opacity="1" filter="url(#g1)"/>
<ellipse cx="30.26" cy="23.17" rx="2.18" ry="1.23" fill="#0a0878" transform="rotate(50.99 30.26 23.17)" opacity="0.42" filter="url(#g1)"/>
<ellipse cx="29.68" cy="26.03" rx="2.18" ry="1.23" fill="#0a0878" transform="rotate(56.23 29.68 26.03)" opacity="0.42" filter="url(#g1)"/>
<ellipse cx="29.71" cy="23.71" rx="2.18" ry="1.23" fill="#0a0878" transform="rotate(74.96 29.71 23.71)" opacity="0.42" filter="url(#g1)"/>
<ellipse cx="56.05" cy="31.02" rx="8.39" ry="5.59" fill="#2012e8" transform="rotate(15 56.05 31.02)" opacity="1" filter="url(#g1)"/>
<ellipse cx="58.24" cy="29.34" rx="2.52" ry="1.23" fill="#0a0878" transform="rotate(65.48 58.24 29.34)" opacity="0.42" filter="url(#g1)"/>
<ellipse cx="56.84" cy="32.56" rx="2.52" ry="1.23" fill="#0a0878" transform="rotate(36.66 56.84 32.56)" opacity="0.42" filter="url(#g1)"/>
<ellipse cx="59.07" cy="31.1" rx="2.52" ry="1.23" fill="#0a0878" transform="rotate(76.28 59.07 31.1)" opacity="0.42" filter="url(#g1)"/>
<ellipse cx="41.33" cy="35.07" rx="5.31" ry="6.99" fill="#2012e8" transform="rotate(10 41.33 35.07)" opacity="1" filter="url(#g1)"/>
<ellipse cx="41.7" cy="34.04" rx="1.59" ry="1.54" fill="#0a0878" transform="rotate(158.91 41.7 34.04)" opacity="0.42" filter="url(#g1)"/>
<ellipse cx="41" cy="35.18" rx="1.59" ry="1.54" fill="#0a0878" transform="rotate(2.67 41 35.18)" opacity="0.42" filter="url(#g1)"/>
<ellipse cx="40.04" cy="34.5" rx="1.59" ry="1.54" fill="#0a0878" transform="rotate(163.76 40.04 34.5)" opacity="0.42" filter="url(#g1)"/>
<ellipse cx="30.3" cy="38.99" rx="3.49" ry="4.19" fill="#2012e8" transform="rotate(0 30.3 38.99)" opacity="1" filter="url(#g1)"/>
<ellipse cx="31.03" cy="39.55" rx="1.05" ry="0.92" fill="#0a0878" transform="rotate(66.75 31.03 39.55)" opacity="0.42" filter="url(#g1)"/>
<ellipse cx="30.09" cy="38.99" rx="1.05" ry="0.92" fill="#0a0878" transform="rotate(50.99 30.09 38.99)" opacity="0.42" filter="url(#g1)"/>
<ellipse cx="29.01" cy="38.79" rx="1.05" ry="0.92" fill="#0a0878" transform="rotate(19.58 29.01 38.79)" opacity="0.42" filter="url(#g1)"/>
<ellipse cx="55.43" cy="43.65" rx="7.27" ry="5.59" fill="#2012e8" transform="rotate(-10 55.43 43.65)" opacity="1" filter="url(#g1)"/>
<ellipse cx="53.1" cy="43.76" rx="2.18" ry="1.23" fill="#0a0878" transform="rotate(174.04 53.1 43.76)" opacity="0.42" filter="url(#g1)"/>
<ellipse cx="55.55" cy="43.92" rx="2.18" ry="1.23" fill="#0a0878" transform="rotate(169.75 55.55 43.92)" opacity="0.42" filter="url(#g1)"/>
<ellipse cx="56.82" cy="43.48" rx="2.18" ry="1.23" fill="#0a0878" transform="rotate(9.61 56.82 43.48)" opacity="0.42" filter="url(#g1)"/>
<ellipse cx="40.11" cy="16.92" rx="2.52" ry="3.08" fill="#2012e8" transform="rotate(0 40.11 16.92)" opacity="1" filter="url(#g1)"/>
<ellipse cx="40.45" cy="16.71" rx="0.75" ry="0.68" fill="#0a0878" transform="rotate(162.76 40.45 16.71)" opacity="0.42" filter="url(#g1)"/>
<ellipse cx="39.5" cy="16.23" rx="0.75" ry="0.68" fill="#0a0878" transform="rotate(28.85 39.5 16.23)" opacity="0.42" filter="url(#g1)"/>
<ellipse cx="40.15" cy="16.65" rx="0.75" ry="0.68" fill="#0a0878" transform="rotate(72.81 40.15 16.65)" opacity="0.42" filter="url(#g1)"/>
<line x1="55.4" y1="48.2" x2="76.9" y2="48.2" stroke="#c8c8c8" stroke-width="0.7"/>
<text x="66.2" y="46.3" font-size="5.6" text-anchor="middle" font-weight="bold" fill="#fff">25 μm</text>
</svg>
<svg x="174.2" y="786.7" width="78.9" height="50.3">
<rect x="0" y="0" width="78.9" height="50.3" fill="#000"/>
<g filter="url(#gn)">
<ellipse cx="11.9" cy="10.18" rx="7.6" ry="6.74" fill="#44cc44" transform="rotate(0 11.9 10.18)" opacity="0.84"/>
<ellipse cx="15.58" cy="27.96" rx="6.74" ry="5.89" fill="#44cc44" transform="rotate(0 15.58 27.96)" opacity="0.84"/>
<ellipse cx="16.19" cy="39.61" rx="7.6" ry="6.74" fill="#44cc44" transform="rotate(0 16.19 39.61)" opacity="0.84"/>
<ellipse cx="34.59" cy="4.66" rx="5.89" ry="5.15" fill="#44cc44" transform="rotate(0 34.59 4.66)" opacity="0.54"/>
<ellipse cx="46.24" cy="3.43" rx="4.9" ry="5.15" fill="#44cc44" transform="rotate(0 46.24 3.43)" opacity="0.66"/>
<ellipse cx="49.92" cy="15.08" rx="6.38" ry="5.15" fill="#44cc44" transform="rotate(0 49.92 15.08)" opacity="0.72"/>
<ellipse cx="30.3" cy="19.99" rx="5.52" ry="5.15" fill="#44cc44" transform="rotate(0 30.3 19.99)" opacity="0.72"/>
<ellipse cx="47.46" cy="23.05" rx="5.52" ry="5.15" fill="#44cc44" transform="rotate(0 47.46 23.05)" opacity="0.66"/>
<ellipse cx="37.04" cy="28.57" rx="5.52" ry="5.15" fill="#44cc44" transform="rotate(0 37.04 28.57)" opacity="0.72"/>
<ellipse cx="57.89" cy="32.25" rx="8.34" ry="7.11" fill="#44cc44" transform="rotate(25 57.89 32.25)" opacity="1"/>
<ellipse cx="61.56" cy="43.28" rx="7.11" ry="6.13" fill="#44cc44" transform="rotate(0 61.56 43.28)" opacity="1"/>
<ellipse cx="71.37" cy="1.59" rx="6.74" ry="2.45" fill="#44cc44" transform="rotate(0 71.37 1.59)" opacity="0.48"/>
<ellipse cx="0.25" cy="38.99" rx="1.72" ry="3.68" fill="#44cc44" transform="rotate(0 0.25 38.99)" opacity="0.6"/>
<ellipse cx="39.49" cy="18.15" rx="7.36" ry="5.52" fill="#44cc44" transform="rotate(0 39.49 18.15)" opacity="0.54"/>
</g>
<ellipse cx="12.27" cy="7.72" rx="6.29" ry="3.91" fill="#2012e8" transform="rotate(10 12.27 7.72)" opacity="1" filter="url(#g1)"/>
<ellipse cx="13.45" cy="6.65" rx="1.89" ry="0.86" fill="#0a0878" transform="rotate(32.93 13.45 6.65)" opacity="0.42" filter="url(#g1)"/>
<ellipse cx="12.47" cy="8.34" rx="1.89" ry="0.86" fill="#0a0878" transform="rotate(93.22 12.47 8.34)" opacity="0.42" filter="url(#g1)"/>
<ellipse cx="12.04" cy="7.85" rx="1.89" ry="0.86" fill="#0a0878" transform="rotate(44.47 12.04 7.85)" opacity="0.42" filter="url(#g1)"/>
<ellipse cx="15.95" cy="27.34" rx="5.87" ry="3.77" fill="#2012e8" transform="rotate(0 15.95 27.34)" opacity="1" filter="url(#g1)"/>
<ellipse cx="15.61" cy="26.01" rx="1.76" ry="0.83" fill="#0a0878" transform="rotate(7.4 15.61 26.01)" opacity="0.42" filter="url(#g1)"/>
<ellipse cx="14.3" cy="26.91" rx="1.76" ry="0.83" fill="#0a0878" transform="rotate(6.86 14.3 26.91)" opacity="0.42" filter="url(#g1)"/>
<ellipse cx="16.09" cy="27.19" rx="1.76" ry="0.83" fill="#0a0878" transform="rotate(107.91 16.09 27.19)" opacity="0.42" filter="url(#g1)"/>
<ellipse cx="16.44" cy="39.61" rx="5.87" ry="3.77" fill="#2012e8" transform="rotate(0 16.44 39.61)" opacity="1" filter="url(#g1)"/>
<ellipse cx="15.04" cy="39.31" rx="1.76" ry="0.83" fill="#0a0878" transform="rotate(55.12 15.04 39.31)" opacity="0.42" filter="url(#g1)"/>
<ellipse cx="15.24" cy="40.03" rx="1.76" ry="0.83" fill="#0a0878" transform="rotate(76.63 15.24 40.03)" opacity="0.42" filter="url(#g1)"/>
<ellipse cx="15.87" cy="39.04" rx="1.76" ry="0.83" fill="#0a0878" transform="rotate(78.9 15.87 39.04)" opacity="0.42" filter="url(#g1)"/>
<ellipse cx="33.61" cy="4.41" rx="2.8" ry="3.08" fill="#2012e8" transform="rotate(0 33.61 4.41)" opacity="1" filter="url(#g1)"/>
<ellipse cx="34.29" cy="4.52" rx="0.84" ry="0.68" fill="#0a0878" transform="rotate(88.11 34.29 4.52)" opacity="0.42" filter="url(#g1)"/>
<ellipse cx="33.69" cy="5.35" rx="0.84" ry="0.68" fill="#0a0878" transform="rotate(140.4 33.69 5.35)" opacity="0.42" filter="url(#g1)"/>
<ellipse cx="33.41" cy="4.47" rx="0.84" ry="0.68" fill="#0a0878" transform="rotate(85.18 33.41 4.47)" opacity="0.42" filter="url(#g1)"/>
<ellipse cx="46.6" cy="2.82" rx="2.52" ry="3.49" fill="#2012e8" transform="rotate(0 46.6 2.82)" opacity="1" filter="url(#g1)"/>
<ellipse cx="46.71" cy="2.93" rx="0.75" ry="0.77" fill="#0a0878" transform="rotate(77.51 46.71 2.93)" opacity="0.42" filter="url(#g1)"/>
<ellipse cx="46.98" cy="3.15" rx="0.75" ry="0.77" fill="#0a0878" transform="rotate(91.83 46.98 3.15)" opacity="0.42" filter="url(#g1)"/>
<ellipse cx="47.22" cy="3.04" rx="0.75" ry="0.77" fill="#0a0878" transform="rotate(14.8 47.22 3.04)" opacity="0.42" filter="url(#g1)"/>
<ellipse cx="49.92" cy="14.47" rx="5.59" ry="3.91" fill="#2012e8" transform="rotate(0 49.92 14.47)" opacity="1" filter="url(#g1)"/>
<ellipse cx="49.73" cy="13.26" rx="1.68" ry="0.86" fill="#0a0878" transform="rotate(92.07 49.73 13.26)" opacity="0.42" filter="url(#g1)"/>
<ellipse cx="50.98" cy="14.73" rx="1.68" ry="0.86" fill="#0a0878" transform="rotate(68.02 50.98 14.73)" opacity="0.42" filter="url(#g1)"/>
<ellipse cx="50.21" cy="14.4" rx="1.68" ry="0.86" fill="#0a0878" transform="rotate(154.27 50.21 14.4)" opacity="0.42" filter="url(#g1)"/>
<ellipse cx="29.93" cy="19.99" rx="3.91" ry="3.49" fill="#2012e8" transform="rotate(0 29.93 19.99)" opacity="1" filter="url(#g1)"/>
<ellipse cx="31.07" cy="19.96" rx="1.17" ry="0.77" fill="#0a0878" transform="rotate(146.7 31.07 19.96)" opacity="0.42" filter="url(#g1)"/>
<ellipse cx="30.46" cy="21.27" rx="1.17" ry="0.77" fill="#0a0878" transform="rotate(88.54 30.46 21.27)" opacity="0.42" filter="url(#g1)"/>
<ellipse cx="31.31" cy="19.64" rx="1.17" ry="0.77" fill="#0a0878" transform="rotate(29.72 31.31 19.64)" opacity="0.42" filter="url(#g1)"/>
<ellipse cx="47.71" cy="23.05" rx="4.89" ry="4.47" fill="#2012e8" transform="rotate(0 47.71 23.05)" opacity="1" filter="url(#g1)"/>
<ellipse cx="48.14" cy="21.43" rx="1.47" ry="0.98" fill="#0a0878" transform="rotate(11.79 48.14 21.43)" opacity="0.42" filter="url(#g1)"/>
<ellipse cx="46.83" cy="24.14" rx="1.47" ry="0.98" fill="#0a0878" transform="rotate(28.58 46.83 24.14)" opacity="0.42" filter="url(#g1)"/>
<ellipse cx="48.14" cy="22.75" rx="1.47" ry="0.98" fill="#0a0878" transform="rotate(146.81 48.14 22.75)" opacity="0.42" filter="url(#g1)"/>
<ellipse cx="37.28" cy="28.2" rx="4.89" ry="4.19" fill="#2012e8" transform="rotate(0 37.28 28.2)" opacity="1" filter="url(#g1)"/>
<ellipse cx="37.89" cy="28.86" rx="1.47" ry="0.92" fill="#0a0878" transform="rotate(165.58 37.89 28.86)" opacity="0.42" filter="url(#g1)"/>
<ellipse cx="37.42" cy="28.63" rx="1.47" ry="0.92" fill="#0a0878" transform="rotate(91.08 37.42 28.63)" opacity="0.42" filter="url(#g1)"/>
<ellipse cx="37.25" cy="28.26" rx="1.47" ry="0.92" fill="#0a0878" transform="rotate(32.78 37.25 28.26)" opacity="0.42" filter="url(#g1)"/>
<ellipse cx="58.13" cy="32.25" rx="6.29" ry="4.89" fill="#2012e8" transform="rotate(25 58.13 32.25)" opacity="1" filter="url(#g1)"/>
<ellipse cx="59.38" cy="33.8" rx="1.89" ry="1.08" fill="#0a0878" transform="rotate(122.34 59.38 33.8)" opacity="0.42" filter="url(#g1)"/>
<ellipse cx="58.47" cy="32.05" rx="1.89" ry="1.08" fill="#0a0878" transform="rotate(141.28 58.47 32.05)" opacity="0.42" filter="url(#g1)"/>
<ellipse cx="59.13" cy="32.93" rx="1.89" ry="1.08" fill="#0a0878" transform="rotate(114.54 59.13 32.93)" opacity="0.42" filter="url(#g1)"/>
<ellipse cx="60.95" cy="42.92" rx="4.89" ry="3.77" fill="#2012e8" transform="rotate(0 60.95 42.92)" opacity="1" filter="url(#g1)"/>
<ellipse cx="59.87" cy="43.93" rx="1.47" ry="0.83" fill="#0a0878" transform="rotate(99.93 59.87 43.93)" opacity="0.42" filter="url(#g1)"/>
<ellipse cx="59.44" cy="42.28" rx="1.47" ry="0.83" fill="#0a0878" transform="rotate(18.83 59.44 42.28)" opacity="0.42" filter="url(#g1)"/>
<ellipse cx="62.18" cy="42.87" rx="1.47" ry="0.83" fill="#0a0878" transform="rotate(70.97 62.18 42.87)" opacity="0.42" filter="url(#g1)"/>
<circle cx="52.41" cy="11.15" r="0.45" fill="#7dff7d" opacity="0.8" filter="url(#g0)"/>
<circle cx="58.8" cy="18.82" r="0.45" fill="#7dff7d" opacity="0.8" filter="url(#g0)"/>
<circle cx="37.93" cy="23.41" r="0.45" fill="#7dff7d" opacity="0.8" filter="url(#g0)"/>
<circle cx="40.65" cy="8.99" r="0.45" fill="#7dff7d" opacity="0.8" filter="url(#g0)"/>
<circle cx="50.62" cy="5.84" r="0.45" fill="#7dff7d" opacity="0.8" filter="url(#g0)"/>
<circle cx="53.15" cy="10.88" r="0.45" fill="#7dff7d" opacity="0.8" filter="url(#g0)"/>
<circle cx="47.17" cy="28.79" r="0.45" fill="#7dff7d" opacity="0.8" filter="url(#g0)"/>
<circle cx="45.4" cy="20.93" r="0.45" fill="#7dff7d" opacity="0.8" filter="url(#g0)"/>
<circle cx="36.35" cy="4.7" r="0.45" fill="#7dff7d" opacity="0.8" filter="url(#g0)"/>
<circle cx="27.12" cy="8.32" r="0.45" fill="#7dff7d" opacity="0.8" filter="url(#g0)"/>
<circle cx="46.4" cy="15.26" r="0.45" fill="#7dff7d" opacity="0.8" filter="url(#g0)"/>
<circle cx="42.98" cy="26.62" r="0.45" fill="#7dff7d" opacity="0.8" filter="url(#g0)"/>
<circle cx="30.37" cy="10.23" r="0.45" fill="#7dff7d" opacity="0.8" filter="url(#g0)"/>
<circle cx="47.63" cy="5.2" r="0.45" fill="#7dff7d" opacity="0.8" filter="url(#g0)"/>
<circle cx="26.09" cy="13.36" r="0.45" fill="#7dff7d" opacity="0.8" filter="url(#g0)"/>
<circle cx="29.53" cy="13.42" r="0.45" fill="#7dff7d" opacity="0.8" filter="url(#g0)"/>
<circle cx="33.43" cy="18.97" r="0.45" fill="#7dff7d" opacity="0.8" filter="url(#g0)"/>
<circle cx="45.51" cy="9.67" r="0.45" fill="#7dff7d" opacity="0.8" filter="url(#g0)"/>
<circle cx="46.66" cy="16.3" r="0.45" fill="#7dff7d" opacity="0.8" filter="url(#g0)"/>
<circle cx="30.46" cy="27.63" r="0.45" fill="#7dff7d" opacity="0.8" filter="url(#g0)"/>
<circle cx="34.07" cy="8.32" r="0.45" fill="#7dff7d" opacity="0.8" filter="url(#g0)"/>
<circle cx="29.18" cy="20.31" r="0.45" fill="#7dff7d" opacity="0.8" filter="url(#g0)"/>
<circle cx="54.85" cy="23.84" r="0.45" fill="#7dff7d" opacity="0.8" filter="url(#g0)"/>
<circle cx="39.31" cy="11.14" r="0.45" fill="#7dff7d" opacity="0.8" filter="url(#g0)"/>
<circle cx="26.38" cy="20.47" r="0.45" fill="#7dff7d" opacity="0.8" filter="url(#g0)"/>
<circle cx="44.62" cy="13.25" r="0.45" fill="#7dff7d" opacity="0.8" filter="url(#g0)"/>
<circle cx="47.38" cy="15.54" r="0.45" fill="#7dff7d" opacity="0.8" filter="url(#g0)"/>
<circle cx="57.03" cy="22.65" r="0.45" fill="#7dff7d" opacity="0.8" filter="url(#g0)"/>
<circle cx="34.23" cy="26.82" r="0.45" fill="#7dff7d" opacity="0.8" filter="url(#g0)"/>
<circle cx="27.46" cy="17.69" r="0.45" fill="#7dff7d" opacity="0.8" filter="url(#g0)"/>
<circle cx="39.45" cy="10.49" r="0.45" fill="#7dff7d" opacity="0.8" filter="url(#g0)"/>
<circle cx="27.94" cy="23.76" r="0.45" fill="#7dff7d" opacity="0.8" filter="url(#g0)"/>
<circle cx="26.41" cy="18.17" r="0.45" fill="#7dff7d" opacity="0.8" filter="url(#g0)"/>
<circle cx="57.16" cy="8.15" r="0.45" fill="#7dff7d" opacity="0.8" filter="url(#g0)"/>
<circle cx="32.61" cy="19.57" r="0.45" fill="#7dff7d" opacity="0.8" filter="url(#g0)"/>
<circle cx="42.79" cy="20.39" r="0.45" fill="#7dff7d" opacity="0.8" filter="url(#g0)"/>
<circle cx="19.12" cy="14.97" r="0.45" fill="#7dff7d" opacity="0.7" filter="url(#g0)"/>
<circle cx="10.47" cy="19.75" r="0.45" fill="#7dff7d" opacity="0.7" filter="url(#g0)"/>
<circle cx="5.99" cy="42.14" r="0.45" fill="#7dff7d" opacity="0.7" filter="url(#g0)"/>
<circle cx="18.6" cy="35.53" r="0.45" fill="#7dff7d" opacity="0.7" filter="url(#g0)"/>
<circle cx="5.27" cy="40.44" r="0.45" fill="#7dff7d" opacity="0.7" filter="url(#g0)"/>
<circle cx="17.95" cy="26.02" r="0.45" fill="#7dff7d" opacity="0.7" filter="url(#g0)"/>
<circle cx="17.89" cy="25.54" r="0.45" fill="#7dff7d" opacity="0.7" filter="url(#g0)"/>
<circle cx="9.04" cy="12.34" r="0.45" fill="#7dff7d" opacity="0.7" filter="url(#g0)"/>
<circle cx="9.15" cy="9.81" r="0.45" fill="#7dff7d" opacity="0.7" filter="url(#g0)"/>
<circle cx="10.92" cy="36.83" r="0.45" fill="#7dff7d" opacity="0.7" filter="url(#g0)"/>
<circle cx="17.09" cy="40.47" r="0.45" fill="#7dff7d" opacity="0.7" filter="url(#g0)"/>
<circle cx="17.38" cy="18.45" r="0.45" fill="#7dff7d" opacity="0.7" filter="url(#g0)"/>
<circle cx="14.66" cy="24.91" r="0.45" fill="#7dff7d" opacity="0.7" filter="url(#g0)"/>
<circle cx="18.69" cy="28.23" r="0.45" fill="#7dff7d" opacity="0.7" filter="url(#g0)"/>
<line x1="54.2" y1="47.9" x2="76.9" y2="47.9" stroke="#c8c8c8" stroke-width="0.7"/>
<text x="65.6" y="46" font-size="5.6" text-anchor="middle" font-weight="bold" fill="#fff">25 μm</text>
</svg>
<svg x="257.2" y="786.7" width="78.9" height="50.3">
<rect x="0" y="0" width="78.9" height="50.3" fill="#000"/>
<g filter="url(#gn)">
<ellipse cx="46.85" cy="27.96" rx="17.78" ry="22.07" fill="#2f962f" transform="rotate(35 46.85 27.96)" opacity="0.8"/>
<ellipse cx="40.72" cy="44.51" rx="10.42" ry="6.74" fill="#3cb03c" opacity="0.75"/>
<ellipse cx="60.34" cy="18.15" rx="9.2" ry="11.65" fill="#2f962f" opacity="0.7"/>
<ellipse cx="56.66" cy="5.88" rx="6.13" ry="5.52" fill="#2f962f" opacity="0.6"/>
</g>
<ellipse cx="43.17" cy="16.31" rx="5.87" ry="8.11" fill="#2012e8" transform="rotate(10 43.17 16.31)" opacity="1" filter="url(#g1)"/>
<ellipse cx="43.03" cy="18.38" rx="1.76" ry="1.78" fill="#0a0878" transform="rotate(173.73 43.03 18.38)" opacity="0.42" filter="url(#g1)"/>
<ellipse cx="43.6" cy="19.1" rx="1.76" ry="1.78" fill="#0a0878" transform="rotate(2.74 43.6 19.1)" opacity="0.42" filter="url(#g1)"/>
<ellipse cx="43.14" cy="17.07" rx="1.76" ry="1.78" fill="#0a0878" transform="rotate(133.9 43.14 17.07)" opacity="0.42" filter="url(#g1)"/>
<ellipse cx="52.37" cy="15.69" rx="5.87" ry="8.11" fill="#2012e8" transform="rotate(15 52.37 15.69)" opacity="1" filter="url(#g1)"/>
<ellipse cx="54.01" cy="14.86" rx="1.76" ry="1.78" fill="#0a0878" transform="rotate(58.84 54.01 14.86)" opacity="0.42" filter="url(#g1)"/>
<ellipse cx="52.93" cy="14.96" rx="1.76" ry="1.78" fill="#0a0878" transform="rotate(43.05 52.93 14.96)" opacity="0.42" filter="url(#g1)"/>
<ellipse cx="53.6" cy="14.57" rx="1.76" ry="1.78" fill="#0a0878" transform="rotate(124.71 53.6 14.57)" opacity="0.42" filter="url(#g1)"/>
<ellipse cx="61.56" cy="19.13" rx="4.47" ry="5.87" fill="#2012e8" transform="rotate(15 61.56 19.13)" opacity="1" filter="url(#g1)"/>
<ellipse cx="60.67" cy="17.15" rx="1.34" ry="1.29" fill="#0a0878" transform="rotate(84.51 60.67 17.15)" opacity="0.42" filter="url(#g1)"/>
<ellipse cx="62.23" cy="17.74" rx="1.34" ry="1.29" fill="#0a0878" transform="rotate(154.35 62.23 17.74)" opacity="0.42" filter="url(#g1)"/>
<ellipse cx="60.37" cy="19.78" rx="1.34" ry="1.29" fill="#0a0878" transform="rotate(102.66 60.37 19.78)" opacity="0.42" filter="url(#g1)"/>
<ellipse cx="52.74" cy="30.65" rx="8.11" ry="5.87" fill="#2012e8" transform="rotate(-5 52.74 30.65)" opacity="1" filter="url(#g1)"/>
<ellipse cx="52.49" cy="31.12" rx="2.43" ry="1.29" fill="#0a0878" transform="rotate(112.07 52.49 31.12)" opacity="0.42" filter="url(#g1)"/>
<ellipse cx="55.34" cy="31.66" rx="2.43" ry="1.29" fill="#0a0878" transform="rotate(26.03 55.34 31.66)" opacity="0.42" filter="url(#g1)"/>
<ellipse cx="53.08" cy="30.7" rx="2.43" ry="1.29" fill="#0a0878" transform="rotate(167.21 53.08 30.7)" opacity="0.42" filter="url(#g1)"/>
<ellipse cx="42.56" cy="40.22" rx="6.71" ry="6.71" fill="#2012e8" transform="rotate(0 42.56 40.22)" opacity="1" filter="url(#g1)"/>
<ellipse cx="42.34" cy="40.53" rx="2.01" ry="1.48" fill="#0a0878" transform="rotate(5.17 42.34 40.53)" opacity="0.42" filter="url(#g1)"/>
<ellipse cx="44.35" cy="40.7" rx="2.01" ry="1.48" fill="#0a0878" transform="rotate(114.1 44.35 40.7)" opacity="0.42" filter="url(#g1)"/>
<ellipse cx="41.91" cy="38.35" rx="2.01" ry="1.48" fill="#0a0878" transform="rotate(11.84 41.91 38.35)" opacity="0.42" filter="url(#g1)"/>
<ellipse cx="57.52" cy="3.43" rx="3.91" ry="3.49" fill="#2012e8" transform="rotate(0 57.52 3.43)" opacity="1" filter="url(#g1)"/>
<ellipse cx="57.04" cy="3.16" rx="1.17" ry="0.77" fill="#0a0878" transform="rotate(147.16 57.04 3.16)" opacity="0.42" filter="url(#g1)"/>
<ellipse cx="58.11" cy="2.3" rx="1.17" ry="0.77" fill="#0a0878" transform="rotate(11.87 58.11 2.3)" opacity="0.42" filter="url(#g1)"/>
<ellipse cx="58.48" cy="2.48" rx="1.17" ry="0.77" fill="#0a0878" transform="rotate(169.98 58.48 2.48)" opacity="0.42" filter="url(#g1)"/>
<ellipse cx="25.39" cy="29.8" rx="2.1" ry="6.29" fill="#2012e8" transform="rotate(0 25.39 29.8)" opacity="1" filter="url(#g1)"/>
<ellipse cx="25.53" cy="30.12" rx="0.63" ry="1.38" fill="#0a0878" transform="rotate(20.15 25.53 30.12)" opacity="0.42" filter="url(#g1)"/>
<ellipse cx="26.08" cy="30.25" rx="0.63" ry="1.38" fill="#0a0878" transform="rotate(146.16 26.08 30.25)" opacity="0.42" filter="url(#g1)"/>
<ellipse cx="24.93" cy="28.25" rx="0.63" ry="1.38" fill="#0a0878" transform="rotate(113.68 24.93 28.25)" opacity="0.42" filter="url(#g1)"/>
<ellipse cx="28.21" cy="16.31" rx="2.1" ry="1.68" fill="#2012e8" transform="rotate(0 28.21 16.31)" opacity="1" filter="url(#g1)"/>
<ellipse cx="28.19" cy="16.37" rx="0.63" ry="0.37" fill="#0a0878" transform="rotate(17.62 28.19 16.37)" opacity="0.42" filter="url(#g1)"/>
<ellipse cx="28.22" cy="16.17" rx="0.63" ry="0.37" fill="#0a0878" transform="rotate(57.44 28.22 16.17)" opacity="0.42" filter="url(#g1)"/>
<ellipse cx="28.2" cy="16.31" rx="0.63" ry="0.37" fill="#0a0878" transform="rotate(46.21 28.2 16.31)" opacity="0.42" filter="url(#g1)"/>
<ellipse cx="64.02" cy="31.63" rx="1.4" ry="3.49" fill="#2012e8" transform="rotate(0 64.02 31.63)" opacity="1" filter="url(#g1)"/>
<ellipse cx="63.94" cy="32.61" rx="0.42" ry="0.77" fill="#0a0878" transform="rotate(66.24 63.94 32.61)" opacity="0.42" filter="url(#g1)"/>
<ellipse cx="63.79" cy="32.85" rx="0.42" ry="0.77" fill="#0a0878" transform="rotate(90.67 63.79 32.85)" opacity="0.42" filter="url(#g1)"/>
<ellipse cx="64.22" cy="30.94" rx="0.42" ry="0.77" fill="#0a0878" transform="rotate(5.58 64.22 30.94)" opacity="0.42" filter="url(#g1)"/>
<line x1="54.2" y1="48.2" x2="76.9" y2="48.2" stroke="#c8c8c8" stroke-width="0.7"/>
<text x="65.7" y="46.3" font-size="6.2" text-anchor="middle" font-weight="bold" fill="#fff">25 μm</text>
</svg>
<text x="240.2" y="852.6" font-size="11.25" fill="#3fb54d">BODIPY C16 <tspan fill="#2a22e6">DAPI</tspan></text>
<text x="498" y="655" font-size="15" font-weight="bold">L</text>
<text x="521.6" y="744" font-size="11.2" fill="#3fb54d" transform="rotate(-90 521.6 744)">BODIPY 495</text>
<text x="521.6" y="675.2" font-size="11.2" fill="#2a22e6" transform="rotate(-90 521.6 675.2)">DAPI</text>
<svg x="526.1" y="647.2" width="73.9" height="47.3">
<rect x="0" y="0" width="73.9" height="47.3" fill="#000"/>
<ellipse cx="36.44" cy="23.49" rx="38.54" ry="24.53" fill="#0c0a70" opacity="0.28" filter="url(#g3)"/>
<ellipse cx="7.24" cy="8.89" rx="6.42" ry="5.26" fill="#2414f0" transform="rotate(0 7.24 8.89)" opacity="0.83" filter="url(#g1)"/>
<ellipse cx="6.17" cy="9.43" rx="2.06" ry="1.26" fill="#06065a" transform="rotate(139.14 6.17 9.43)" opacity="0.5" filter="url(#g1)"/>
<ellipse cx="6.08" cy="10.26" rx="2.06" ry="1.26" fill="#06065a" transform="rotate(96.82 6.08 10.26)" opacity="0.5" filter="url(#g1)"/>
<ellipse cx="7.76" cy="10.89" rx="2.06" ry="1.26" fill="#06065a" transform="rotate(16.36 7.76 10.89)" opacity="0.5" filter="url(#g1)"/>
<ellipse cx="7.45" cy="8.53" rx="2.06" ry="1.26" fill="#06065a" transform="rotate(0.23 7.45 8.53)" opacity="0.5" filter="url(#g1)"/>
<ellipse cx="25.93" cy="22.33" rx="3.5" ry="5.26" fill="#2414f0" transform="rotate(20 25.93 22.33)" opacity="0.83" filter="url(#g1)"/>
<ellipse cx="26.29" cy="24.05" rx="1.12" ry="1.26" fill="#06065a" transform="rotate(176.02 26.29 24.05)" opacity="0.5" filter="url(#g1)"/>
<ellipse cx="26.7" cy="22.36" rx="1.12" ry="1.26" fill="#06065a" transform="rotate(88.47 26.7 22.36)" opacity="0.5" filter="url(#g1)"/>
<ellipse cx="26.01" cy="21.91" rx="1.12" ry="1.26" fill="#06065a" transform="rotate(89.02 26.01 21.91)" opacity="0.5" filter="url(#g1)"/>
<ellipse cx="25.18" cy="23.94" rx="1.12" ry="1.26" fill="#06065a" transform="rotate(46.9 25.18 23.94)" opacity="0.5" filter="url(#g1)"/>
<ellipse cx="66.81" cy="22.91" rx="5.84" ry="7.59" fill="#2414f0" transform="rotate(0 66.81 22.91)" opacity="0.87" filter="url(#g1)"/>
<ellipse cx="67.5" cy="22.57" rx="1.87" ry="1.82" fill="#06065a" transform="rotate(38.65 67.5 22.57)" opacity="0.5" filter="url(#g1)"/>
<ellipse cx="66.39" cy="21.29" rx="1.87" ry="1.82" fill="#06065a" transform="rotate(19.79 66.39 21.29)" opacity="0.5" filter="url(#g1)"/>
<ellipse cx="66.67" cy="22.7" rx="1.87" ry="1.82" fill="#06065a" transform="rotate(141.82 66.67 22.7)" opacity="0.5" filter="url(#g1)"/>
<ellipse cx="66.13" cy="20.37" rx="1.87" ry="1.82" fill="#06065a" transform="rotate(113.03 66.13 20.37)" opacity="0.5" filter="url(#g1)"/>
<ellipse cx="58.05" cy="32.84" rx="4.09" ry="5.84" fill="#2414f0" transform="rotate(20 58.05 32.84)" opacity="0.87" filter="url(#g1)"/>
<ellipse cx="57.59" cy="33.67" rx="1.31" ry="1.4" fill="#06065a" transform="rotate(71.03 57.59 33.67)" opacity="0.5" filter="url(#g1)"/>
<ellipse cx="58.17" cy="32.69" rx="1.31" ry="1.4" fill="#06065a" transform="rotate(159.92 58.17 32.69)" opacity="0.5" filter="url(#g1)"/>
<ellipse cx="58.42" cy="32.92" rx="1.31" ry="1.4" fill="#06065a" transform="rotate(47.38 58.42 32.92)" opacity="0.5" filter="url(#g1)"/>
<ellipse cx="58.79" cy="32.07" rx="1.31" ry="1.4" fill="#06065a" transform="rotate(68.27 58.79 32.07)" opacity="0.5" filter="url(#g1)"/>
<ellipse cx="3.16" cy="32.84" rx="4.67" ry="5.26" fill="#2414f0" transform="rotate(0 3.16 32.84)" opacity="0.83" filter="url(#g1)"/>
<ellipse cx="3.52" cy="32.47" rx="1.49" ry="1.26" fill="#06065a" transform="rotate(82.96 3.52 32.47)" opacity="0.5" filter="url(#g1)"/>
<ellipse cx="1.6" cy="32.49" rx="1.49" ry="1.26" fill="#06065a" transform="rotate(135.54 1.6 32.49)" opacity="0.5" filter="url(#g1)"/>
<ellipse cx="2.71" cy="32.18" rx="1.49" ry="1.26" fill="#06065a" transform="rotate(58.8 2.71 32.18)" opacity="0.5" filter="url(#g1)"/>
<ellipse cx="4.15" cy="34.49" rx="1.49" ry="1.26" fill="#06065a" transform="rotate(119.18 4.15 34.49)" opacity="0.5" filter="url(#g1)"/>
<ellipse cx="8.99" cy="41.01" rx="4.67" ry="4.09" fill="#2414f0" transform="rotate(0 8.99 41.01)" opacity="0.83" filter="url(#g1)"/>
<ellipse cx="8.98" cy="40.7" rx="1.49" ry="0.98" fill="#06065a" transform="rotate(78.98 8.98 40.7)" opacity="0.5" filter="url(#g1)"/>
<ellipse cx="9.17" cy="39.96" rx="1.49" ry="0.98" fill="#06065a" transform="rotate(22.69 9.17 39.96)" opacity="0.5" filter="url(#g1)"/>
<ellipse cx="7.19" cy="41.4" rx="1.49" ry="0.98" fill="#06065a" transform="rotate(42.83 7.19 41.4)" opacity="0.5" filter="url(#g1)"/>
<ellipse cx="9.22" cy="41.53" rx="1.49" ry="0.98" fill="#06065a" transform="rotate(126.57 9.22 41.53)" opacity="0.5" filter="url(#g1)"/>
<ellipse cx="36.44" cy="36.34" rx="5.26" ry="4.67" fill="#2414f0" fill-opacity="0.35" stroke="#2414f0" stroke-width="0.9" opacity="0.8" filter="url(#g1)" transform="rotate(0 36.44 36.34)"/>
<ellipse cx="25.93" cy="43.35" rx="4.09" ry="2.92" fill="#2414f0" transform="rotate(0 25.93 43.35)" opacity="0.74" filter="url(#g1)"/>
<ellipse cx="26.09" cy="43.18" rx="1.31" ry="0.7" fill="#06065a" transform="rotate(28.08 26.09 43.18)" opacity="0.5" filter="url(#g1)"/>
<ellipse cx="25.94" cy="43.78" rx="1.31" ry="0.7" fill="#06065a" transform="rotate(93.99 25.94 43.78)" opacity="0.5" filter="url(#g1)"/>
<ellipse cx="26.25" cy="43.71" rx="1.31" ry="0.7" fill="#06065a" transform="rotate(34.07 26.25 43.71)" opacity="0.5" filter="url(#g1)"/>
<ellipse cx="27.25" cy="43.2" rx="1.31" ry="0.7" fill="#06065a" transform="rotate(18.33 27.25 43.2)" opacity="0.5" filter="url(#g1)"/>
<ellipse cx="65.64" cy="3.64" rx="4.67" ry="3.5" fill="#2414f0" transform="rotate(0 65.64 3.64)" opacity="0.74" filter="url(#g1)"/>
<ellipse cx="65.84" cy="3.6" rx="1.49" ry="0.84" fill="#06065a" transform="rotate(69.16 65.84 3.6)" opacity="0.5" filter="url(#g1)"/>
<ellipse cx="67.3" cy="3.51" rx="1.49" ry="0.84" fill="#06065a" transform="rotate(131.99 67.3 3.51)" opacity="0.5" filter="url(#g1)"/>
<ellipse cx="65.26" cy="3.76" rx="1.49" ry="0.84" fill="#06065a" transform="rotate(114.84 65.26 3.76)" opacity="0.5" filter="url(#g1)"/>
<ellipse cx="65.98" cy="3.84" rx="1.49" ry="0.84" fill="#06065a" transform="rotate(69.9 65.98 3.84)" opacity="0.5" filter="url(#g1)"/>
<ellipse cx="14.83" cy="3.06" rx="4.09" ry="2.92" fill="#2414f0" transform="rotate(0 14.83 3.06)" opacity="0.74" filter="url(#g1)"/>
<ellipse cx="15.55" cy="3.17" rx="1.31" ry="0.7" fill="#06065a" transform="rotate(142.38 15.55 3.17)" opacity="0.5" filter="url(#g1)"/>
<ellipse cx="14.51" cy="2.44" rx="1.31" ry="0.7" fill="#06065a" transform="rotate(113.83 14.51 2.44)" opacity="0.5" filter="url(#g1)"/>
<ellipse cx="14.58" cy="3.1" rx="1.31" ry="0.7" fill="#06065a" transform="rotate(108.67 14.58 3.1)" opacity="0.5" filter="url(#g1)"/>
<ellipse cx="13.71" cy="3.61" rx="1.31" ry="0.7" fill="#06065a" transform="rotate(163.44 13.71 3.61)" opacity="0.5" filter="url(#g1)"/>
<ellipse cx="32.94" cy="1.3" rx="4.67" ry="2.34" fill="#2414f0" fill-opacity="0.35" stroke="#2414f0" stroke-width="0.9" opacity="0.6" filter="url(#g1)" transform="rotate(0 32.94 1.3)"/>
<ellipse cx="36.44" cy="17.65" rx="4.67" ry="4.09" fill="#2414f0" fill-opacity="0.35" stroke="#2414f0" stroke-width="0.9" opacity="0.7" filter="url(#g1)" transform="rotate(0 36.44 17.65)"/>
<ellipse cx="14.83" cy="23.49" rx="4.09" ry="3.5" fill="#2414f0" fill-opacity="0.35" stroke="#2414f0" stroke-width="0.9" opacity="0.6" filter="url(#g1)" transform="rotate(0 14.83 23.49)"/>
<ellipse cx="46.95" cy="27" rx="4.67" ry="4.09" fill="#2414f0" fill-opacity="0.35" stroke="#2414f0" stroke-width="0.9" opacity="0.5" filter="url(#g1)" transform="rotate(0 46.95 27)"/>
<ellipse cx="44.62" cy="44.52" rx="4.67" ry="2.57" fill="#2414f0" transform="rotate(0 44.62 44.52)" opacity="0.64" filter="url(#g1)"/>
<ellipse cx="43.52" cy="44.8" rx="1.49" ry="0.62" fill="#06065a" transform="rotate(134.84 43.52 44.8)" opacity="0.5" filter="url(#g1)"/>
<ellipse cx="44.19" cy="44.64" rx="1.49" ry="0.62" fill="#06065a" transform="rotate(130 44.19 44.64)" opacity="0.5" filter="url(#g1)"/>
<ellipse cx="45.8" cy="43.9" rx="1.49" ry="0.62" fill="#06065a" transform="rotate(126.01 45.8 43.9)" opacity="0.5" filter="url(#g1)"/>
<ellipse cx="45.47" cy="43.89" rx="1.49" ry="0.62" fill="#06065a" transform="rotate(115.48 45.47 43.89)" opacity="0.5" filter="url(#g1)"/>
<circle cx="33.69" cy="25.19" r="0.6" fill="#3cf03c" opacity="0.85" filter="url(#g0)"/>
<circle cx="51.55" cy="43.53" r="0.35" fill="#3cf03c" opacity="0.85" filter="url(#g0)"/>
<circle cx="57.47" cy="37.81" r="0.6" fill="#3cf03c" opacity="0.85" filter="url(#g0)"/>
<circle cx="12.15" cy="42.1" r="0.45" fill="#3cf03c" opacity="0.85" filter="url(#g0)"/>
<circle cx="33.78" cy="34.92" r="0.45" fill="#3cf03c" opacity="0.85" filter="url(#g0)"/>
<circle cx="38.35" cy="36.16" r="0.35" fill="#3cf03c" opacity="0.85" filter="url(#g0)"/>
<circle cx="65.59" cy="25.66" r="0.35" fill="#3cf03c" opacity="0.85" filter="url(#g0)"/>
<circle cx="28.97" cy="30.76" r="0.35" fill="#3cf03c" opacity="0.85" filter="url(#g0)"/>
<circle cx="3.58" cy="32.45" r="0.35" fill="#3cf03c" opacity="0.85" filter="url(#g0)"/>
<circle cx="52.68" cy="45.32" r="0.35" fill="#3cf03c" opacity="0.85" filter="url(#g0)"/>
<circle cx="38.42" cy="18.51" r="0.6" fill="#3cf03c" opacity="0.85" filter="url(#g0)"/>
<circle cx="33.89" cy="21.78" r="0.45" fill="#3cf03c" opacity="0.85" filter="url(#g0)"/>
<circle cx="37.91" cy="35.48" r="0.45" fill="#3cf03c" opacity="0.85" filter="url(#g0)"/>
<circle cx="38.59" cy="28.26" r="0.45" fill="#3cf03c" opacity="0.85" filter="url(#g0)"/>
<circle cx="16.03" cy="36.9" r="0.45" fill="#3cf03c" opacity="0.85" filter="url(#g0)"/>
<circle cx="38.02" cy="44.73" r="0.6" fill="#3cf03c" opacity="0.85" filter="url(#g0)"/>
<circle cx="72.1" cy="26.53" r="0.35" fill="#3cf03c" opacity="0.85" filter="url(#g0)"/>
<circle cx="19.1" cy="27.36" r="0.35" fill="#3cf03c" opacity="0.85" filter="url(#g0)"/>
<circle cx="1.78" cy="28.52" r="0.45" fill="#3cf03c" opacity="0.85" filter="url(#g0)"/>
<circle cx="46.33" cy="36.6" r="0.6" fill="#3cf03c" opacity="0.85" filter="url(#g0)"/>
<circle cx="20.02" cy="22.4" r="0.6" fill="#3cf03c" opacity="0.85" filter="url(#g0)"/>
<circle cx="29.82" cy="45.39" r="0.35" fill="#3cf03c" opacity="0.85" filter="url(#g0)"/>
<circle cx="72.81" cy="45.62" r="0.45" fill="#3cf03c" opacity="0.85" filter="url(#g0)"/>
<circle cx="16.17" cy="19.4" r="0.35" fill="#3cf03c" opacity="0.85" filter="url(#g0)"/>
<circle cx="59.44" cy="35.32" r="0.45" fill="#3cf03c" opacity="0.85" filter="url(#g0)"/>
<circle cx="47.32" cy="38.04" r="0.35" fill="#3cf03c" opacity="0.85" filter="url(#g0)"/>
<circle cx="26.39" cy="35.46" r="0.45" fill="#3cf03c" opacity="0.85" filter="url(#g0)"/>
<circle cx="34.71" cy="24.6" r="0.6" fill="#3cf03c" opacity="0.85" filter="url(#g0)"/>
<circle cx="47.86" cy="39.91" r="0.45" fill="#3cf03c" opacity="0.85" filter="url(#g0)"/>
<circle cx="26.51" cy="42.14" r="0.45" fill="#3cf03c" opacity="0.85" filter="url(#g0)"/>
<circle cx="51.81" cy="37" r="0.45" fill="#3cf03c" opacity="0.85" filter="url(#g0)"/>
<circle cx="49.97" cy="30.5" r="0.6" fill="#3cf03c" opacity="0.85" filter="url(#g0)"/>
<circle cx="58.67" cy="26.61" r="0.6" fill="#3cf03c" opacity="0.85" filter="url(#g0)"/>
<circle cx="22.67" cy="30.44" r="0.45" fill="#3cf03c" opacity="0.85" filter="url(#g0)"/>
<circle cx="45.96" cy="18.01" r="0.45" fill="#3cf03c" opacity="0.85" filter="url(#g0)"/>
<circle cx="11.88" cy="24.88" r="0.45" fill="#3cf03c" opacity="0.85" filter="url(#g0)"/>
<circle cx="4.95" cy="41.42" r="0.45" fill="#3cf03c" opacity="0.85" filter="url(#g0)"/>
<circle cx="57.59" cy="19.75" r="0.45" fill="#3cf03c" opacity="0.85" filter="url(#g0)"/>
<circle cx="46.67" cy="15.79" r="0.35" fill="#3cf03c" opacity="0.85" filter="url(#g0)"/>
<circle cx="16.01" cy="17.59" r="0.45" fill="#3cf03c" opacity="0.85" filter="url(#g0)"/>
<line x1="51.1" y1="45.1" x2="71.9" y2="45.1" stroke="#f0f0f0" stroke-width="0.7"/>
<text x="61.5" y="43.3" font-size="5.5" text-anchor="middle" fill="#fff">25 μm</text>
<text x="36.9" y="12.9" font-size="8.85" text-anchor="middle" fill="#fff">37<tspan font-size="5.31" dy="-3.19">o</tspan><tspan dy="3.19">C+OA+DMSO</tspan></text>
</svg>
<svg x="604.1" y="647.2" width="73.9" height="47.3">
<rect x="0" y="0" width="73.9" height="47.3" fill="#000"/>
<ellipse cx="36.44" cy="23.49" rx="38.54" ry="24.53" fill="#0c0a70" opacity="0.25" filter="url(#g3)"/>
<ellipse cx="6.66" cy="24.66" rx="6.42" ry="5.84" fill="#2414f0" fill-opacity="0.35" stroke="#2414f0" stroke-width="0.9" opacity="0.8" filter="url(#g1)" transform="rotate(0 6.66 24.66)"/>
<ellipse cx="20.67" cy="27" rx="5.84" ry="5.84" fill="#2414f0" fill-opacity="0.35" stroke="#2414f0" stroke-width="0.9" opacity="0.6" filter="url(#g1)" transform="rotate(0 20.67 27)"/>
<ellipse cx="37.61" cy="25.83" rx="5.61" ry="5.84" fill="#2414f0" fill-opacity="0.35" stroke="#2414f0" stroke-width="0.9" opacity="0.84" filter="url(#g1)" transform="rotate(0 37.61 25.83)"/>
<ellipse cx="52.79" cy="17.07" rx="7.01" ry="7.01" fill="#2414f0" fill-opacity="0.35" stroke="#2414f0" stroke-width="0.9" opacity="1" filter="url(#g1)" transform="rotate(0 52.79 17.07)"/>
<ellipse cx="65.05" cy="29.33" rx="6.42" ry="7.59" fill="#2414f0" transform="rotate(0 65.05 29.33)" opacity="0.69" filter="url(#g1)"/>
<ellipse cx="65.05" cy="29.68" rx="2.06" ry="1.82" fill="#06065a" transform="rotate(25.69 65.05 29.68)" opacity="0.5" filter="url(#g1)"/>
<ellipse cx="65.29" cy="31.97" rx="2.06" ry="1.82" fill="#06065a" transform="rotate(62.36 65.29 31.97)" opacity="0.5" filter="url(#g1)"/>
<ellipse cx="66.55" cy="31.86" rx="2.06" ry="1.82" fill="#06065a" transform="rotate(142.5 66.55 31.86)" opacity="0.5" filter="url(#g1)"/>
<ellipse cx="66.32" cy="31.98" rx="2.06" ry="1.82" fill="#06065a" transform="rotate(109.51 66.32 31.98)" opacity="0.5" filter="url(#g1)"/>
<ellipse cx="55.13" cy="41.01" rx="5.26" ry="5.26" fill="#2414f0" fill-opacity="0.35" stroke="#2414f0" stroke-width="0.9" opacity="1" filter="url(#g1)" transform="rotate(0 55.13 41.01)"/>
<ellipse cx="3.74" cy="4.81" rx="5.84" ry="4.67" fill="#2414f0" fill-opacity="0.35" stroke="#2414f0" stroke-width="0.9" opacity="0.9" filter="url(#g1)" transform="rotate(0 3.74 4.81)"/>
<ellipse cx="43.45" cy="2.47" rx="5.84" ry="2.92" fill="#2414f0" fill-opacity="0.35" stroke="#2414f0" stroke-width="0.9" opacity="1" filter="url(#g1)" transform="rotate(0 43.45 2.47)"/>
<ellipse cx="53.96" cy="3.64" rx="5.84" ry="3.5" fill="#2414f0" fill-opacity="0.35" stroke="#2414f0" stroke-width="0.9" opacity="1" filter="url(#g1)" transform="rotate(0 53.96 3.64)"/>
<ellipse cx="66.81" cy="2.47" rx="5.84" ry="2.92" fill="#2414f0" fill-opacity="0.35" stroke="#2414f0" stroke-width="0.9" opacity="1" filter="url(#g1)" transform="rotate(0 66.81 2.47)"/>
<ellipse cx="3.16" cy="41.01" rx="4.09" ry="5.84" fill="#2414f0" fill-opacity="0.35" stroke="#2414f0" stroke-width="0.9" opacity="0.7" filter="url(#g1)" transform="rotate(0 3.16 41.01)"/>
<ellipse cx="39.94" cy="38.68" rx="4.67" ry="4.09" fill="#2414f0" fill-opacity="0.35" stroke="#2414f0" stroke-width="0.9" opacity="0.6" filter="url(#g1)" transform="rotate(0 39.94 38.68)"/>
<ellipse cx="70.89" cy="12.98" rx="2.92" ry="5.84" fill="#2414f0" fill-opacity="0.35" stroke="#2414f0" stroke-width="0.9" opacity="0.7" filter="url(#g1)" transform="rotate(0 70.89 12.98)"/>
<ellipse cx="24.76" cy="11.81" rx="7.01" ry="4.67" fill="#2414f0" fill-opacity="0.35" stroke="#2414f0" stroke-width="0.9" opacity="0.6" filter="url(#g1)" transform="rotate(0 24.76 11.81)"/>
<circle cx="22.7" cy="17.19" r="0.6" fill="#3cf03c" opacity="0.85" filter="url(#g0)"/>
<circle cx="22.74" cy="17.91" r="0.35" fill="#3cf03c" opacity="0.85" filter="url(#g0)"/>
<circle cx="21.23" cy="15.28" r="0.35" fill="#3cf03c" opacity="0.85" filter="url(#g0)"/>
<circle cx="22.5" cy="16.23" r="0.35" fill="#3cf03c" opacity="0.85" filter="url(#g0)"/>
<circle cx="21.54" cy="15.5" r="0.35" fill="#3cf03c" opacity="0.85" filter="url(#g0)"/>
<circle cx="22.94" cy="16.37" r="0.6" fill="#3cf03c" opacity="0.85" filter="url(#g0)"/>
<circle cx="18.99" cy="16.35" r="0.35" fill="#3cf03c" opacity="0.85" filter="url(#g0)"/>
<circle cx="11.19" cy="31.77" r="0.35" fill="#3cf03c" opacity="0.85" filter="url(#g0)"/>
<circle cx="10.37" cy="34.36" r="0.35" fill="#3cf03c" opacity="0.85" filter="url(#g0)"/>
<circle cx="8.42" cy="32.08" r="0.6" fill="#3cf03c" opacity="0.85" filter="url(#g0)"/>
<circle cx="10.48" cy="33.53" r="0.45" fill="#3cf03c" opacity="0.85" filter="url(#g0)"/>
<circle cx="9.52" cy="32.5" r="0.6" fill="#3cf03c" opacity="0.85" filter="url(#g0)"/>
<circle cx="7.98" cy="33.41" r="0.6" fill="#3cf03c" opacity="0.85" filter="url(#g0)"/>
<circle cx="10.92" cy="30.82" r="0.35" fill="#3cf03c" opacity="0.85" filter="url(#g0)"/>
<circle cx="25.7" cy="46.33" r="0.45" fill="#3cf03c" opacity="0.85" filter="url(#g0)"/>
<circle cx="26.35" cy="42.81" r="0.45" fill="#3cf03c" opacity="0.85" filter="url(#g0)"/>
<circle cx="24.68" cy="46.19" r="0.35" fill="#3cf03c" opacity="0.85" filter="url(#g0)"/>
<circle cx="23.29" cy="44.16" r="0.35" fill="#3cf03c" opacity="0.85" filter="url(#g0)"/>
<circle cx="23.93" cy="46.04" r="0.45" fill="#3cf03c" opacity="0.85" filter="url(#g0)"/>
<circle cx="23.95" cy="45.69" r="0.6" fill="#3cf03c" opacity="0.85" filter="url(#g0)"/>
<circle cx="26.15" cy="43.3" r="0.45" fill="#3cf03c" opacity="0.85" filter="url(#g0)"/>
<circle cx="44.97" cy="34.13" r="0.35" fill="#3cf03c" opacity="0.85" filter="url(#g0)"/>
<circle cx="47.46" cy="34.3" r="0.45" fill="#3cf03c" opacity="0.85" filter="url(#g0)"/>
<circle cx="45.29" cy="35.19" r="0.45" fill="#3cf03c" opacity="0.85" filter="url(#g0)"/>
<circle cx="47.7" cy="34.52" r="0.35" fill="#3cf03c" opacity="0.85" filter="url(#g0)"/>
<circle cx="46.58" cy="36.4" r="0.45" fill="#3cf03c" opacity="0.85" filter="url(#g0)"/>
<circle cx="44.2" cy="36.07" r="0.35" fill="#3cf03c" opacity="0.85" filter="url(#g0)"/>
<circle cx="46.23" cy="35.74" r="0.35" fill="#3cf03c" opacity="0.85" filter="url(#g0)"/>
<circle cx="29.7" cy="32.28" r="0.45" fill="#3cf03c" opacity="0.85" filter="url(#g0)"/>
<circle cx="40.31" cy="15.78" r="0.45" fill="#3cf03c" opacity="0.85" filter="url(#g0)"/>
<circle cx="8.68" cy="15.67" r="0.45" fill="#3cf03c" opacity="0.85" filter="url(#g0)"/>
<circle cx="44.89" cy="35.67" r="0.6" fill="#3cf03c" opacity="0.85" filter="url(#g0)"/>
<circle cx="66.7" cy="34.15" r="0.6" fill="#3cf03c" opacity="0.85" filter="url(#g0)"/>
<circle cx="11.47" cy="36.18" r="0.6" fill="#3cf03c" opacity="0.85" filter="url(#g0)"/>
<circle cx="44" cy="36.42" r="0.35" fill="#3cf03c" opacity="0.85" filter="url(#g0)"/>
<circle cx="3.68" cy="34.87" r="0.6" fill="#3cf03c" opacity="0.85" filter="url(#g0)"/>
<circle cx="56.04" cy="17.46" r="0.35" fill="#3cf03c" opacity="0.85" filter="url(#g0)"/>
<circle cx="63.76" cy="27.94" r="0.35" fill="#3cf03c" opacity="0.85" filter="url(#g0)"/>
<circle cx="67.01" cy="35.59" r="0.45" fill="#3cf03c" opacity="0.85" filter="url(#g0)"/>
<circle cx="63.95" cy="18.69" r="0.45" fill="#3cf03c" opacity="0.85" filter="url(#g0)"/>
<circle cx="41.52" cy="22.59" r="0.45" fill="#3cf03c" opacity="0.85" filter="url(#g0)"/>
<circle cx="14.2" cy="15.27" r="0.35" fill="#3cf03c" opacity="0.85" filter="url(#g0)"/>
<circle cx="32" cy="35.14" r="0.35" fill="#3cf03c" opacity="0.85" filter="url(#g0)"/>
<circle cx="36.86" cy="31.23" r="0.35" fill="#3cf03c" opacity="0.85" filter="url(#g0)"/>
<circle cx="56.85" cy="27.92" r="0.6" fill="#3cf03c" opacity="0.85" filter="url(#g0)"/>
<circle cx="67.34" cy="28.75" r="0.35" fill="#3cf03c" opacity="0.85" filter="url(#g0)"/>
<circle cx="50.05" cy="33.57" r="0.6" fill="#3cf03c" opacity="0.85" filter="url(#g0)"/>
<circle cx="71.84" cy="29.7" r="0.45" fill="#3cf03c" opacity="0.85" filter="url(#g0)"/>
<circle cx="40.56" cy="16.86" r="0.45" fill="#3cf03c" opacity="0.85" filter="url(#g0)"/>
<circle cx="16.19" cy="19.11" r="0.35" fill="#3cf03c" opacity="0.85" filter="url(#g0)"/>
<circle cx="31.74" cy="14.46" r="0.6" fill="#3cf03c" opacity="0.85" filter="url(#g0)"/>
<circle cx="9.63" cy="45.75" r="0.35" fill="#3cf03c" opacity="0.85" filter="url(#g0)"/>
<circle cx="16.62" cy="18.12" r="0.45" fill="#3cf03c" opacity="0.85" filter="url(#g0)"/>
<circle cx="2.11" cy="37.67" r="0.35" fill="#3cf03c" opacity="0.85" filter="url(#g0)"/>
<line x1="51.1" y1="45.1" x2="71.5" y2="45.1" stroke="#f0f0f0" stroke-width="0.7"/>
<text x="61.3" y="43.3" font-size="5.5" text-anchor="middle" fill="#fff">25 μm</text>
<text x="36.9" y="12.8" font-size="8.85" text-anchor="middle" fill="#fff">37<tspan font-size="5.31" dy="-3.19">o</tspan><tspan dy="3.19">C+OA+T0</tspan></text>
</svg>
<svg x="526.1" y="698.5" width="73.9" height="47.3">
<rect x="0" y="0" width="73.9" height="47.3" fill="#000"/>
<ellipse cx="36.44" cy="23.19" rx="38.54" ry="24.53" fill="#0c0a70" opacity="0.25" filter="url(#g3)"/>
<ellipse cx="20.67" cy="18.52" rx="8.41" ry="6.42" fill="#2414f0" transform="rotate(0 20.67 18.52)" opacity="0.87" filter="url(#g1)"/>
<ellipse cx="17.99" cy="19.18" rx="2.69" ry="1.54" fill="#06065a" transform="rotate(166.1 17.99 19.18)" opacity="0.5" filter="url(#g1)"/>
<ellipse cx="18.79" cy="20.14" rx="2.69" ry="1.54" fill="#06065a" transform="rotate(125.07 18.79 20.14)" opacity="0.5" filter="url(#g1)"/>
<ellipse cx="22.44" cy="20.25" rx="2.69" ry="1.54" fill="#06065a" transform="rotate(52.77 22.44 20.25)" opacity="0.5" filter="url(#g1)"/>
<ellipse cx="18.91" cy="18.02" rx="2.69" ry="1.54" fill="#06065a" transform="rotate(120.52 18.91 18.02)" opacity="0.5" filter="url(#g1)"/>
<ellipse cx="8.99" cy="4.51" rx="4.09" ry="4.67" fill="#2414f0" transform="rotate(0 8.99 4.51)" opacity="0.83" filter="url(#g1)"/>
<ellipse cx="10.29" cy="3.28" rx="1.31" ry="1.12" fill="#06065a" transform="rotate(9.48 10.29 3.28)" opacity="0.5" filter="url(#g1)"/>
<ellipse cx="9.1" cy="4.53" rx="1.31" ry="1.12" fill="#06065a" transform="rotate(159 9.1 4.53)" opacity="0.5" filter="url(#g1)"/>
<ellipse cx="8.55" cy="3.31" rx="1.31" ry="1.12" fill="#06065a" transform="rotate(70.01 8.55 3.31)" opacity="0.5" filter="url(#g1)"/>
<ellipse cx="8.57" cy="5.67" rx="1.31" ry="1.12" fill="#06065a" transform="rotate(172.39 8.57 5.67)" opacity="0.5" filter="url(#g1)"/>
<ellipse cx="60.38" cy="17.35" rx="4.67" ry="8.76" fill="#2414f0" transform="rotate(10 60.38 17.35)" opacity="0.83" filter="url(#g1)"/>
<ellipse cx="61.03" cy="15.28" rx="1.49" ry="2.1" fill="#06065a" transform="rotate(56.93 61.03 15.28)" opacity="0.5" filter="url(#g1)"/>
<ellipse cx="61.83" cy="16.44" rx="1.49" ry="2.1" fill="#06065a" transform="rotate(84.56 61.83 16.44)" opacity="0.5" filter="url(#g1)"/>
<ellipse cx="61.4" cy="20.65" rx="1.49" ry="2.1" fill="#06065a" transform="rotate(21.01 61.4 20.65)" opacity="0.5" filter="url(#g1)"/>
<ellipse cx="60.71" cy="17.17" rx="1.49" ry="2.1" fill="#06065a" transform="rotate(144.33 60.71 17.17)" opacity="0.5" filter="url(#g1)"/>
<ellipse cx="70.31" cy="28.45" rx="4.67" ry="7.01" fill="#2414f0" transform="rotate(0 70.31 28.45)" opacity="0.83" filter="url(#g1)"/>
<ellipse cx="68.69" cy="28.81" rx="1.49" ry="1.68" fill="#06065a" transform="rotate(81.5 68.69 28.81)" opacity="0.5" filter="url(#g1)"/>
<ellipse cx="70.09" cy="30.81" rx="1.49" ry="1.68" fill="#06065a" transform="rotate(60.1 70.09 30.81)" opacity="0.5" filter="url(#g1)"/>
<ellipse cx="70.07" cy="30.38" rx="1.49" ry="1.68" fill="#06065a" transform="rotate(117.17 70.07 30.38)" opacity="0.5" filter="url(#g1)"/>
<ellipse cx="70.71" cy="26.66" rx="1.49" ry="1.68" fill="#06065a" transform="rotate(156.52 70.71 26.66)" opacity="0.5" filter="url(#g1)"/>
<ellipse cx="35.86" cy="31.37" rx="4.91" ry="7.01" fill="#2414f0" transform="rotate(15 35.86 31.37)" opacity="0.78" filter="url(#g1)"/>
<ellipse cx="35.85" cy="31.32" rx="1.57" ry="1.68" fill="#06065a" transform="rotate(27.2 35.85 31.32)" opacity="0.5" filter="url(#g1)"/>
<ellipse cx="36.49" cy="29.77" rx="1.57" ry="1.68" fill="#06065a" transform="rotate(175.75 36.49 29.77)" opacity="0.5" filter="url(#g1)"/>
<ellipse cx="35.88" cy="32.59" rx="1.57" ry="1.68" fill="#06065a" transform="rotate(67.72 35.88 32.59)" opacity="0.5" filter="url(#g1)"/>
<ellipse cx="35.92" cy="30.64" rx="1.57" ry="1.68" fill="#06065a" transform="rotate(81.23 35.92 30.64)" opacity="0.5" filter="url(#g1)"/>
<ellipse cx="21.84" cy="31.95" rx="7.01" ry="4.67" fill="#2414f0" transform="rotate(15 21.84 31.95)" opacity="0.78" filter="url(#g1)"/>
<ellipse cx="21.46" cy="31.33" rx="2.24" ry="1.12" fill="#06065a" transform="rotate(48.24 21.46 31.33)" opacity="0.5" filter="url(#g1)"/>
<ellipse cx="23.44" cy="33.57" rx="2.24" ry="1.12" fill="#06065a" transform="rotate(137.4 23.44 33.57)" opacity="0.5" filter="url(#g1)"/>
<ellipse cx="22.03" cy="31.36" rx="2.24" ry="1.12" fill="#06065a" transform="rotate(25.32 22.03 31.36)" opacity="0.5" filter="url(#g1)"/>
<ellipse cx="24.26" cy="30.62" rx="2.24" ry="1.12" fill="#06065a" transform="rotate(26.46 24.26 30.62)" opacity="0.5" filter="url(#g1)"/>
<ellipse cx="8.41" cy="40.13" rx="5.84" ry="5.61" fill="#2414f0" transform="rotate(0 8.41 40.13)" opacity="0.87" filter="url(#g1)"/>
<ellipse cx="10.48" cy="39.81" rx="1.87" ry="1.35" fill="#06065a" transform="rotate(98.61 10.48 39.81)" opacity="0.5" filter="url(#g1)"/>
<ellipse cx="8.63" cy="38.88" rx="1.87" ry="1.35" fill="#06065a" transform="rotate(96.22 8.63 38.88)" opacity="0.5" filter="url(#g1)"/>
<ellipse cx="7.18" cy="39.83" rx="1.87" ry="1.35" fill="#06065a" transform="rotate(68.71 7.18 39.83)" opacity="0.5" filter="url(#g1)"/>
<ellipse cx="8.85" cy="38.36" rx="1.87" ry="1.35" fill="#06065a" transform="rotate(176.81 8.85 38.36)" opacity="0.5" filter="url(#g1)"/>
<ellipse cx="47.54" cy="38.38" rx="6.42" ry="5.26" fill="#2414f0" transform="rotate(0 47.54 38.38)" opacity="0.55" filter="url(#g1)"/>
<ellipse cx="47.47" cy="38.5" rx="2.06" ry="1.26" fill="#06065a" transform="rotate(71.19 47.47 38.5)" opacity="0.5" filter="url(#g1)"/>
<ellipse cx="46.84" cy="36.26" rx="2.06" ry="1.26" fill="#06065a" transform="rotate(105.55 46.84 36.26)" opacity="0.5" filter="url(#g1)"/>
<ellipse cx="48.65" cy="38.43" rx="2.06" ry="1.26" fill="#06065a" transform="rotate(97.3 48.65 38.43)" opacity="0.5" filter="url(#g1)"/>
<ellipse cx="46.53" cy="38.19" rx="2.06" ry="1.26" fill="#06065a" transform="rotate(11.27 46.53 38.19)" opacity="0.5" filter="url(#g1)"/>
<ellipse cx="36.44" cy="2.76" rx="3.5" ry="2.34" fill="#2414f0" transform="rotate(0 36.44 2.76)" opacity="0.74" filter="url(#g1)"/>
<ellipse cx="35.78" cy="3.08" rx="1.12" ry="0.56" fill="#06065a" transform="rotate(46.72 35.78 3.08)" opacity="0.5" filter="url(#g1)"/>
<ellipse cx="36.69" cy="2.46" rx="1.12" ry="0.56" fill="#06065a" transform="rotate(91.11 36.69 2.46)" opacity="0.5" filter="url(#g1)"/>
<ellipse cx="36.54" cy="2.97" rx="1.12" ry="0.56" fill="#06065a" transform="rotate(16.59 36.54 2.97)" opacity="0.5" filter="url(#g1)"/>
<ellipse cx="36.6" cy="2.47" rx="1.12" ry="0.56" fill="#06065a" transform="rotate(104.02 36.6 2.47)" opacity="0.5" filter="url(#g1)"/>
<ellipse cx="70.89" cy="11.51" rx="2.34" ry="4.67" fill="#2414f0" transform="rotate(0 70.89 11.51)" opacity="0.74" filter="url(#g1)"/>
<ellipse cx="70.38" cy="12.79" rx="0.75" ry="1.12" fill="#06065a" transform="rotate(154.25 70.38 12.79)" opacity="0.5" filter="url(#g1)"/>
<ellipse cx="70.92" cy="13.45" rx="0.75" ry="1.12" fill="#06065a" transform="rotate(88.79 70.92 13.45)" opacity="0.5" filter="url(#g1)"/>
<ellipse cx="71.15" cy="10.93" rx="0.75" ry="1.12" fill="#06065a" transform="rotate(83.42 71.15 10.93)" opacity="0.5" filter="url(#g1)"/>
<ellipse cx="71.18" cy="11.84" rx="0.75" ry="1.12" fill="#06065a" transform="rotate(5.46 71.18 11.84)" opacity="0.5" filter="url(#g1)"/>
<ellipse cx="72.64" cy="42.46" rx="1.75" ry="3.5" fill="#2414f0" transform="rotate(0 72.64 42.46)" opacity="0.74" filter="url(#g1)"/>
<ellipse cx="72.55" cy="43.4" rx="0.56" ry="0.84" fill="#06065a" transform="rotate(16.94 72.55 43.4)" opacity="0.5" filter="url(#g1)"/>
<ellipse cx="72.84" cy="43.78" rx="0.56" ry="0.84" fill="#06065a" transform="rotate(101.79 72.84 43.78)" opacity="0.5" filter="url(#g1)"/>
<ellipse cx="72.5" cy="42.29" rx="0.56" ry="0.84" fill="#06065a" transform="rotate(166.59 72.5 42.29)" opacity="0.5" filter="url(#g1)"/>
<ellipse cx="72.63" cy="42.61" rx="0.56" ry="0.84" fill="#06065a" transform="rotate(80.44 72.63 42.61)" opacity="0.5" filter="url(#g1)"/>
<ellipse cx="14.25" cy="2.76" rx="2.92" ry="2.34" fill="#3aee3a" transform="rotate(0 14.25 2.76)" opacity="0.95" filter="url(#g1)"/>
<ellipse cx="25.35" cy="13.27" rx="4.67" ry="1.87" fill="#3aee3a" transform="rotate(20 25.35 13.27)" opacity="0.95" filter="url(#g1)"/>
<ellipse cx="38.78" cy="15.02" rx="2.1" ry="1.64" fill="#3aee3a" transform="rotate(0 38.78 15.02)" opacity="0.95" filter="url(#g1)"/>
<ellipse cx="52.79" cy="2.76" rx="4.09" ry="1.28" fill="#3aee3a" transform="rotate(0 52.79 2.76)" opacity="0.95" filter="url(#g1)"/>
<ellipse cx="9.58" cy="16.77" rx="1.75" ry="1.4" fill="#3aee3a" transform="rotate(0 9.58 16.77)" opacity="0.95" filter="url(#g1)"/>
<ellipse cx="3.16" cy="34.87" rx="1.75" ry="1.4" fill="#3aee3a" transform="rotate(0 3.16 34.87)" opacity="0.95" filter="url(#g1)"/>
<ellipse cx="62.72" cy="29.03" rx="1.64" ry="1.64" fill="#3aee3a" transform="rotate(0 62.72 29.03)" opacity="0.95" filter="url(#g1)"/>
<ellipse cx="55.71" cy="31.95" rx="1.4" ry="1.17" fill="#3aee3a" transform="rotate(0 55.71 31.95)" opacity="0.95" filter="url(#g1)"/>
<ellipse cx="67.97" cy="35.46" rx="1.75" ry="1.17" fill="#3aee3a" transform="rotate(0 67.97 35.46)" opacity="0.95" filter="url(#g1)"/>
<ellipse cx="60.97" cy="44.22" rx="4.09" ry="1.99" fill="#3aee3a" transform="rotate(0 60.97 44.22)" opacity="0.95" filter="url(#g1)"/>
<ellipse cx="28.85" cy="22.03" rx="0.93" ry="0.93" fill="#3aee3a" transform="rotate(0 28.85 22.03)" opacity="0.95" filter="url(#g1)"/>
<ellipse cx="10.75" cy="22.61" rx="1.05" ry="1.64" fill="#3aee3a" transform="rotate(0 10.75 22.61)" opacity="0.95" filter="url(#g1)"/>
<circle cx="43.77" cy="28.73" r="0.35" fill="#3cf03c" opacity="0.85" filter="url(#g0)"/>
<circle cx="19.21" cy="2.73" r="0.35" fill="#3cf03c" opacity="0.85" filter="url(#g0)"/>
<circle cx="72.84" cy="18.23" r="0.35" fill="#3cf03c" opacity="0.85" filter="url(#g0)"/>
<circle cx="4.51" cy="26.39" r="0.6" fill="#3cf03c" opacity="0.85" filter="url(#g0)"/>
<circle cx="34" cy="44.15" r="0.35" fill="#3cf03c" opacity="0.85" filter="url(#g0)"/>
<circle cx="63.31" cy="30.15" r="0.35" fill="#3cf03c" opacity="0.85" filter="url(#g0)"/>
<circle cx="51.97" cy="5.1" r="0.45" fill="#3cf03c" opacity="0.85" filter="url(#g0)"/>
<circle cx="41.69" cy="30.18" r="0.6" fill="#3cf03c" opacity="0.85" filter="url(#g0)"/>
<circle cx="37.49" cy="9.32" r="0.35" fill="#3cf03c" opacity="0.85" filter="url(#g0)"/>
<circle cx="27.68" cy="11.71" r="0.6" fill="#3cf03c" opacity="0.85" filter="url(#g0)"/>
<circle cx="16.87" cy="2.76" r="0.45" fill="#3cf03c" opacity="0.85" filter="url(#g0)"/>
<circle cx="68.97" cy="3.7" r="0.6" fill="#3cf03c" opacity="0.85" filter="url(#g0)"/>
<circle cx="66.32" cy="39.14" r="0.35" fill="#3cf03c" opacity="0.85" filter="url(#g0)"/>
<circle cx="19.49" cy="24.38" r="0.6" fill="#3cf03c" opacity="0.85" filter="url(#g0)"/>
<circle cx="47.65" cy="45.89" r="0.35" fill="#3cf03c" opacity="0.85" filter="url(#g0)"/>
<circle cx="8.14" cy="15.47" r="0.35" fill="#3cf03c" opacity="0.85" filter="url(#g0)"/>
<circle cx="68.84" cy="31.83" r="0.45" fill="#3cf03c" opacity="0.85" filter="url(#g0)"/>
<circle cx="43.53" cy="21.1" r="0.6" fill="#3cf03c" opacity="0.85" filter="url(#g0)"/>
<circle cx="8.45" cy="15.76" r="0.45" fill="#3cf03c" opacity="0.85" filter="url(#g0)"/>
<circle cx="29.06" cy="18.08" r="0.45" fill="#3cf03c" opacity="0.85" filter="url(#g0)"/>
<circle cx="13.03" cy="11.86" r="0.35" fill="#3cf03c" opacity="0.85" filter="url(#g0)"/>
<circle cx="67.02" cy="41.64" r="0.45" fill="#3cf03c" opacity="0.85" filter="url(#g0)"/>
<circle cx="52.75" cy="9.89" r="0.35" fill="#3cf03c" opacity="0.85" filter="url(#g0)"/>
<circle cx="12.18" cy="38.94" r="0.35" fill="#3cf03c" opacity="0.85" filter="url(#g0)"/>
<circle cx="68.45" cy="40.48" r="0.6" fill="#3cf03c" opacity="0.85" filter="url(#g0)"/>
<circle cx="10.94" cy="21.37" r="0.35" fill="#3cf03c" opacity="0.85" filter="url(#g0)"/>
<circle cx="67.87" cy="18.54" r="0.35" fill="#3cf03c" opacity="0.85" filter="url(#g0)"/>
<circle cx="46.32" cy="21.61" r="0.45" fill="#3cf03c" opacity="0.85" filter="url(#g0)"/>
<circle cx="24.18" cy="11.66" r="0.35" fill="#3cf03c" opacity="0.85" filter="url(#g0)"/>
<circle cx="46.31" cy="7.51" r="0.35" fill="#3cf03c" opacity="0.85" filter="url(#g0)"/>
<circle cx="54.12" cy="9.21" r="0.45" fill="#3cf03c" opacity="0.85" filter="url(#g0)"/>
<circle cx="40.89" cy="7.59" r="0.35" fill="#3cf03c" opacity="0.85" filter="url(#g0)"/>
<circle cx="20.11" cy="19.76" r="0.35" fill="#3cf03c" opacity="0.85" filter="url(#g0)"/>
<circle cx="2.66" cy="27.01" r="0.45" fill="#3cf03c" opacity="0.85" filter="url(#g0)"/>
<circle cx="25.04" cy="8.65" r="0.45" fill="#3cf03c" opacity="0.85" filter="url(#g0)"/>
<circle cx="8.73" cy="21.78" r="0.45" fill="#3cf03c" opacity="0.85" filter="url(#g0)"/>
<circle cx="9.09" cy="45.58" r="0.35" fill="#3cf03c" opacity="0.85" filter="url(#g0)"/>
<circle cx="46.51" cy="36.88" r="0.35" fill="#3cf03c" opacity="0.85" filter="url(#g0)"/>
<circle cx="41.36" cy="39.05" r="0.35" fill="#3cf03c" opacity="0.85" filter="url(#g0)"/>
<circle cx="19.49" cy="10.19" r="0.45" fill="#3cf03c" opacity="0.85" filter="url(#g0)"/>
<circle cx="32.1" cy="12.92" r="0.35" fill="#3cf03c" opacity="0.85" filter="url(#g0)"/>
<circle cx="67.8" cy="5.45" r="0.45" fill="#3cf03c" opacity="0.85" filter="url(#g0)"/>
<circle cx="30.92" cy="8.39" r="0.6" fill="#3cf03c" opacity="0.85" filter="url(#g0)"/>
<circle cx="71.67" cy="7.58" r="0.6" fill="#3cf03c" opacity="0.85" filter="url(#g0)"/>
<circle cx="1.98" cy="37.76" r="0.45" fill="#3cf03c" opacity="0.85" filter="url(#g0)"/>
<circle cx="37.8" cy="21.18" r="0.6" fill="#3cf03c" opacity="0.85" filter="url(#g0)"/>
<circle cx="21.56" cy="17.41" r="0.35" fill="#3cf03c" opacity="0.85" filter="url(#g0)"/>
<circle cx="66.86" cy="10.95" r="0.6" fill="#3cf03c" opacity="0.85" filter="url(#g0)"/>
<circle cx="13.9" cy="39.42" r="0.6" fill="#3cf03c" opacity="0.85" filter="url(#g0)"/>
<circle cx="56.61" cy="33.42" r="0.35" fill="#3cf03c" opacity="0.85" filter="url(#g0)"/>
<circle cx="44.31" cy="38.76" r="0.6" fill="#3cf03c" opacity="0.85" filter="url(#g0)"/>
<circle cx="53.74" cy="35.68" r="0.35" fill="#3cf03c" opacity="0.85" filter="url(#g0)"/>
<circle cx="15.74" cy="28.9" r="0.6" fill="#3cf03c" opacity="0.85" filter="url(#g0)"/>
<circle cx="46.32" cy="9.76" r="0.45" fill="#3cf03c" opacity="0.85" filter="url(#g0)"/>
<circle cx="15.47" cy="4" r="0.6" fill="#3cf03c" opacity="0.85" filter="url(#g0)"/>
<circle cx="38.44" cy="39.31" r="0.35" fill="#3cf03c" opacity="0.85" filter="url(#g0)"/>
<circle cx="38.36" cy="16.84" r="0.45" fill="#3cf03c" opacity="0.85" filter="url(#g0)"/>
<circle cx="61.78" cy="40.38" r="0.45" fill="#3cf03c" opacity="0.85" filter="url(#g0)"/>
<circle cx="7.36" cy="19.66" r="0.45" fill="#3cf03c" opacity="0.85" filter="url(#g0)"/>
<circle cx="10.47" cy="31.31" r="0.35" fill="#3cf03c" opacity="0.85" filter="url(#g0)"/>
<circle cx="14.29" cy="38.88" r="0.45" fill="#3cf03c" opacity="0.85" filter="url(#g0)"/>
<circle cx="3.47" cy="32.99" r="0.6" fill="#3cf03c" opacity="0.85" filter="url(#g0)"/>
<circle cx="43.9" cy="1.21" r="0.6" fill="#3cf03c" opacity="0.85" filter="url(#g0)"/>
<circle cx="68.31" cy="45.13" r="0.35" fill="#3cf03c" opacity="0.85" filter="url(#g0)"/>
<circle cx="9.56" cy="33.55" r="0.45" fill="#3cf03c" opacity="0.85" filter="url(#g0)"/>
<circle cx="57.24" cy="40.54" r="0.6" fill="#3cf03c" opacity="0.85" filter="url(#g0)"/>
<circle cx="55.22" cy="3.79" r="0.35" fill="#3cf03c" opacity="0.85" filter="url(#g0)"/>
<circle cx="69.9" cy="23.54" r="0.6" fill="#3cf03c" opacity="0.85" filter="url(#g0)"/>
<circle cx="2.68" cy="37.65" r="0.35" fill="#3cf03c" opacity="0.85" filter="url(#g0)"/>
<circle cx="2.32" cy="45.07" r="0.35" fill="#3cf03c" opacity="0.85" filter="url(#g0)"/>
<line x1="51.1" y1="44.9" x2="71.9" y2="44.9" stroke="#f0f0f0" stroke-width="0.7"/>
<text x="61.5" y="43.1" font-size="5.5" text-anchor="middle" fill="#fff">25 μm</text>
<text x="37.2" y="12.7" font-size="8.85" text-anchor="middle" fill="#fff">45<tspan font-size="5.31" dy="-3.19">o</tspan><tspan dy="3.19">C+OA+DMSO</tspan></text>
</svg>
<svg x="604.1" y="698.5" width="73.9" height="47.3">
<rect x="0" y="0" width="73.9" height="47.3" fill="#000"/>
<ellipse cx="36.44" cy="23.19" rx="38.54" ry="24.53" fill="#0c0a70" opacity="0.28" filter="url(#g3)"/>
<ellipse cx="8.41" cy="23.19" rx="8.41" ry="8.18" fill="#2414f0" transform="rotate(0 8.41 23.19)" opacity="0.87" filter="url(#g1)"/>
<ellipse cx="7.94" cy="22.77" rx="2.69" ry="1.96" fill="#06065a" transform="rotate(56.14 7.94 22.77)" opacity="0.5" filter="url(#g1)"/>
<ellipse cx="5.01" cy="22" rx="2.69" ry="1.96" fill="#06065a" transform="rotate(3.5 5.01 22)" opacity="0.5" filter="url(#g1)"/>
<ellipse cx="10.91" cy="21.97" rx="2.69" ry="1.96" fill="#06065a" transform="rotate(47.06 10.91 21.97)" opacity="0.5" filter="url(#g1)"/>
<ellipse cx="9.66" cy="21.19" rx="2.69" ry="1.96" fill="#06065a" transform="rotate(83.51 9.66 21.19)" opacity="0.5" filter="url(#g1)"/>
<ellipse cx="9.58" cy="40.13" rx="9.11" ry="6.42" fill="#2414f0" transform="rotate(0 9.58 40.13)" opacity="0.87" filter="url(#g1)"/>
<ellipse cx="9.71" cy="41.41" rx="2.92" ry="1.54" fill="#06065a" transform="rotate(63.13 9.71 41.41)" opacity="0.5" filter="url(#g1)"/>
<ellipse cx="10.19" cy="40.42" rx="2.92" ry="1.54" fill="#06065a" transform="rotate(49.14 10.19 40.42)" opacity="0.5" filter="url(#g1)"/>
<ellipse cx="7.24" cy="40.5" rx="2.92" ry="1.54" fill="#06065a" transform="rotate(137.07 7.24 40.5)" opacity="0.5" filter="url(#g1)"/>
<ellipse cx="9.96" cy="40.35" rx="2.92" ry="1.54" fill="#06065a" transform="rotate(159.2 9.96 40.35)" opacity="0.5" filter="url(#g1)"/>
<ellipse cx="28.85" cy="16.77" rx="6.42" ry="5.84" fill="#2414f0" transform="rotate(0 28.85 16.77)" opacity="0.74" filter="url(#g1)"/>
<ellipse cx="28.21" cy="16.62" rx="2.06" ry="1.4" fill="#06065a" transform="rotate(40.87 28.21 16.62)" opacity="0.5" filter="url(#g1)"/>
<ellipse cx="28.19" cy="15.71" rx="2.06" ry="1.4" fill="#06065a" transform="rotate(71.39 28.19 15.71)" opacity="0.5" filter="url(#g1)"/>
<ellipse cx="28.9" cy="16.75" rx="2.06" ry="1.4" fill="#06065a" transform="rotate(114.3 28.9 16.75)" opacity="0.5" filter="url(#g1)"/>
<ellipse cx="28.25" cy="15.3" rx="2.06" ry="1.4" fill="#06065a" transform="rotate(108.5 28.25 15.3)" opacity="0.5" filter="url(#g1)"/>
<ellipse cx="39.36" cy="24.95" rx="5.26" ry="4.67" fill="#2414f0" transform="rotate(0 39.36 24.95)" opacity="0.69" filter="url(#g1)"/>
<ellipse cx="41.6" cy="25.41" rx="1.68" ry="1.12" fill="#06065a" transform="rotate(9.35 41.6 25.41)" opacity="0.5" filter="url(#g1)"/>
<ellipse cx="38.74" cy="25.58" rx="1.68" ry="1.12" fill="#06065a" transform="rotate(150.94 38.74 25.58)" opacity="0.5" filter="url(#g1)"/>
<ellipse cx="38.93" cy="23.22" rx="1.68" ry="1.12" fill="#06065a" transform="rotate(101.6 38.93 23.22)" opacity="0.5" filter="url(#g1)"/>
<ellipse cx="40.11" cy="24.88" rx="1.68" ry="1.12" fill="#06065a" transform="rotate(72.11 40.11 24.88)" opacity="0.5" filter="url(#g1)"/>
<ellipse cx="29.43" cy="31.37" rx="4.67" ry="5.84" fill="#2414f0" transform="rotate(0 29.43 31.37)" opacity="0.64" filter="url(#g1)"/>
<ellipse cx="28.8" cy="31.05" rx="1.49" ry="1.4" fill="#06065a" transform="rotate(26.39 28.8 31.05)" opacity="0.5" filter="url(#g1)"/>
<ellipse cx="29.12" cy="30.53" rx="1.49" ry="1.4" fill="#06065a" transform="rotate(156.69 29.12 30.53)" opacity="0.5" filter="url(#g1)"/>
<ellipse cx="29.42" cy="31.34" rx="1.49" ry="1.4" fill="#06065a" transform="rotate(19.62 29.42 31.34)" opacity="0.5" filter="url(#g1)"/>
<ellipse cx="29.69" cy="32.16" rx="1.49" ry="1.4" fill="#06065a" transform="rotate(36.14 29.69 32.16)" opacity="0.5" filter="url(#g1)"/>
<ellipse cx="56.29" cy="29.62" rx="5.84" ry="5.61" fill="#2414f0" transform="rotate(0 56.29 29.62)" opacity="0.74" filter="url(#g1)"/>
<ellipse cx="56" cy="29.12" rx="1.87" ry="1.35" fill="#06065a" transform="rotate(75.73 56 29.12)" opacity="0.5" filter="url(#g1)"/>
<ellipse cx="54.2" cy="31.14" rx="1.87" ry="1.35" fill="#06065a" transform="rotate(81.67 54.2 31.14)" opacity="0.5" filter="url(#g1)"/>
<ellipse cx="58.76" cy="30.33" rx="1.87" ry="1.35" fill="#06065a" transform="rotate(175.19 58.76 30.33)" opacity="0.5" filter="url(#g1)"/>
<ellipse cx="58.5" cy="30.16" rx="1.87" ry="1.35" fill="#06065a" transform="rotate(111.77 58.5 30.16)" opacity="0.5" filter="url(#g1)"/>
<ellipse cx="67.39" cy="17.35" rx="5.26" ry="5.84" fill="#2414f0" transform="rotate(0 67.39 17.35)" opacity="0.64" filter="url(#g1)"/>
<ellipse cx="68.67" cy="16.54" rx="1.68" ry="1.4" fill="#06065a" transform="rotate(113.08 68.67 16.54)" opacity="0.5" filter="url(#g1)"/>
<ellipse cx="67.42" cy="17.27" rx="1.68" ry="1.4" fill="#06065a" transform="rotate(18.09 67.42 17.27)" opacity="0.5" filter="url(#g1)"/>
<ellipse cx="67.41" cy="17.38" rx="1.68" ry="1.4" fill="#06065a" transform="rotate(42.6 67.41 17.38)" opacity="0.5" filter="url(#g1)"/>
<ellipse cx="67.65" cy="17.43" rx="1.68" ry="1.4" fill="#06065a" transform="rotate(62.56 67.65 17.43)" opacity="0.5" filter="url(#g1)"/>
<ellipse cx="64.47" cy="23.19" rx="4.09" ry="4.09" fill="#2414f0" transform="rotate(0 64.47 23.19)" opacity="0.64" filter="url(#g1)"/>
<ellipse cx="64.52" cy="23.29" rx="1.31" ry="0.98" fill="#06065a" transform="rotate(172.63 64.52 23.29)" opacity="0.5" filter="url(#g1)"/>
<ellipse cx="65.93" cy="22.4" rx="1.31" ry="0.98" fill="#06065a" transform="rotate(15.21 65.93 22.4)" opacity="0.5" filter="url(#g1)"/>
<ellipse cx="63.02" cy="22.28" rx="1.31" ry="0.98" fill="#06065a" transform="rotate(79.2 63.02 22.28)" opacity="0.5" filter="url(#g1)"/>
<ellipse cx="62.85" cy="23.08" rx="1.31" ry="0.98" fill="#06065a" transform="rotate(164.81 62.85 23.08)" opacity="0.5" filter="url(#g1)"/>
<ellipse cx="50.45" cy="36.62" rx="4.67" ry="4.67" fill="#2414f0" transform="rotate(0 50.45 36.62)" opacity="0.69" filter="url(#g1)"/>
<ellipse cx="49.94" cy="36.36" rx="1.49" ry="1.12" fill="#06065a" transform="rotate(132.47 49.94 36.36)" opacity="0.5" filter="url(#g1)"/>
<ellipse cx="50.42" cy="36.02" rx="1.49" ry="1.12" fill="#06065a" transform="rotate(81.75 50.42 36.02)" opacity="0.5" filter="url(#g1)"/>
<ellipse cx="50.3" cy="36.19" rx="1.49" ry="1.12" fill="#06065a" transform="rotate(69.6 50.3 36.19)" opacity="0.5" filter="url(#g1)"/>
<ellipse cx="49.72" cy="36.39" rx="1.49" ry="1.12" fill="#06065a" transform="rotate(160.53 49.72 36.39)" opacity="0.5" filter="url(#g1)"/>
<ellipse cx="41.11" cy="40.13" rx="4.44" ry="5.26" fill="#2414f0" transform="rotate(0 41.11 40.13)" opacity="0.74" filter="url(#g1)"/>
<ellipse cx="40.8" cy="41.19" rx="1.42" ry="1.26" fill="#06065a" transform="rotate(147.39 40.8 41.19)" opacity="0.5" filter="url(#g1)"/>
<ellipse cx="41.77" cy="40.28" rx="1.42" ry="1.26" fill="#06065a" transform="rotate(33.98 41.77 40.28)" opacity="0.5" filter="url(#g1)"/>
<ellipse cx="39.25" cy="39.48" rx="1.42" ry="1.26" fill="#06065a" transform="rotate(71.36 39.25 39.48)" opacity="0.5" filter="url(#g1)"/>
<ellipse cx="41.4" cy="39.95" rx="1.42" ry="1.26" fill="#06065a" transform="rotate(171.37 41.4 39.95)" opacity="0.5" filter="url(#g1)"/>
<ellipse cx="28.26" cy="43.63" rx="4.67" ry="3.5" fill="#2414f0" transform="rotate(0 28.26 43.63)" opacity="0.74" filter="url(#g1)"/>
<ellipse cx="27.96" cy="44.09" rx="1.49" ry="0.84" fill="#06065a" transform="rotate(48.59 27.96 44.09)" opacity="0.5" filter="url(#g1)"/>
<ellipse cx="28.59" cy="43.39" rx="1.49" ry="0.84" fill="#06065a" transform="rotate(10.24 28.59 43.39)" opacity="0.5" filter="url(#g1)"/>
<ellipse cx="29.41" cy="43.75" rx="1.49" ry="0.84" fill="#06065a" transform="rotate(109.07 29.41 43.75)" opacity="0.5" filter="url(#g1)"/>
<ellipse cx="27.47" cy="44.48" rx="1.49" ry="0.84" fill="#06065a" transform="rotate(93.06 27.47 44.48)" opacity="0.5" filter="url(#g1)"/>
<ellipse cx="14.25" cy="5.68" rx="5.84" ry="3.5" fill="#2414f0" transform="rotate(0 14.25 5.68)" opacity="0.74" filter="url(#g1)"/>
<ellipse cx="14.72" cy="5.19" rx="1.87" ry="0.84" fill="#06065a" transform="rotate(137.31 14.72 5.19)" opacity="0.5" filter="url(#g1)"/>
<ellipse cx="11.67" cy="5.47" rx="1.87" ry="0.84" fill="#06065a" transform="rotate(121.98 11.67 5.47)" opacity="0.5" filter="url(#g1)"/>
<ellipse cx="15.25" cy="5.41" rx="1.87" ry="0.84" fill="#06065a" transform="rotate(120.28 15.25 5.41)" opacity="0.5" filter="url(#g1)"/>
<ellipse cx="14.59" cy="5.92" rx="1.87" ry="0.84" fill="#06065a" transform="rotate(109.94 14.59 5.92)" opacity="0.5" filter="url(#g1)"/>
<ellipse cx="36.44" cy="2.17" rx="6.42" ry="2.1" fill="#2414f0" transform="rotate(0 36.44 2.17)" opacity="0.74" filter="url(#g1)"/>
<ellipse cx="36.04" cy="2.95" rx="2.06" ry="0.5" fill="#06065a" transform="rotate(17.11 36.04 2.95)" opacity="0.5" filter="url(#g1)"/>
<ellipse cx="38.08" cy="1.49" rx="2.06" ry="0.5" fill="#06065a" transform="rotate(179.21 38.08 1.49)" opacity="0.5" filter="url(#g1)"/>
<ellipse cx="36.23" cy="2.76" rx="2.06" ry="0.5" fill="#06065a" transform="rotate(113.78 36.23 2.76)" opacity="0.5" filter="url(#g1)"/>
<ellipse cx="36.09" cy="1.8" rx="2.06" ry="0.5" fill="#06065a" transform="rotate(18.6 36.09 1.8)" opacity="0.5" filter="url(#g1)"/>
<ellipse cx="59.8" cy="4.51" rx="9.93" ry="2.92" fill="#2414f0" transform="rotate(-10 59.8 4.51)" opacity="0.74" filter="url(#g1)"/>
<ellipse cx="57.72" cy="4.89" rx="3.18" ry="0.7" fill="#06065a" transform="rotate(21.14 57.72 4.89)" opacity="0.5" filter="url(#g1)"/>
<ellipse cx="56.25" cy="5.29" rx="3.18" ry="0.7" fill="#06065a" transform="rotate(26.93 56.25 5.29)" opacity="0.5" filter="url(#g1)"/>
<ellipse cx="60.53" cy="4.21" rx="3.18" ry="0.7" fill="#06065a" transform="rotate(111.85 60.53 4.21)" opacity="0.5" filter="url(#g1)"/>
<ellipse cx="62.71" cy="5.23" rx="3.18" ry="0.7" fill="#06065a" transform="rotate(124.68 62.71 5.23)" opacity="0.5" filter="url(#g1)"/>
<ellipse cx="70.31" cy="36.04" rx="1.75" ry="2.92" fill="#2414f0" transform="rotate(0 70.31 36.04)" opacity="0.64" filter="url(#g1)"/>
<ellipse cx="70.24" cy="36.49" rx="0.56" ry="0.7" fill="#06065a" transform="rotate(63.53 70.24 36.49)" opacity="0.5" filter="url(#g1)"/>
<ellipse cx="69.85" cy="35.91" rx="0.56" ry="0.7" fill="#06065a" transform="rotate(116.68 69.85 35.91)" opacity="0.5" filter="url(#g1)"/>
<ellipse cx="70.9" cy="36.08" rx="0.56" ry="0.7" fill="#06065a" transform="rotate(178.15 70.9 36.08)" opacity="0.5" filter="url(#g1)"/>
<ellipse cx="70.14" cy="36.31" rx="0.56" ry="0.7" fill="#06065a" transform="rotate(96.64 70.14 36.31)" opacity="0.5" filter="url(#g1)"/>
<circle cx="58.96" cy="28.76" r="0.45" fill="#3cf03c" opacity="0.7" filter="url(#g0)"/>
<circle cx="42.93" cy="17.79" r="0.45" fill="#3cf03c" opacity="0.7" filter="url(#g0)"/>
<circle cx="24.27" cy="41.61" r="0.35" fill="#3cf03c" opacity="0.7" filter="url(#g0)"/>
<circle cx="70.24" cy="21.46" r="0.45" fill="#3cf03c" opacity="0.7" filter="url(#g0)"/>
<circle cx="65.35" cy="45.16" r="0.35" fill="#3cf03c" opacity="0.7" filter="url(#g0)"/>
<circle cx="4.25" cy="32.83" r="0.45" fill="#3cf03c" opacity="0.7" filter="url(#g0)"/>
<circle cx="22.53" cy="31.93" r="0.45" fill="#3cf03c" opacity="0.7" filter="url(#g0)"/>
<circle cx="39.81" cy="46.5" r="0.6" fill="#3cf03c" opacity="0.7" filter="url(#g0)"/>
<circle cx="60.61" cy="37.95" r="0.45" fill="#3cf03c" opacity="0.7" filter="url(#g0)"/>
<circle cx="29.02" cy="26.3" r="0.6" fill="#3cf03c" opacity="0.7" filter="url(#g0)"/>
<circle cx="49.78" cy="29.3" r="0.35" fill="#3cf03c" opacity="0.7" filter="url(#g0)"/>
<circle cx="49.8" cy="31.58" r="0.35" fill="#3cf03c" opacity="0.7" filter="url(#g0)"/>
<circle cx="30.47" cy="30.81" r="0.6" fill="#3cf03c" opacity="0.7" filter="url(#g0)"/>
<circle cx="41.47" cy="33.12" r="0.35" fill="#3cf03c" opacity="0.7" filter="url(#g0)"/>
<circle cx="70.66" cy="30.37" r="0.45" fill="#3cf03c" opacity="0.7" filter="url(#g0)"/>
<circle cx="56.38" cy="43.37" r="0.6" fill="#3cf03c" opacity="0.7" filter="url(#g0)"/>
<circle cx="25.68" cy="31.74" r="0.35" fill="#3cf03c" opacity="0.7" filter="url(#g0)"/>
<circle cx="13.18" cy="25.05" r="0.35" fill="#3cf03c" opacity="0.7" filter="url(#g0)"/>
<circle cx="60.63" cy="31.18" r="0.35" fill="#3cf03c" opacity="0.7" filter="url(#g0)"/>
<circle cx="48.31" cy="24.32" r="0.45" fill="#3cf03c" opacity="0.7" filter="url(#g0)"/>
<circle cx="60.24" cy="46.24" r="0.45" fill="#3cf03c" opacity="0.7" filter="url(#g0)"/>
<circle cx="46.52" cy="31.54" r="0.6" fill="#3cf03c" opacity="0.7" filter="url(#g0)"/>
<circle cx="15.87" cy="43.18" r="0.45" fill="#3cf03c" opacity="0.7" filter="url(#g0)"/>
<circle cx="14.03" cy="34.89" r="0.6" fill="#3cf03c" opacity="0.7" filter="url(#g0)"/>
<circle cx="8.54" cy="32.99" r="0.6" fill="#3cf03c" opacity="0.7" filter="url(#g0)"/>
<circle cx="46.91" cy="16.35" r="0.45" fill="#3cf03c" opacity="0.7" filter="url(#g0)"/>
<circle cx="1.6" cy="15.11" r="0.6" fill="#3cf03c" opacity="0.7" filter="url(#g0)"/>
<circle cx="50.83" cy="15.14" r="0.45" fill="#3cf03c" opacity="0.7" filter="url(#g0)"/>
<circle cx="29.61" cy="18.12" r="0.35" fill="#3cf03c" opacity="0.7" filter="url(#g0)"/>
<circle cx="49.2" cy="21.22" r="0.45" fill="#3cf03c" opacity="0.7" filter="url(#g0)"/>
<line x1="51.1" y1="44.9" x2="71.5" y2="44.9" stroke="#f0f0f0" stroke-width="0.7"/>
<text x="61.3" y="43.1" font-size="5.5" text-anchor="middle" fill="#fff">25 μm</text>
<text x="36.9" y="12.7" font-size="8.85" text-anchor="middle" fill="#fff">45<tspan font-size="5.31" dy="-3.19">o</tspan><tspan dy="3.19">C+OA+T0</tspan></text>
</svg>
<text x="498" y="764" font-size="15" font-weight="bold">M</text>
<svg x="526.1" y="754.7" width="73.9" height="47.3">
<rect x="0" y="0" width="73.9" height="47.3" fill="#000"/>
<circle cx="22.53" cy="1.63" r="1.88" fill="#e81818" opacity="0.64" filter="url(#gc)"/>
<circle cx="22.43" cy="2.56" r="1.5" fill="#4640ff" opacity="1" filter="url(#gc)"/>
<circle cx="25.08" cy="1.82" r="1.88" fill="#e81818" opacity="0.64" filter="url(#gc)"/>
<circle cx="25.93" cy="2.21" r="1.5" fill="#4640ff" opacity="1" filter="url(#gc)"/>
<circle cx="43.51" cy="8.3" r="1.88" fill="#e81818" opacity="0.64" filter="url(#gc)"/>
<circle cx="42.86" cy="8.98" r="1.5" fill="#4640ff" opacity="1" filter="url(#gc)"/>
<circle cx="52.59" cy="18.33" r="1.88" fill="#e81818" opacity="0.64" filter="url(#gc)"/>
<circle cx="51.86" cy="18.91" r="1.5" fill="#4640ff" opacity="1" filter="url(#gc)"/>
<circle cx="70.78" cy="14.5" r="1.88" fill="#e81818" opacity="0.64" filter="url(#gc)"/>
<circle cx="71.71" cy="14.58" r="1.5" fill="#4640ff" opacity="1" filter="url(#gc)"/>
<circle cx="32.11" cy="28.16" r="1.88" fill="#e81818" opacity="0.64" filter="url(#gc)"/>
<circle cx="31.54" cy="27.43" r="1.5" fill="#4640ff" opacity="1" filter="url(#gc)"/>
<circle cx="47.83" cy="31.47" r="1.88" fill="#e81818" opacity="0.64" filter="url(#gc)"/>
<circle cx="47.54" cy="30.58" r="1.5" fill="#4640ff" opacity="1" filter="url(#gc)"/>
<circle cx="51.46" cy="31.2" r="1.88" fill="#e81818" opacity="0.64" filter="url(#gc)"/>
<circle cx="52.21" cy="31.75" r="1.5" fill="#4640ff" opacity="1" filter="url(#gc)"/>
<circle cx="56.87" cy="29.57" r="1.88" fill="#e81818" opacity="0.64" filter="url(#gc)"/>
<circle cx="56.29" cy="28.83" r="1.5" fill="#4640ff" opacity="1" filter="url(#gc)"/>
<circle cx="35.28" cy="33.16" r="1.88" fill="#e81818" opacity="0.64" filter="url(#gc)"/>
<circle cx="36.21" cy="33.27" r="1.5" fill="#4640ff" opacity="1" filter="url(#gc)"/>
<circle cx="57.46" cy="34.03" r="1.88" fill="#e81818" opacity="0.64" filter="url(#gc)"/>
<circle cx="58.4" cy="34.09" r="1.5" fill="#4640ff" opacity="1" filter="url(#gc)"/>
<circle cx="22.76" cy="43.02" r="1.88" fill="#e81818" opacity="0.64" filter="url(#gc)"/>
<circle cx="21.84" cy="42.85" r="1.5" fill="#4640ff" opacity="1" filter="url(#gc)"/>
<circle cx="51.28" cy="43.51" r="1.88" fill="#e81818" opacity="0.64" filter="url(#gc)"/>
<circle cx="50.45" cy="43.08" r="1.5" fill="#4640ff" opacity="1" filter="url(#gc)"/>
<circle cx="56.24" cy="41.38" r="1.88" fill="#e81818" opacity="0.64" filter="url(#gc)"/>
<circle cx="55.36" cy="41.68" r="1.5" fill="#4640ff" opacity="1" filter="url(#gc)"/>
<circle cx="58.63" cy="41.97" r="1.88" fill="#e81818" opacity="0.64" filter="url(#gc)"/>
<circle cx="59.56" cy="41.91" r="1.5" fill="#4640ff" opacity="1" filter="url(#gc)"/>
<circle cx="64.14" cy="46.31" r="1.88" fill="#e81818" opacity="0.64" filter="url(#gc)"/>
<circle cx="65.05" cy="46.12" r="1.5" fill="#4640ff" opacity="1" filter="url(#gc)"/>
<line x1="2.9" y1="44.6" x2="17.6" y2="44.6" stroke="#f0f0f0" stroke-width="1.2"/>
<text x="10.25" y="42.8" font-size="5.4" text-anchor="middle" fill="#fff">50um</text>
<text x="37.1" y="10.7" font-size="8.85" text-anchor="middle" fill="#fff">siCtrl-37<tspan font-size="5.31" dy="-3.19">o</tspan><tspan dy="3.19">C</tspan></text>
</svg>
<svg x="604.1" y="754.7" width="73.9" height="47.3">
<rect x="0" y="0" width="73.9" height="47.3" fill="#000"/>
<circle cx="1.14" cy="9.37" r="1.2" fill="#e81818" opacity="0.24" filter="url(#gc)"/>
<circle cx="1.99" cy="8.98" r="1.5" fill="#4640ff" opacity="1" filter="url(#gc)"/>
<circle cx="9.28" cy="19.18" r="1.2" fill="#e81818" opacity="0.24" filter="url(#gc)"/>
<circle cx="8.99" cy="20.07" r="1.5" fill="#4640ff" opacity="1" filter="url(#gc)"/>
<circle cx="1.79" cy="27.49" r="1.2" fill="#e81818" opacity="0.24" filter="url(#gc)"/>
<circle cx="2.34" cy="28.25" r="1.5" fill="#4640ff" opacity="1" filter="url(#gc)"/>
<circle cx="11.54" cy="27.04" r="1.2" fill="#e81818" opacity="0.24" filter="url(#gc)"/>
<circle cx="11.91" cy="27.9" r="1.5" fill="#4640ff" opacity="1" filter="url(#gc)"/>
<circle cx="10.51" cy="34.23" r="1.2" fill="#e81818" opacity="0.24" filter="url(#gc)"/>
<circle cx="11.33" cy="34.67" r="1.5" fill="#4640ff" opacity="1" filter="url(#gc)"/>
<circle cx="18.92" cy="34.24" r="1.2" fill="#e81818" opacity="0.24" filter="url(#gc)"/>
<circle cx="18.34" cy="33.5" r="1.5" fill="#4640ff" opacity="1" filter="url(#gc)"/>
<circle cx="22.73" cy="26.84" r="1.2" fill="#e81818" opacity="0.24" filter="url(#gc)"/>
<circle cx="22.66" cy="25.91" r="1.5" fill="#4640ff" opacity="1" filter="url(#gc)"/>
<circle cx="27.53" cy="18.66" r="1.2" fill="#e81818" opacity="0.24" filter="url(#gc)"/>
<circle cx="27.68" cy="17.74" r="1.5" fill="#4640ff" opacity="1" filter="url(#gc)"/>
<circle cx="31.75" cy="26.69" r="1.2" fill="#e81818" opacity="0.24" filter="url(#gc)"/>
<circle cx="30.83" cy="26.5" r="1.5" fill="#4640ff" opacity="1" filter="url(#gc)"/>
<circle cx="25.87" cy="31.66" r="1.2" fill="#e81818" opacity="0.24" filter="url(#gc)"/>
<circle cx="26.51" cy="32.34" r="1.5" fill="#4640ff" opacity="1" filter="url(#gc)"/>
<circle cx="30.26" cy="31.03" r="1.2" fill="#e81818" opacity="0.24" filter="url(#gc)"/>
<circle cx="29.67" cy="31.75" r="1.5" fill="#4640ff" opacity="1" filter="url(#gc)"/>
<circle cx="33.24" cy="33.78" r="1.2" fill="#e81818" opacity="0.24" filter="url(#gc)"/>
<circle cx="32.35" cy="34.09" r="1.5" fill="#4640ff" opacity="1" filter="url(#gc)"/>
<circle cx="36.72" cy="32.11" r="1.2" fill="#e81818" opacity="0.24" filter="url(#gc)"/>
<circle cx="35.86" cy="31.75" r="1.5" fill="#4640ff" opacity="1" filter="url(#gc)"/>
<circle cx="39.11" cy="26.2" r="1.2" fill="#e81818" opacity="0.24" filter="url(#gc)"/>
<circle cx="38.78" cy="25.33" r="1.5" fill="#4640ff" opacity="1" filter="url(#gc)"/>
<circle cx="35.77" cy="19.42" r="1.2" fill="#e81818" opacity="0.24" filter="url(#gc)"/>
<circle cx="36.44" cy="20.07" r="1.5" fill="#4640ff" opacity="1" filter="url(#gc)"/>
<circle cx="39.7" cy="17.27" r="1.2" fill="#e81818" opacity="0.24" filter="url(#gc)"/>
<circle cx="38.78" cy="17.15" r="1.5" fill="#4640ff" opacity="1" filter="url(#gc)"/>
<circle cx="40.35" cy="15.15" r="1.2" fill="#e81818" opacity="0.24" filter="url(#gc)"/>
<circle cx="40.18" cy="14.23" r="1.5" fill="#4640ff" opacity="1" filter="url(#gc)"/>
<circle cx="44.81" cy="21.81" r="1.2" fill="#e81818" opacity="0.24" filter="url(#gc)"/>
<circle cx="45.55" cy="21.24" r="1.5" fill="#4640ff" opacity="1" filter="url(#gc)"/>
<circle cx="49.95" cy="19.73" r="1.2" fill="#e81818" opacity="0.24" filter="url(#gc)"/>
<circle cx="49.87" cy="20.66" r="1.5" fill="#4640ff" opacity="1" filter="url(#gc)"/>
<circle cx="50.19" cy="16.24" r="1.2" fill="#e81818" opacity="0.24" filter="url(#gc)"/>
<circle cx="49.29" cy="15.99" r="1.5" fill="#4640ff" opacity="1" filter="url(#gc)"/>
<circle cx="50.17" cy="12.21" r="1.2" fill="#e81818" opacity="0.24" filter="url(#gc)"/>
<circle cx="49.29" cy="11.9" r="1.5" fill="#4640ff" opacity="1" filter="url(#gc)"/>
<circle cx="55.2" cy="13.41" r="1.2" fill="#e81818" opacity="0.24" filter="url(#gc)"/>
<circle cx="55.13" cy="12.48" r="1.5" fill="#4640ff" opacity="1" filter="url(#gc)"/>
<circle cx="49.45" cy="4.06" r="1.2" fill="#e81818" opacity="0.24" filter="url(#gc)"/>
<circle cx="49.29" cy="3.14" r="1.5" fill="#4640ff" opacity="1" filter="url(#gc)"/>
<circle cx="55.63" cy="4.51" r="1.2" fill="#e81818" opacity="0.24" filter="url(#gc)"/>
<circle cx="55.13" cy="3.72" r="1.5" fill="#4640ff" opacity="1" filter="url(#gc)"/>
<circle cx="60.75" cy="2.66" r="1.2" fill="#e81818" opacity="0.24" filter="url(#gc)"/>
<circle cx="61.55" cy="3.14" r="1.5" fill="#4640ff" opacity="1" filter="url(#gc)"/>
<circle cx="59.06" cy="11.56" r="1.2" fill="#e81818" opacity="0.24" filter="url(#gc)"/>
<circle cx="58.63" cy="10.73" r="1.5" fill="#4640ff" opacity="1" filter="url(#gc)"/>
<circle cx="64.82" cy="12.52" r="1.2" fill="#e81818" opacity="0.24" filter="url(#gc)"/>
<circle cx="63.89" cy="12.48" r="1.5" fill="#4640ff" opacity="1" filter="url(#gc)"/>
<circle cx="64.86" cy="17.63" r="1.2" fill="#e81818" opacity="0.24" filter="url(#gc)"/>
<circle cx="64.24" cy="18.32" r="1.5" fill="#4640ff" opacity="1" filter="url(#gc)"/>
<circle cx="67.08" cy="23.84" r="1.2" fill="#e81818" opacity="0.24" filter="url(#gc)"/>
<circle cx="67.97" cy="23.58" r="1.5" fill="#4640ff" opacity="1" filter="url(#gc)"/>
<circle cx="70.43" cy="22.29" r="1.2" fill="#e81818" opacity="0.24" filter="url(#gc)"/>
<circle cx="71.24" cy="21.83" r="1.5" fill="#4640ff" opacity="1" filter="url(#gc)"/>
<circle cx="68.2" cy="28.37" r="1.2" fill="#e81818" opacity="0.24" filter="url(#gc)"/>
<circle cx="68.21" cy="27.43" r="1.5" fill="#4640ff" opacity="1" filter="url(#gc)"/>
<circle cx="72.42" cy="29.97" r="1.2" fill="#e81818" opacity="0.24" filter="url(#gc)"/>
<circle cx="71.71" cy="30.58" r="1.5" fill="#4640ff" opacity="1" filter="url(#gc)"/>
<circle cx="71.82" cy="38.05" r="1.2" fill="#e81818" opacity="0.24" filter="url(#gc)"/>
<circle cx="70.89" cy="38.18" r="1.5" fill="#4640ff" opacity="1" filter="url(#gc)"/>
<circle cx="49.9" cy="31.79" r="1.2" fill="#e81818" opacity="0.24" filter="url(#gc)"/>
<circle cx="49.05" cy="31.4" r="1.5" fill="#4640ff" opacity="1" filter="url(#gc)"/>
<circle cx="39.76" cy="38.27" r="1.2" fill="#e81818" opacity="0.24" filter="url(#gc)"/>
<circle cx="40.18" cy="39.11" r="1.5" fill="#4640ff" opacity="1" filter="url(#gc)"/>
<circle cx="29.01" cy="37.34" r="1.2" fill="#e81818" opacity="0.24" filter="url(#gc)"/>
<circle cx="29.43" cy="38.18" r="1.5" fill="#4640ff" opacity="1" filter="url(#gc)"/>
<circle cx="21.04" cy="41.44" r="1.2" fill="#e81818" opacity="0.24" filter="url(#gc)"/>
<circle cx="21.84" cy="41.91" r="1.5" fill="#4640ff" opacity="1" filter="url(#gc)"/>
<circle cx="40.9" cy="46.84" r="1.2" fill="#e81818" opacity="0.24" filter="url(#gc)"/>
<circle cx="41.7" cy="46.35" r="1.5" fill="#4640ff" opacity="1" filter="url(#gc)"/>
<circle cx="71.89" cy="6.62" r="1.2" fill="#e81818" opacity="0.24" filter="url(#gc)"/>
<circle cx="72.64" cy="6.06" r="1.5" fill="#4640ff" opacity="1" filter="url(#gc)"/>
<circle cx="72.42" cy="0.48" r="1.2" fill="#e81818" opacity="0.24" filter="url(#gc)"/>
<circle cx="72.64" cy="1.39" r="1.5" fill="#4640ff" opacity="1" filter="url(#gc)"/>
<circle cx="65.98" cy="7.36" r="1.2" fill="#e81818" opacity="0.24" filter="url(#gc)"/>
<circle cx="65.05" cy="7.23" r="1.5" fill="#4640ff" opacity="1" filter="url(#gc)"/>
<line x1="2.9" y1="44.6" x2="17.6" y2="44.6" stroke="#f0f0f0" stroke-width="1.2"/>
<text x="10.25" y="42.8" font-size="5.4" text-anchor="middle" fill="#fff">50um</text>
<text x="36.9" y="10.7" font-size="8.85" text-anchor="middle" fill="#fff">si<tspan font-style="italic">Pparg</tspan>-37<tspan font-size="5.31" dy="-3.19">o</tspan><tspan dy="3.19">C</tspan></text>
</svg>
<svg x="526.1" y="806" width="73.9" height="47.3">
<rect x="0" y="0" width="73.9" height="47.3" fill="#000"/>
<g filter="url(#fire)">
<rect x="0" y="0" width="73.9" height="47.3" fill="#fff"/>
<ellipse cx="4.32" cy="22.28" rx="6.42" ry="4.67" fill="#000" transform="rotate(20 4.32 22.28)"/>
<ellipse cx="7.24" cy="25.2" rx="4.09" ry="5.26" fill="#000" transform="rotate(-20 7.24 25.2)"/>
<ellipse cx="8.41" cy="41.55" rx="9.93" ry="5.26" fill="#000" transform="rotate(10 8.41 41.55)"/>
<ellipse cx="15.42" cy="45.05" rx="7.01" ry="2.92" fill="#000" transform="rotate(0 15.42 45.05)"/>
<ellipse cx="39.94" cy="38.63" rx="4.67" ry="3.5" fill="#000" transform="rotate(30 39.94 38.63)"/>
<ellipse cx="43.45" cy="35.71" rx="2.92" ry="2.34" fill="#000" transform="rotate(0 43.45 35.71)"/>
<ellipse cx="58.63" cy="24.03" rx="2.34" ry="5.84" fill="#000" transform="rotate(10 58.63 24.03)"/>
<ellipse cx="36.44" cy="13.52" rx="2.34" ry="1.4" fill="#000" transform="rotate(0 36.44 13.52)"/>
</g>
<circle cx="63.26" cy="5.19" r="1.1" fill="#6a3aff" opacity="0.85" filter="url(#g1)"/>
<circle cx="13.51" cy="18.3" r="1.1" fill="#6a3aff" opacity="0.85" filter="url(#g1)"/>
<circle cx="1.95" cy="40.93" r="1.1" fill="#6a3aff" opacity="0.85" filter="url(#g1)"/>
<circle cx="29.62" cy="17.57" r="1.1" fill="#6a3aff" opacity="0.85" filter="url(#g1)"/>
<circle cx="25.27" cy="40.44" r="1.1" fill="#6a3aff" opacity="0.85" filter="url(#g1)"/>
<circle cx="25.33" cy="30.54" r="1.1" fill="#6a3aff" opacity="0.85" filter="url(#g1)"/>
<circle cx="69.88" cy="20.24" r="1.1" fill="#6a3aff" opacity="0.85" filter="url(#g1)"/>
<circle cx="66.45" cy="26.16" r="1.1" fill="#6a3aff" opacity="0.85" filter="url(#g1)"/>
<circle cx="29" cy="22.25" r="1.1" fill="#6a3aff" opacity="0.85" filter="url(#g1)"/>
<circle cx="25.94" cy="20.84" r="1.1" fill="#6a3aff" opacity="0.85" filter="url(#g1)"/>
<circle cx="21.29" cy="2.39" r="1.1" fill="#6a3aff" opacity="0.85" filter="url(#g1)"/>
<circle cx="58.74" cy="12.13" r="1.1" fill="#6a3aff" opacity="0.85" filter="url(#g1)"/>
<circle cx="10.66" cy="10.08" r="1.1" fill="#6a3aff" opacity="0.85" filter="url(#g1)"/>
<circle cx="40.22" cy="36.66" r="1.1" fill="#6a3aff" opacity="0.85" filter="url(#g1)"/>
<circle cx="40.94" cy="22.26" r="1.1" fill="#6a3aff" opacity="0.85" filter="url(#g1)"/>
<circle cx="58.04" cy="12.06" r="1.1" fill="#6a3aff" opacity="0.85" filter="url(#g1)"/>
<circle cx="27.61" cy="10.99" r="1.1" fill="#6a3aff" opacity="0.85" filter="url(#g1)"/>
<circle cx="30.27" cy="29.55" r="1.1" fill="#6a3aff" opacity="0.85" filter="url(#g1)"/>
<circle cx="42.78" cy="14.62" r="1.1" fill="#6a3aff" opacity="0.85" filter="url(#g1)"/>
<circle cx="35.31" cy="10.45" r="1.1" fill="#6a3aff" opacity="0.85" filter="url(#g1)"/>
<circle cx="62.56" cy="31.62" r="1.1" fill="#6a3aff" opacity="0.85" filter="url(#g1)"/>
<circle cx="68.52" cy="46.13" r="1.1" fill="#6a3aff" opacity="0.85" filter="url(#g1)"/>
<circle cx="43.86" cy="21.06" r="1.1" fill="#6a3aff" opacity="0.85" filter="url(#g1)"/>
<circle cx="71.93" cy="25.3" r="1.1" fill="#6a3aff" opacity="0.85" filter="url(#g1)"/>
<circle cx="30.2" cy="24.2" r="1.1" fill="#6a3aff" opacity="0.85" filter="url(#g1)"/>
<circle cx="10.35" cy="35.01" r="1.1" fill="#6a3aff" opacity="0.85" filter="url(#g1)"/>
<circle cx="49.69" cy="5.37" r="1.1" fill="#6a3aff" opacity="0.85" filter="url(#g1)"/>
<circle cx="62.09" cy="34.35" r="1.1" fill="#6a3aff" opacity="0.85" filter="url(#g1)"/>
<circle cx="55.89" cy="2.55" r="1.1" fill="#6a3aff" opacity="0.85" filter="url(#g1)"/>
<circle cx="52.57" cy="7.78" r="1.1" fill="#6a3aff" opacity="0.85" filter="url(#g1)"/>
<line x1="2.9" y1="44.3" x2="17.6" y2="44.3" stroke="#f0f0f0" stroke-width="1.2"/>
<text x="10.25" y="42.5" font-size="5.4" text-anchor="middle" fill="#fff">50um</text>
<text x="37.1" y="10" font-size="8.85" text-anchor="middle" fill="#fff">siCtrl-45<tspan font-size="5.31" dy="-3.19">o</tspan><tspan dy="3.19">C+OA</tspan></text>
</svg>
<svg x="604.1" y="806" width="73.9" height="47.3">
<rect x="0" y="0" width="73.9" height="47.3" fill="#000"/>
<circle cx="14.6" cy="8.93" r="2.4" fill="#e81818" opacity="0.76" filter="url(#gc)"/>
<circle cx="13.67" cy="8.85" r="1.6" fill="#4640ff" opacity="1" filter="url(#gc)"/>
<circle cx="19.28" cy="23.12" r="2.4" fill="#e81818" opacity="0.76" filter="url(#gc)"/>
<circle cx="19.51" cy="24.03" r="1.6" fill="#4640ff" opacity="1" filter="url(#gc)"/>
<circle cx="16.85" cy="27.24" r="2.4" fill="#e81818" opacity="0.76" filter="url(#gc)"/>
<circle cx="17.17" cy="28.12" r="1.6" fill="#4640ff" opacity="1" filter="url(#gc)"/>
<circle cx="36.01" cy="19.02" r="2.4" fill="#e81818" opacity="0.76" filter="url(#gc)"/>
<circle cx="35.86" cy="19.94" r="1.6" fill="#4640ff" opacity="1" filter="url(#gc)"/>
<circle cx="43.56" cy="16.78" r="2.4" fill="#e81818" opacity="0.76" filter="url(#gc)"/>
<circle cx="43.45" cy="15.85" r="1.6" fill="#4640ff" opacity="1" filter="url(#gc)"/>
<circle cx="43.8" cy="20.81" r="2.4" fill="#e81818" opacity="0.76" filter="url(#gc)"/>
<circle cx="43.45" cy="19.94" r="1.6" fill="#4640ff" opacity="1" filter="url(#gc)"/>
<circle cx="57.6" cy="20.52" r="2.4" fill="#e81818" opacity="0.76" filter="url(#gc)"/>
<circle cx="56.88" cy="21.11" r="1.6" fill="#4640ff" opacity="1" filter="url(#gc)"/>
<circle cx="57.73" cy="25" r="2.4" fill="#e81818" opacity="0.76" filter="url(#gc)"/>
<circle cx="56.88" cy="24.61" r="1.6" fill="#4640ff" opacity="1" filter="url(#gc)"/>
<circle cx="60.6" cy="27.63" r="2.4" fill="#e81818" opacity="0.76" filter="url(#gc)"/>
<circle cx="59.8" cy="28.12" r="1.6" fill="#4640ff" opacity="1" filter="url(#gc)"/>
<circle cx="53.11" cy="30.16" r="2.4" fill="#e81818" opacity="0.76" filter="url(#gc)"/>
<circle cx="52.79" cy="31.04" r="1.6" fill="#4640ff" opacity="1" filter="url(#gc)"/>
<circle cx="58.09" cy="30.1" r="2.4" fill="#e81818" opacity="0.76" filter="url(#gc)"/>
<circle cx="58.05" cy="31.04" r="1.6" fill="#4640ff" opacity="1" filter="url(#gc)"/>
<circle cx="46.11" cy="32.49" r="2.4" fill="#e81818" opacity="0.76" filter="url(#gc)"/>
<circle cx="45.78" cy="31.62" r="1.6" fill="#4640ff" opacity="1" filter="url(#gc)"/>
<circle cx="43.85" cy="35.38" r="2.4" fill="#e81818" opacity="0.76" filter="url(#gc)"/>
<circle cx="44.03" cy="36.29" r="1.6" fill="#4640ff" opacity="1" filter="url(#gc)"/>
<circle cx="60.59" cy="36.78" r="2.4" fill="#e81818" opacity="0.76" filter="url(#gc)"/>
<circle cx="59.8" cy="36.29" r="1.6" fill="#4640ff" opacity="1" filter="url(#gc)"/>
<circle cx="55.49" cy="39.53" r="2.4" fill="#e81818" opacity="0.76" filter="url(#gc)"/>
<circle cx="55.71" cy="38.63" r="1.6" fill="#4640ff" opacity="1" filter="url(#gc)"/>
<circle cx="45.58" cy="40.11" r="2.4" fill="#e81818" opacity="0.76" filter="url(#gc)"/>
<circle cx="45.2" cy="40.96" r="1.6" fill="#4640ff" opacity="1" filter="url(#gc)"/>
<circle cx="50.29" cy="41.52" r="2.4" fill="#e81818" opacity="0.76" filter="url(#gc)"/>
<circle cx="51.04" cy="40.96" r="1.6" fill="#4640ff" opacity="1" filter="url(#gc)"/>
<circle cx="48.13" cy="44.62" r="2.4" fill="#e81818" opacity="0.76" filter="url(#gc)"/>
<circle cx="48.7" cy="43.88" r="1.6" fill="#4640ff" opacity="1" filter="url(#gc)"/>
<circle cx="54.48" cy="42.52" r="2.4" fill="#e81818" opacity="0.76" filter="url(#gc)"/>
<circle cx="53.96" cy="43.3" r="1.6" fill="#4640ff" opacity="1" filter="url(#gc)"/>
<circle cx="8.67" cy="38.25" r="2.4" fill="#e81818" opacity="0.76" filter="url(#gc)"/>
<circle cx="9.58" cy="38.04" r="1.6" fill="#4640ff" opacity="1" filter="url(#gc)"/>
<circle cx="11.27" cy="42.04" r="2.4" fill="#e81818" opacity="0.76" filter="url(#gc)"/>
<circle cx="11.91" cy="42.72" r="1.6" fill="#4640ff" opacity="1" filter="url(#gc)"/>
<circle cx="57.98" cy="1.17" r="2.4" fill="#e81818" opacity="0.76" filter="url(#gc)"/>
<circle cx="58.63" cy="1.84" r="1.6" fill="#4640ff" opacity="1" filter="url(#gc)"/>
<circle cx="73.84" cy="11.64" r="2.4" fill="#e81818" opacity="0.76" filter="url(#gc)"/>
<circle cx="73.23" cy="12.35" r="1.6" fill="#4640ff" opacity="1" filter="url(#gc)"/>
<circle cx="74.09" cy="33.01" r="2.4" fill="#e81818" opacity="0.76" filter="url(#gc)"/>
<circle cx="73.23" cy="33.37" r="1.6" fill="#4640ff" opacity="1" filter="url(#gc)"/>
<line x1="2.9" y1="44.3" x2="17.6" y2="44.3" stroke="#f0f0f0" stroke-width="1.2"/>
<text x="10.25" y="42.5" font-size="5.4" text-anchor="middle" fill="#fff">50um</text>
<text x="35.9" y="10" font-size="8.85" text-anchor="middle" fill="#fff">si<tspan font-style="italic">Pparg</tspan>-45<tspan font-size="5.31" dy="-3.19">o</tspan><tspan dy="3.19">C+OA</tspan></text>
</svg>
</svg>
</body></html>
